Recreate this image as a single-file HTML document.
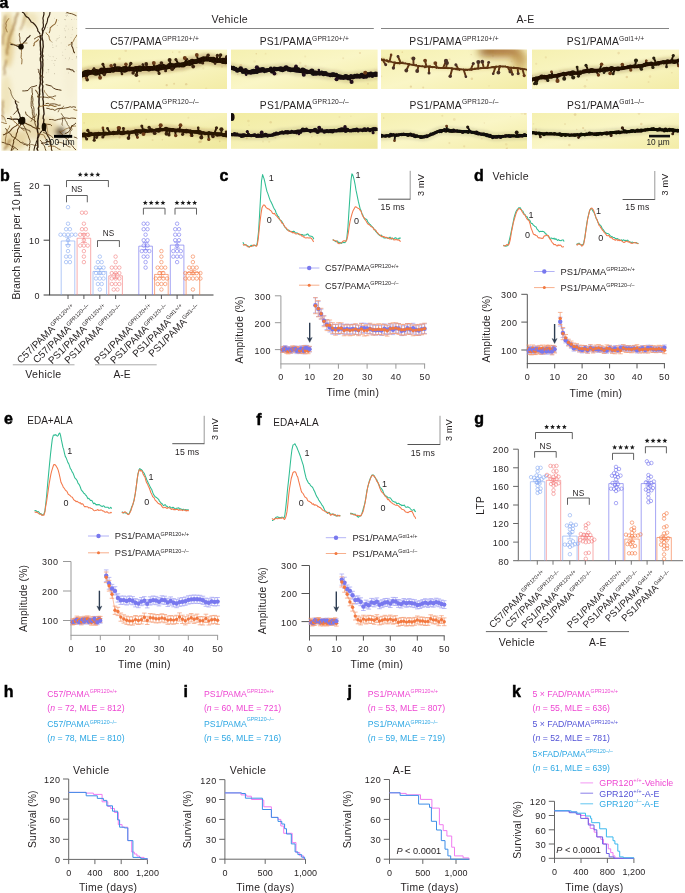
<!DOCTYPE html>
<html><head><meta charset="utf-8"><title>Figure</title>
<style>
html,body{margin:0;padding:0;background:#fff;}
body{width:685px;height:893px;overflow:hidden;}
svg{display:block;font-family:"Liberation Sans",sans-serif;will-change:transform;}
</style></head><body>
<svg width="685" height="893" viewBox="0 0 685 893">
<defs><filter id="bl1" filterUnits="userSpaceOnUse" x="0" y="0" width="80" height="160"><feGaussianBlur stdDeviation="0.4"/></filter><filter id="bl4" filterUnits="userSpaceOnUse" x="0" y="0" width="80" height="160"><feGaussianBlur stdDeviation="2.5"/></filter><filter id="bl5" filterUnits="userSpaceOnUse" x="0" y="0" width="80" height="160"><feGaussianBlur stdDeviation="1.1"/></filter><clipPath id="clipN"><rect x="1.3" y="11.8" width="76" height="139"/></clipPath><linearGradient id="dg" x1="0" y1="0" x2="1" y2="1"><stop offset="0" stop-color="#f5f0b0"/><stop offset="0.5" stop-color="#faf6c6"/><stop offset="1" stop-color="#f3eca6"/></linearGradient><linearGradient id="dg2" x1="0" y1="0" x2="1" y2="1"><stop offset="0" stop-color="#f2eca2"/><stop offset="0.5" stop-color="#f6f1b6"/><stop offset="1" stop-color="#efe89c"/></linearGradient><filter id="bd" filterUnits="userSpaceOnUse" x="0" y="0" width="685" height="160"><feGaussianBlur stdDeviation="0.75"/></filter><filter id="bh" filterUnits="userSpaceOnUse" x="0" y="0" width="685" height="160"><feGaussianBlur stdDeviation="1.6"/></filter><filter id="bb" filterUnits="userSpaceOnUse" x="0" y="0" width="685" height="160"><feGaussianBlur stdDeviation="4"/></filter><clipPath id="cl00"><rect x="82.0" y="49.6" width="145.0" height="39.4"/></clipPath><clipPath id="cl01"><rect x="231.0" y="49.6" width="146.60000000000002" height="39.4"/></clipPath><clipPath id="cl02"><rect x="381.0" y="49.6" width="146.0" height="39.4"/></clipPath><clipPath id="cl03"><rect x="532.0" y="49.6" width="147.0" height="39.4"/></clipPath><clipPath id="cl10"><rect x="82.0" y="113.0" width="145.0" height="35.80000000000001"/></clipPath><clipPath id="cl11"><rect x="231.0" y="113.0" width="146.60000000000002" height="35.80000000000001"/></clipPath><clipPath id="cl12"><rect x="381.0" y="113.0" width="146.0" height="35.80000000000001"/></clipPath><clipPath id="cl13"><rect x="532.0" y="113.0" width="147.0" height="35.80000000000001"/></clipPath></defs>
<rect width="685" height="893" fill="#fff"/>
<text x="-0.4" y="7.9" font-size="16" font-weight="bold" fill="#000" stroke="#000" stroke-width="0.45">a</text>
<rect x="1.30" y="11.80" width="76.00" height="139.00" fill="#f8f3da" stroke="none" stroke-width="1.0" />
<g clip-path="url(#clipN)">
<g filter="url(#bl4)">
<ellipse cx="8" cy="40" rx="6" ry="28" fill="#d8b868" opacity="0.55"/>
<ellipse cx="6" cy="95" rx="6" ry="20" fill="#e4cf90" opacity="0.4"/>
<ellipse cx="14" cy="140" rx="14" ry="10" fill="#d8b870" opacity="0.5"/>
<ellipse cx="40" cy="128" rx="18" ry="12" fill="#dcc080" opacity="0.45"/>
<ellipse cx="30" cy="20" rx="8" ry="8" fill="#e0c888" opacity="0.35"/>
<ellipse cx="60" cy="132" rx="5" ry="5" fill="#3a2410" opacity="0.75"/>
<ellipse cx="70" cy="60" rx="7" ry="40" fill="#f4eed2" opacity="0.5"/>
</g>
<circle cx="48.8" cy="71.9" r="0.29" fill="#6a5a40" opacity="0.60"/>
<circle cx="72.1" cy="59.3" r="0.33" fill="#6a5a40" opacity="0.44"/>
<circle cx="68.4" cy="72.9" r="0.42" fill="#6a5a40" opacity="0.52"/>
<circle cx="58.0" cy="38.2" r="0.43" fill="#6a5a40" opacity="0.47"/>
<circle cx="62.6" cy="52.1" r="0.41" fill="#6a5a40" opacity="0.32"/>
<circle cx="53.1" cy="56.8" r="0.39" fill="#6a5a40" opacity="0.64"/>
<circle cx="47.6" cy="27.4" r="0.38" fill="#6a5a40" opacity="0.60"/>
<circle cx="52.0" cy="60.4" r="0.35" fill="#6a5a40" opacity="0.42"/>
<circle cx="71.7" cy="19.6" r="0.48" fill="#6a5a40" opacity="0.42"/>
<circle cx="57.2" cy="25.6" r="0.37" fill="#6a5a40" opacity="0.64"/>
<circle cx="52.9" cy="47.3" r="0.36" fill="#6a5a40" opacity="0.42"/>
<circle cx="50.0" cy="56.3" r="0.35" fill="#6a5a40" opacity="0.49"/>
<circle cx="64.7" cy="19.6" r="0.45" fill="#6a5a40" opacity="0.66"/>
<circle cx="53.9" cy="63.6" r="0.42" fill="#6a5a40" opacity="0.42"/>
<circle cx="54.4" cy="18.2" r="0.35" fill="#6a5a40" opacity="0.48"/>
<circle cx="61.1" cy="42.9" r="0.39" fill="#6a5a40" opacity="0.35"/>
<circle cx="53.0" cy="47.7" r="0.37" fill="#6a5a40" opacity="0.37"/>
<circle cx="54.6" cy="73.7" r="0.45" fill="#6a5a40" opacity="0.59"/>
<circle cx="57.0" cy="39.0" r="0.43" fill="#6a5a40" opacity="0.52"/>
<circle cx="65.9" cy="15.2" r="0.43" fill="#6a5a40" opacity="0.38"/>
<circle cx="56.2" cy="45.9" r="0.49" fill="#6a5a40" opacity="0.46"/>
<circle cx="66.0" cy="25.9" r="0.48" fill="#6a5a40" opacity="0.40"/>
<circle cx="62.8" cy="55.2" r="0.42" fill="#6a5a40" opacity="0.48"/>
<circle cx="66.1" cy="13.6" r="0.50" fill="#6a5a40" opacity="0.52"/>
<circle cx="64.4" cy="28.8" r="0.37" fill="#6a5a40" opacity="0.56"/>
<circle cx="58.8" cy="20.5" r="0.30" fill="#6a5a40" opacity="0.65"/>
<circle cx="52.4" cy="44.9" r="0.43" fill="#6a5a40" opacity="0.39"/>
<circle cx="71.0" cy="42.5" r="0.49" fill="#6a5a40" opacity="0.38"/>
<circle cx="59.2" cy="35.5" r="0.32" fill="#6a5a40" opacity="0.47"/>
<circle cx="59.2" cy="37.4" r="0.47" fill="#6a5a40" opacity="0.43"/>
<circle cx="47.7" cy="59.5" r="0.36" fill="#6a5a40" opacity="0.31"/>
<circle cx="69.4" cy="58.0" r="0.41" fill="#6a5a40" opacity="0.63"/>
<circle cx="54.4" cy="65.1" r="0.34" fill="#6a5a40" opacity="0.64"/>
<circle cx="77.0" cy="47.4" r="0.36" fill="#6a5a40" opacity="0.59"/>
<circle cx="68.3" cy="44.3" r="0.27" fill="#6a5a40" opacity="0.44"/>
<circle cx="67.1" cy="13.9" r="0.35" fill="#6a5a40" opacity="0.67"/>
<circle cx="68.2" cy="29.1" r="0.28" fill="#6a5a40" opacity="0.53"/>
<circle cx="65.1" cy="30.8" r="0.38" fill="#6a5a40" opacity="0.70"/>
<circle cx="66.2" cy="46.6" r="0.27" fill="#6a5a40" opacity="0.49"/>
<circle cx="46.7" cy="72.8" r="0.38" fill="#6a5a40" opacity="0.54"/>
<circle cx="67.1" cy="15.5" r="0.46" fill="#6a5a40" opacity="0.58"/>
<circle cx="48.2" cy="69.7" r="0.47" fill="#6a5a40" opacity="0.70"/>
<circle cx="48.9" cy="69.8" r="0.44" fill="#6a5a40" opacity="0.40"/>
<circle cx="48.5" cy="54.9" r="0.27" fill="#6a5a40" opacity="0.52"/>
<circle cx="71.0" cy="37.6" r="0.33" fill="#6a5a40" opacity="0.47"/>
<circle cx="49.5" cy="16.9" r="0.39" fill="#6a5a40" opacity="0.63"/>
<circle cx="76.7" cy="19.5" r="0.33" fill="#6a5a40" opacity="0.63"/>
<circle cx="55.0" cy="60.6" r="0.49" fill="#6a5a40" opacity="0.64"/>
<circle cx="65.4" cy="58.2" r="0.46" fill="#6a5a40" opacity="0.36"/>
<circle cx="56.4" cy="58.5" r="0.37" fill="#6a5a40" opacity="0.61"/>
<circle cx="76.2" cy="57.9" r="0.40" fill="#6a5a40" opacity="0.59"/>
<circle cx="74.7" cy="19.1" r="0.26" fill="#6a5a40" opacity="0.62"/>
<circle cx="72.4" cy="53.8" r="0.36" fill="#6a5a40" opacity="0.41"/>
<circle cx="76.5" cy="56.7" r="0.50" fill="#6a5a40" opacity="0.56"/>
<circle cx="72.5" cy="27.3" r="0.43" fill="#6a5a40" opacity="0.34"/>
<circle cx="56.1" cy="40.8" r="0.38" fill="#6a5a40" opacity="0.70"/>
<circle cx="65.5" cy="19.7" r="0.45" fill="#6a5a40" opacity="0.60"/>
<circle cx="71.7" cy="71.0" r="0.45" fill="#6a5a40" opacity="0.51"/>
<circle cx="66.6" cy="16.4" r="0.34" fill="#6a5a40" opacity="0.46"/>
<circle cx="68.8" cy="16.8" r="0.30" fill="#6a5a40" opacity="0.40"/>
<circle cx="52.2" cy="42.3" r="0.50" fill="#6a5a40" opacity="0.43"/>
<circle cx="48.1" cy="14.1" r="0.44" fill="#6a5a40" opacity="0.46"/>
<circle cx="76.6" cy="28.4" r="0.49" fill="#6a5a40" opacity="0.42"/>
<circle cx="76.3" cy="70.8" r="0.35" fill="#6a5a40" opacity="0.34"/>
<circle cx="65.2" cy="49.3" r="0.41" fill="#6a5a40" opacity="0.36"/>
<circle cx="72.0" cy="34.4" r="0.33" fill="#6a5a40" opacity="0.33"/>
<circle cx="46.7" cy="40.8" r="0.28" fill="#6a5a40" opacity="0.42"/>
<circle cx="68.9" cy="59.8" r="0.36" fill="#6a5a40" opacity="0.39"/>
<circle cx="65.4" cy="36.9" r="0.50" fill="#6a5a40" opacity="0.61"/>
<circle cx="72.6" cy="29.8" r="0.44" fill="#6a5a40" opacity="0.47"/>
<g filter="url(#bl5)">
<path d="M18.1 12.1 L17.3 14.4 L16.6 16.3 L15.5 17.9 L15.5 20.0 L14.9 22.9 L13.8 25.4 L13.1 27.0 L13.1 29.3 L11.9 30.6 L11.3 33.3 L9.9 35.9 L9.6 37.4 L8.9 39.6 L8.6 42.5 L7.7 44.9 L8.4 46.7 L7.3 48.8 L6.8 50.8 L7.1 53.5 L7.0 55.0" stroke="#8a5a1c" stroke-width="2.0" fill="none" opacity="0.6"/>
<path d="M6.3 59.9 L5.7 62.7 L5.7 63.9 L4.3 67.4 L4.2 69.4 L4.7 71.0 L4.8 73.2 L4.0 75.0" stroke="#8a5a1c" stroke-width="1.6" fill="none" opacity="0.6"/>
<path d="M2.5 100.3 L3.1 102.0 L2.3 104.5 L3.2 106.0 L2.6 107.6 L1.7 109.8 L2.5 111.3 L2.8 113.6 L1.8 115.3 L2.9 118.4 L2.0 120.0" stroke="#8a5a1c" stroke-width="1.5" fill="none" opacity="0.6"/>
<path d="M10.7 139.7 L8.7 141.4 L8.4 143.4 L6.7 146.2 L5.5 147.9 L4.0 150.0" stroke="#8a5a1c" stroke-width="2.0" fill="none" opacity="0.6"/>
<path d="M5.1 15.4 L5.3 17.7 L4.4 20.0 L4.7 21.8 L4.8 24.3 L3.9 25.5 L4.5 28.0 L4.4 29.8 L4.6 31.4 L4.1 34.1 L2.8 36.7 L2.7 38.1 L3.0 40.2 L2.6 42.2 L3.0 45.0" stroke="#8a5a1c" stroke-width="1.4" fill="none" opacity="0.6"/>
<path d="M25.9 11.6 L26.3 13.8 L24.9 16.5 L24.4 18.2 L24.3 20.7 L23.3 21.5 L23.4 23.2 L22.3 25.4 L21.1 28.4 L20.0 30.0" stroke="#8a5a1c" stroke-width="1.2" fill="none" opacity="0.6"/>
</g>
<g filter="url(#bl1)">
<path d="M38.0 151.5 L37.0 148.4 L37.9 147.1 L37.8 144.5 L37.7 142.7 L37.7 140.1 L37.6 138.3 L38.0 136.8 L38.2 134.2 L37.7 131.8 L37.3 129.5 L37.8 127.8 L37.8 126.4 L38.0 124.1 L37.8 121.5 L38.0 119.6 L38.2 118.5 L38.5 115.7 L38.8 114.3 L38.7 112.4 L38.8 110.3 L38.4 108.5 L39.2 105.6 L39.1 104.2 L38.9 102.0 L39.0 100.5 L39.1 98.4 L39.0 96.4 L39.7 94.0 L39.5 92.5 L39.7 90.0 L39.3 87.8 L39.9 85.6 L40.2 83.7 L40.4 81.8 L40.5 80.2 L40.1 78.0 L40.4 76.1 L40.1 73.7 L40.4 72.5 L40.6 69.5 L40.9 68.2 L41.0 65.7 L40.9 63.5 L40.9 61.8 L40.4 60.4 L40.4 58.0 L41.2 55.7 L40.6 54.4 L40.9 52.2 L40.5 49.8 L40.6 48.0 L40.4 46.2 L40.3 43.8 L40.2 41.2 L41.0 38.9 L40.2 37.4 L40.5 35.0" stroke="#2e1c0c" stroke-width="1.5" fill="none" stroke-linejoin="round"/>
<path d="M43.5 124.0 L43.6 122.1 L43.9 119.5 L43.1 118.4 L43.4 115.7 L44.1 114.0 L43.9 112.0 L43.7 109.6 L43.5 108.3 L43.3 106.0 L43.4 103.1 L43.4 101.5 L42.8 98.8 L43.3 97.1 L43.0 95.4 L42.9 93.3 L42.5 91.0 L42.5 89.1 L42.9 86.0 L42.0 84.0 L42.8 82.1 L42.3 79.8 L42.2 77.9 L42.1 76.1 L42.4 74.4 L42.5 72.5 L42.7 70.5 L42.6 67.6 L42.8 66.5 L42.9 64.1 L42.7 61.7 L42.9 60.1 L42.3 57.4 L43.0 56.3 L42.3 53.9 L42.7 51.0 L42.6 49.6 L43.3 46.6 L43.1 44.5 L43.0 42.8 L43.0 41.5 L42.4 39.5 L42.0 36.5 L42.0 35.0" stroke="#2e1c0c" stroke-width="1.35" fill="none" stroke-linejoin="round"/>
<path d="M40.2 34.6 L39.3 32.6 L37.8 30.9 L37.7 29.3 L36.4 26.7 L35.0 24.8 L32.9 22.8 L31.2 22.0 L30.1 20.1 L28.3 17.7 L26.3 16.6 L25.3 15.4 L23.9 13.0 L22.0 12.0" stroke="#2e1c0c" stroke-width="1.2000000000000002" fill="none" stroke-linejoin="round"/>
<path d="M42.1 35.3 L42.5 33.5 L42.7 31.5 L42.1 29.0 L43.3 27.2 L43.4 24.6 L43.1 22.6 L43.3 20.7 L42.9 18.2 L43.3 16.8 L44.0 13.8 L43.8 12.0" stroke="#2e1c0c" stroke-width="1.2000000000000002" fill="none" stroke-linejoin="round"/>
<path d="M42.3 35.4 L42.8 32.7 L43.1 31.2 L44.4 29.3 L45.1 27.3 L45.7 25.3 L46.9 22.7 L47.4 20.9 L47.7 18.6 L49.0 16.1 L49.7 14.4 L50.0 12.0" stroke="#2e1c0c" stroke-width="1.125" fill="none" stroke-linejoin="round"/>
<path d="M36.3 129.6 L36.4 127.5 L35.9 125.9 L35.1 124.0 L34.8 121.9 L34.5 119.5 L34.6 118.4 L34.0 115.7 L34.2 114.5 L33.9 111.9 L34.0 109.5 L33.8 107.8 L32.8 105.6 L32.9 104.3 L32.6 102.1 L33.0 99.9 L32.7 97.5 L32.1 95.7 L32.6 93.9 L32.1 92.1 L32.1 89.8 L32.0 88.0" stroke="#5a3a14" stroke-width="0.8999999999999999" fill="none" stroke-linejoin="round"/>
<path d="M20.7 47.3 L18.1 46.4 L15.5 45.2 L13.8 44.7 L10.5 44.5" stroke="#2e1c0c" stroke-width="1.0499999999999998" fill="none" stroke-linejoin="round"/>
<path d="M21.0 46.7 L21.9 45.5 L23.0 43.4 L25.2 41.2 L26.1 40.1 L27.0 38.2 L29.2 36.7 L30.4 35.1" stroke="#2e1c0c" stroke-width="1.0499999999999998" fill="none" stroke-linejoin="round"/>
<path d="M21.1 46.7 L21.2 48.5 L21.5 51.3 L21.4 52.6 L21.3 54.8 L21.1 57.8 L22.0 59.1 L21.9 62.1 L21.6 64.3" stroke="#8a6430" stroke-width="0.8999999999999999" fill="none" stroke-linejoin="round"/>
<path d="M20.9 46.9 L21.1 44.5 L20.3 42.4 L19.7 40.0 L20.0 38.0 L19.2 35.1 L19.5 33.0" stroke="#5a3a14" stroke-width="0.75" fill="none" stroke-linejoin="round"/>
<path d="M34.0 39.2 L36.5 37.5 L38.1 36.7 L40.9 35.7" stroke="#5a3a14" stroke-width="0.8999999999999999" fill="none" stroke-linejoin="round"/>
<path d="M66.3 12.2 L69.5 13.4 L71.7 13.7 L73.9 14.6 L76.5 15.8" stroke="#5a3a14" stroke-width="0.8999999999999999" fill="none" stroke-linejoin="round"/>
<path d="M21.2 121.1 L21.0 119.2 L19.9 116.3 L19.7 114.5 L18.5 112.4 L17.9 110.3 L16.9 107.3 L17.0 105.0 L15.6 103.1 L15.2 100.4" stroke="#2e1c0c" stroke-width="1.2000000000000002" fill="none" stroke-linejoin="round"/>
<path d="M22.1 120.4 L19.3 119.9 L17.1 119.1 L14.4 119.2 L12.1 119.4 L9.0 118.5 L7.0 118.5" stroke="#2e1c0c" stroke-width="1.2000000000000002" fill="none" stroke-linejoin="round"/>
<path d="M21.4 120.9 L19.6 122.5 L17.8 124.5 L15.7 126.1 L13.5 127.4 L11.8 128.9 L10.3 130.8 L8.6 132.5 L6.2 133.4 L5.1 134.2 L3.0 135.0" stroke="#5a3a14" stroke-width="1.0499999999999998" fill="none" stroke-linejoin="round"/>
<path d="M21.6 121.2 L21.2 122.9 L20.1 125.7 L19.1 127.3 L17.5 129.9 L17.5 131.7 L16.4 133.8 L16.0 136.5 L14.7 138.5 L13.5 140.3 L13.8 141.8 L13.0 144.5 L12.7 146.3 L11.6 149.2 L11.0 151.0" stroke="#5a3a14" stroke-width="1.0499999999999998" fill="none" stroke-linejoin="round"/>
<path d="M21.2 121.1 L23.2 121.6 L25.2 123.0 L27.0 124.0 L28.7 124.7 L31.2 125.8 L33.2 127.3 L35.7 128.2 L37.4 128.0 L40.0 129.0" stroke="#5a3a14" stroke-width="1.0499999999999998" fill="none" stroke-linejoin="round"/>
<path d="M21.8 121.2 L22.5 122.7 L23.2 125.1 L24.0 126.0 L24.9 127.9 L25.8 129.7 L26.4 131.8 L27.4 134.1 L28.1 135.5 L28.9 138.0 L29.9 140.3 L30.1 142.1 L29.2 144.7 L29.7 146.5 L29.4 148.6 L29.0 151.0" stroke="#5a3a14" stroke-width="0.8999999999999999" fill="none" stroke-linejoin="round"/>
<path d="M5.4 128.2 L6.7 130.0 L7.5 131.3 L9.6 133.2 L10.7 134.0 L11.9 136.5 L13.2 137.0 L15.7 138.3 L16.5 139.4 L18.8 140.6 L19.9 142.1 L22.3 143.0 L23.5 144.1 L25.5 144.6 L28.0 146.0" stroke="#5a3a14" stroke-width="0.8999999999999999" fill="none" stroke-linejoin="round"/>
<path d="M1.6 142.2 L4.1 142.7 L5.7 143.8 L8.3 144.3 L10.0 144.7 L11.5 146.1 L14.1 147.0 L16.3 148.5 L18.0 150.0" stroke="#5a3a14" stroke-width="0.8999999999999999" fill="none" stroke-linejoin="round"/>
<path d="M25.5 111.6 L26.1 114.5 L28.0 115.6 L30.2 117.8 L32.4 119.0 L34.5 120.5 L36.0 122.0" stroke="#5a3a14" stroke-width="0.8999999999999999" fill="none" stroke-linejoin="round"/>
<path d="M31.5 95.5 L31.5 96.5 L31.3 98.9 L31.3 100.6 L31.1 102.9 L31.2 105.0 L31.2 106.7 L32.2 109.2 L32.3 111.8 L32.3 113.2 L33.1 115.9 L33.0 118.0" stroke="#5a3a14" stroke-width="0.8999999999999999" fill="none" stroke-linejoin="round"/>
<path d="M44.0 127.1 L44.5 129.3 L45.6 131.1 L46.6 133.3 L47.6 135.6 L49.2 138.0 L49.9 140.4 L50.9 141.8 L50.8 144.9 L51.5 146.5 L51.4 149.3 L52.0 151.0" stroke="#2e1c0c" stroke-width="1.0499999999999998" fill="none" stroke-linejoin="round"/>
<path d="M43.7 127.2 L43.2 128.2 L42.3 130.5 L40.4 132.7 L39.7 133.8 L38.9 136.1 L37.6 138.2 L37.4 140.0 L36.3 142.1 L35.9 143.9 L34.8 146.5 L34.1 149.3 L34.0 151.0" stroke="#2e1c0c" stroke-width="1.0499999999999998" fill="none" stroke-linejoin="round"/>
<path d="M44.1 126.4 L45.6 125.5 L47.5 124.3 L50.3 124.5 L52.0 126.0" stroke="#5a3a14" stroke-width="0.8999999999999999" fill="none" stroke-linejoin="round"/>
<path d="M45.7 103.6 L48.2 103.3 L49.4 104.2 L51.8 103.9 L54.5 103.9 L56.8 104.5 L58.1 105.3 L60.7 105.1" stroke="#5a3a14" stroke-width="0.8999999999999999" fill="none" stroke-linejoin="round"/>
<path d="M46.3 108.2 L48.9 108.6 L50.4 109.3 L52.8 109.3 L54.9 110.4 L56.9 109.0 L59.1 108.4 L61.6 108.5 L63.8 108.3 L65.6 107.9 L68.0 107.5 L70.2 106.7 L71.7 107.3 L73.6 106.7 L76.0 107.4" stroke="#5a3a14" stroke-width="0.8999999999999999" fill="none" stroke-linejoin="round"/>
<path d="M49.1 119.5 L51.4 119.5 L53.0 119.7 L54.9 120.4 L56.6 119.9 L58.7 119.3 L61.5 118.8 L63.1 118.4 L65.3 117.9 L66.8 118.0 L69.3 118.5 L71.7 118.0 L74.0 118.2 L76.0 118.5" stroke="#5a3a14" stroke-width="0.8999999999999999" fill="none" stroke-linejoin="round"/>
<path d="M44.0 89.8 L44.8 92.2 L46.3 93.7 L47.9 96.2 L50.3 97.0 L52.0 98.5 L53.0 98.5 L55.0 100.0" stroke="#8a6430" stroke-width="0.75" fill="none" stroke-linejoin="round"/>
<path d="M59.5 131.6 L61.4 133.7 L62.6 134.6 L64.2 136.8 L65.6 138.3 L67.4 139.2 L68.4 141.1 L69.5 143.3 L70.4 143.9 L72.5 145.9 L73.7 147.8 L76.0 150.0" stroke="#5a3a14" stroke-width="0.8999999999999999" fill="none" stroke-linejoin="round"/>
<path d="M59.5 131.7 L61.8 131.4 L64.0 130.2 L65.6 129.0 L68.4 128.0 L70.5 127.9 L71.9 126.5 L74.3 126.1 L76.0 126.0" stroke="#8a6430" stroke-width="0.75" fill="none" stroke-linejoin="round"/>
<path d="M40.1 140.1 L41.7 141.8 L42.8 144.4 L44.4 145.7 L45.2 148.6 L46.0 151.0" stroke="#5a3a14" stroke-width="0.8999999999999999" fill="none" stroke-linejoin="round"/>
<path d="M61.2 113.3 L62.6 115.6 L63.7 116.9 L64.9 118.8 L65.3 120.3 L66.7 122.2 L67.5 124.6 L69.1 126.6 L69.3 127.8 L70.8 130.2" stroke="#4a2e10" stroke-width="0.7070147355307799" fill="none" stroke-linejoin="round"/>
<path d="M43.2 132.3 L45.2 133.2 L46.5 134.1 L48.7 134.7 L50.7 135.7 L51.6 136.5 L53.3 138.0" stroke="#5a3a14" stroke-width="0.8282917041255287" fill="none" stroke-linejoin="round"/>
<path d="M63.7 105.8 L63.3 106.8 L62.0 107.8 L60.0 108.6 L59.1 109.8 L58.6 110.9 L58.0 112.2" stroke="#5a3a14" stroke-width="0.6323474242272007" fill="none" stroke-linejoin="round"/>
<path d="M64.8 133.6 L67.0 132.9 L69.5 131.1 L70.6 128.6 L71.8 125.9 L74.1 124.7 L76.0 122.9" stroke="#4a2e10" stroke-width="0.9328643757508444" fill="none" stroke-linejoin="round"/>
<path d="M57.1 142.5 L59.6 142.3 L62.0 142.9 L64.1 143.7 L66.0 144.8 L68.1 146.4 L70.5 147.2" stroke="#5a3a14" stroke-width="0.7223656892787012" fill="none" stroke-linejoin="round"/>
<path d="M48.1 146.4 L50.2 146.1 L52.7 146.1 L54.5 146.4 L56.5 147.5 L58.4 148.8 L60.4 149.6" stroke="#8a6430" stroke-width="0.9379761845777379" fill="none" stroke-linejoin="round"/>
<path d="M71.9 125.1 L71.3 126.9 L72.1 129.8 L70.2 131.6 L70.0 134.0 L68.4 136.8 L68.3 138.7" stroke="#5a3a14" stroke-width="0.6235046418243314" fill="none" stroke-linejoin="round"/>
<path d="M48.7 136.5 L47.9 134.9 L47.8 132.4 L47.3 129.8 L47.0 127.7 L46.7 125.5 L46.0 123.0" stroke="#8a6430" stroke-width="0.6251802451371651" fill="none" stroke-linejoin="round"/>
<path d="M37.0 133.2 L38.7 133.7 L41.2 134.4 L43.1 134.7 L44.4 135.7 L45.2 137.9 L46.6 139.7" stroke="#8a6430" stroke-width="0.8590125191980593" fill="none" stroke-linejoin="round"/>
<path d="M6.1 122.2 L5.2 120.1 L4.8 118.7 L3.6 116.5 L1.3 115.5 L-0.2 115.0 L-1.8 113.9 L-4.0 113.3 L-5.6 114.1 L-8.1 113.8" stroke="#8a6430" stroke-width="0.6510550300689448" fill="none" stroke-linejoin="round"/>
<path d="M30.8 121.7 L32.1 119.9 L32.3 118.3 L33.5 117.3 L34.8 116.8 L36.3 115.4 L36.4 113.7" stroke="#5a3a14" stroke-width="0.6671207652337292" fill="none" stroke-linejoin="round"/>
<path d="M5.5 143.6 L5.4 141.3 L5.5 138.9 L5.9 136.9 L6.2 135.5 L6.2 133.3 L6.7 131.5 L8.2 128.9 L9.2 127.6 L9.7 125.4" stroke="#8a6430" stroke-width="0.8202841753354345" fill="none" stroke-linejoin="round"/>
<path d="M22.2 141.9 L24.5 143.5 L26.6 144.2 L29.8 145.0 L31.9 144.4 L35.0 145.5 L38.0 145.3" stroke="#5a3a14" stroke-width="0.6082356878841391" fill="none" stroke-linejoin="round"/>
<path d="M37.8 96.9 L38.1 95.5 L38.3 94.2 L37.3 93.0 L36.8 91.3 L36.1 91.3 L35.5 89.8" stroke="#5a3a14" stroke-width="0.9505735072592207" fill="none" stroke-linejoin="round"/>
<path d="M14.3 147.9 L12.7 149.7 L11.2 151.2 L8.9 152.3 L7.0 154.3 L3.7 154.5 L1.7 154.7" stroke="#5a3a14" stroke-width="0.9947779124434056" fill="none" stroke-linejoin="round"/>
<path d="M49.6 142.2 L50.3 144.8 L51.4 146.2 L51.5 149.2 L52.2 151.4 L53.3 153.4 L54.2 155.7 L54.9 157.5 L55.6 159.2 L57.0 161.7" stroke="#5a3a14" stroke-width="0.9491413412725513" fill="none" stroke-linejoin="round"/>
<path d="M73.8 137.0 L76.3 137.7 L78.4 139.2 L80.0 140.0 L82.6 141.2 L84.0 143.5 L86.3 144.6" stroke="#4a2e10" stroke-width="0.8405192224695184" fill="none" stroke-linejoin="round"/>
<path d="M73.4 109.3 L75.5 110.1 L77.8 110.3 L80.8 110.7 L82.9 112.0 L84.5 112.8 L86.6 113.4 L88.4 115.2 L89.7 117.5 L90.5 118.9" stroke="#8a6430" stroke-width="0.9038122597813701" fill="none" stroke-linejoin="round"/>
<path d="M13.3 114.6 L13.9 114.0 L15.1 112.8 L16.1 111.5 L17.2 110.8 L17.4 109.8 L18.9 109.0" stroke="#4a2e10" stroke-width="0.8608908133628417" fill="none" stroke-linejoin="round"/>
<path d="M41.2 143.4 L42.6 143.1 L44.8 142.9 L46.0 142.4 L47.6 141.0 L48.4 141.8 L50.4 141.1" stroke="#4a2e10" stroke-width="1.0360130623308201" fill="none" stroke-linejoin="round"/>
<path d="M6.9 123.5 L4.3 123.2 L2.4 122.4 L-0.4 122.0 L-2.5 121.1 L-4.1 119.8 L-7.0 118.9 L-8.8 118.4 L-11.2 118.2 L-13.6 118.2" stroke="#8a6430" stroke-width="0.8912253922155497" fill="none" stroke-linejoin="round"/>
<path d="M56.1 95.8 L54.1 96.2 L52.7 96.9 L50.0 97.2 L48.3 97.8 L46.0 97.3 L43.5 97.1 L41.7 97.0 L39.3 97.1 L37.1 96.8" stroke="#5a3a14" stroke-width="0.7934381179665131" fill="none" stroke-linejoin="round"/>
<path d="M10.6 116.1 L11.4 118.0 L13.1 120.4 L14.0 121.5 L15.8 122.7 L17.9 125.2 L19.2 126.4 L20.9 128.2 L22.9 129.3 L24.4 131.1" stroke="#8a6430" stroke-width="0.8849274322978382" fill="none" stroke-linejoin="round"/>
<path d="M62.5 125.5 L61.9 124.1 L62.3 122.5 L62.5 121.4 L62.6 119.2 L62.4 118.3 L62.2 116.8" stroke="#4a2e10" stroke-width="0.632195189075585" fill="none" stroke-linejoin="round"/>
<path d="M56.7 106.1 L54.7 106.5 L52.1 105.5 L50.5 104.9 L49.0 105.9 L46.9 105.5 L45.0 105.3 L42.5 106.0 L40.0 106.3 L38.5 106.5" stroke="#8a6430" stroke-width="1.0229077160695275" fill="none" stroke-linejoin="round"/>
<path d="M30.3 132.4 L29.6 130.4 L28.0 130.2 L26.1 129.0 L24.5 128.9 L22.8 128.4 L20.8 127.7" stroke="#4a2e10" stroke-width="0.7380215226825434" fill="none" stroke-linejoin="round"/>
<path d="M51.3 41.6 L50.1 40.4 L49.3 38.5 L49.2 37.3 L48.6 35.5 L46.7 33.8 L46.0 32.5" stroke="#8a6430" stroke-width="0.9583937451360972" fill="none" stroke-linejoin="round"/>
<path d="M71.5 42.0 L72.0 43.7 L71.7 46.0 L72.6 47.5 L73.2 49.3 L73.6 51.4 L74.7 53.1" stroke="#4a2e10" stroke-width="1.0240661136233105" fill="none" stroke-linejoin="round"/>
<path d="M38.0 68.9 L38.7 70.5 L38.8 72.9 L39.8 73.8 L40.6 75.7 L42.7 76.1 L43.4 77.7" stroke="#4a2e10" stroke-width="0.8362295562589764" fill="none" stroke-linejoin="round"/>
<path d="M33.2 46.2 L34.3 44.9 L34.0 43.8 L35.1 42.1 L36.2 41.5 L38.0 40.2 L38.5 38.8" stroke="#8a6430" stroke-width="1.011839911879685" fill="none" stroke-linejoin="round"/>
<path d="M68.1 45.4 L70.0 44.5 L71.6 43.4 L73.4 41.1 L74.6 38.4 L75.9 36.9 L76.8 34.8" stroke="#8a6430" stroke-width="0.7973935531827809" fill="none" stroke-linejoin="round"/>
<path d="M66.3 68.9 L68.3 69.0 L69.5 69.0 L70.6 69.8 L72.6 69.9 L73.4 71.0 L74.5 72.2" stroke="#4a2e10" stroke-width="1.0486999227626845" fill="none" stroke-linejoin="round"/>
<path d="M9.7 42.8 L12.7 43.8 L15.4 45.3 L18.7 44.6 L22.0 43.7 L24.4 43.0 L27.4 43.1" stroke="#8a6430" stroke-width="0.7607726944722188" fill="none" stroke-linejoin="round"/>
<path d="M8.4 87.8 L10.1 89.4 L10.8 91.4 L11.2 93.9 L11.6 94.8 L12.5 96.8 L13.7 98.8 L15.1 100.1 L17.3 101.8 L19.2 102.5" stroke="#4a2e10" stroke-width="0.6453757228656543" fill="none" stroke-linejoin="round"/>
<path d="M49.1 33.2 L50.0 30.7 L50.2 27.8 L52.6 25.6 L55.1 23.9 L56.2 21.5 L56.7 19.1" stroke="#8a6430" stroke-width="1.0082109154002308" fill="none" stroke-linejoin="round"/>
<path d="M8.9 18.3 L7.0 20.9 L5.9 23.2 L6.3 25.6 L5.7 28.0 L6.6 30.3 L7.3 32.3" stroke="#8a6430" stroke-width="0.8332405045909221" fill="none" stroke-linejoin="round"/>
<path d="M45.7 84.5 L48.0 85.2 L51.3 86.0 L53.4 88.0 L55.9 89.3 L58.4 89.7 L61.4 90.3" stroke="#4a2e10" stroke-width="0.9571205641764832" fill="none" stroke-linejoin="round"/>
<path d="M22.3 90.9 L24.6 90.9 L28.0 90.5 L29.6 88.3 L31.6 86.9 L34.0 86.5 L37.0 85.4" stroke="#4a2e10" stroke-width="0.8963257530008835" fill="none" stroke-linejoin="round"/>
<circle cx="21.0" cy="46.8" r="2.80" fill="#140a04" />
<path d="M18.2 119.5 Q21 115.5 24.8 117.5 Q26.2 121.5 24.2 124.2 Q20.5 125.5 18.6 123 Q17.6 121 18.2 119.5 Z" fill="#140a04"/>
<ellipse cx="44" cy="127" rx="2.3" ry="4.2" fill="#140a04"/>
</g>
</g>
<rect x="54.00" y="134.90" width="18.20" height="2.90" fill="#000" stroke="none" stroke-width="1.0" />
<text x="44.4" y="145.4" font-size="8.3" fill="#111"  letter-spacing="0.5">100 µm</text>
<text x="229.8" y="23.0" font-size="10.6" text-anchor="middle" fill="#231f20"  letter-spacing="0.35">Vehicle</text>
<text x="525.4" y="23.0" font-size="10.5" text-anchor="middle" fill="#231f20"  letter-spacing="0.1">A-E</text>
<line x1="85.4" y1="28.5" x2="373.8" y2="28.5" stroke="#777" stroke-width="0.9" />
<line x1="381.0" y1="28.5" x2="669.0" y2="28.5" stroke="#777" stroke-width="0.9" />
<text x="154.6" y="44.9" font-size="10.3" text-anchor="middle" fill="#231f20"  letter-spacing="0.2">C57/PAMA<tspan font-size="6.70" dy="-4.30">GPR120+/+</tspan></text>
<text x="154.6" y="108.7" font-size="10.3" text-anchor="middle" fill="#231f20"  letter-spacing="0.2">C57/PAMA<tspan font-size="6.70" dy="-4.30">GPR120–/–</tspan></text>
<text x="304.4" y="44.9" font-size="10.3" text-anchor="middle" fill="#231f20"  letter-spacing="0.2">PS1/PAMA<tspan font-size="6.70" dy="-4.30">GPR120+/+</tspan></text>
<text x="304.4" y="108.7" font-size="10.3" text-anchor="middle" fill="#231f20"  letter-spacing="0.2">PS1/PAMA<tspan font-size="6.70" dy="-4.30">GPR120–/–</tspan></text>
<text x="454.1" y="44.9" font-size="10.3" text-anchor="middle" fill="#231f20"  letter-spacing="0.2">PS1/PAMA<tspan font-size="6.70" dy="-4.30">GPR120+/+</tspan></text>
<text x="454.1" y="108.7" font-size="10.3" text-anchor="middle" fill="#231f20"  letter-spacing="0.2">PS1/PAMA<tspan font-size="6.70" dy="-4.30">GPR120–/–</tspan></text>
<text x="605.6" y="44.9" font-size="10.3" text-anchor="middle" fill="#231f20"  letter-spacing="0.2">PS1/PAMA<tspan font-size="6.70" dy="-4.30">Gαi1+/+</tspan></text>
<text x="605.6" y="108.7" font-size="10.3" text-anchor="middle" fill="#231f20"  letter-spacing="0.2">PS1/PAMA<tspan font-size="6.70" dy="-4.30">Gαi1–/–</tspan></text>
<rect x="82.00" y="49.60" width="145.00" height="39.40" fill="url(#dg)" stroke="none" stroke-width="1.0" />
<g clip-path="url(#cl00)">
<circle cx="116.5" cy="71.0" r="0.90" fill="#c09050" opacity="0.22"/>
<circle cx="172.7" cy="52.2" r="0.61" fill="#c09050" opacity="0.27"/>
<circle cx="119.6" cy="58.8" r="1.40" fill="#c09050" opacity="0.19"/>
<circle cx="203.3" cy="68.4" r="1.11" fill="#c09050" opacity="0.13"/>
<circle cx="174.1" cy="83.8" r="1.02" fill="#c09050" opacity="0.25"/>
<circle cx="179.4" cy="52.1" r="1.21" fill="#c09050" opacity="0.22"/>
<circle cx="125.7" cy="50.8" r="1.29" fill="#c09050" opacity="0.19"/>
<circle cx="186.2" cy="84.2" r="1.17" fill="#c09050" opacity="0.28"/>
<circle cx="139.3" cy="81.2" r="0.96" fill="#c09050" opacity="0.29"/>
<circle cx="209.4" cy="53.4" r="0.71" fill="#c09050" opacity="0.14"/>
<circle cx="222.0" cy="66.8" r="1.10" fill="#c09050" opacity="0.16"/>
<circle cx="155.6" cy="64.8" r="0.88" fill="#c09050" opacity="0.22"/>
<circle cx="166.7" cy="85.2" r="1.15" fill="#c09050" opacity="0.29"/>
<circle cx="206.2" cy="88.6" r="1.14" fill="#c09050" opacity="0.13"/>
<g filter="url(#bh)">
<path d="M79.0 74.5 L81.0 74.4 L83.0 74.1 L85.0 73.7 L87.0 73.2 L89.0 72.8 L91.0 72.4 L93.0 72.1 L95.0 72.0 L97.0 71.9 L99.0 71.7 L101.0 71.5 L103.0 71.1 L105.0 70.8 L107.0 70.4 L109.0 70.0 L111.0 69.8 L113.0 69.6 L115.0 69.5 L117.0 69.5 L119.0 69.4 L121.0 69.4 L123.0 69.3 L125.0 69.2 L127.0 69.1 L129.0 69.0 L131.0 69.0 L133.0 69.0 L135.0 69.0 L137.0 68.9 L139.0 68.8 L141.0 68.7 L143.0 68.6 L145.0 68.5 L147.0 68.4 L149.0 68.4 L151.0 68.4 L153.0 68.3 L155.0 68.0 L157.0 67.8 L159.0 67.5 L161.0 67.2 L163.0 67.1 L165.0 67.0 L167.0 66.9 L169.0 66.7 L171.0 66.3 L173.0 65.9 L175.0 65.5 L177.0 65.2 L179.0 65.0 L181.0 64.9 L183.0 64.6 L185.0 64.0 L187.0 63.4 L189.0 62.7 L191.0 62.2 L193.0 62.0 L195.0 61.8 L197.0 61.3 L199.0 60.7 L201.0 60.0 L203.0 59.4 L205.0 59.1 L207.0 59.0 L209.0 59.2 L211.0 59.6 L213.0 59.9 L215.0 60.3 L217.0 60.5 L219.0 60.5 L221.0 60.6 L223.0 60.8 L225.0 61.1 L227.0 61.3 L229.0 61.4" stroke="#8a5a20" stroke-width="11.6" fill="none" opacity="0.32"/>
</g>
<g filter="url(#bd)">
<path d="M79.0 74.5 L81.0 74.4 L83.0 74.1 L85.0 73.7 L87.0 73.2 L89.0 72.8 L91.0 72.4 L93.0 72.1 L95.0 72.0 L97.0 71.9 L99.0 71.7 L101.0 71.5 L103.0 71.1 L105.0 70.8 L107.0 70.4 L109.0 70.0 L111.0 69.8 L113.0 69.6 L115.0 69.5 L117.0 69.5 L119.0 69.4 L121.0 69.4 L123.0 69.3 L125.0 69.2 L127.0 69.1 L129.0 69.0 L131.0 69.0 L133.0 69.0 L135.0 69.0 L137.0 68.9 L139.0 68.8 L141.0 68.7 L143.0 68.6 L145.0 68.5 L147.0 68.4 L149.0 68.4 L151.0 68.4 L153.0 68.3 L155.0 68.0 L157.0 67.8 L159.0 67.5 L161.0 67.2 L163.0 67.1 L165.0 67.0 L167.0 66.9 L169.0 66.7 L171.0 66.3 L173.0 65.9 L175.0 65.5 L177.0 65.2 L179.0 65.0 L181.0 64.9 L183.0 64.6 L185.0 64.0 L187.0 63.4 L189.0 62.7 L191.0 62.2 L193.0 62.0 L195.0 61.8 L197.0 61.3 L199.0 60.7 L201.0 60.0 L203.0 59.4 L205.0 59.1 L207.0 59.0 L209.0 59.2 L211.0 59.6 L213.0 59.9 L215.0 60.3 L217.0 60.5 L219.0 60.5 L221.0 60.6 L223.0 60.8 L225.0 61.1 L227.0 61.3 L229.0 61.4" stroke="#241206" stroke-width="4.64" fill="none" stroke-linecap="round" stroke-linejoin="round"/>
<g fill="#241206"><circle cx="80.0" cy="74.9" r="3.28"/><circle cx="82.5" cy="74.3" r="2.88"/><circle cx="84.0" cy="74.3" r="2.65"/><circle cx="85.6" cy="73.1" r="3.10"/><circle cx="88.1" cy="72.5" r="3.02"/><circle cx="89.9" cy="72.2" r="2.21"/><circle cx="92.2" cy="72.7" r="1.81"/><circle cx="94.3" cy="71.5" r="2.89"/><circle cx="95.9" cy="72.4" r="3.30"/><circle cx="97.8" cy="72.5" r="2.23"/><circle cx="99.1" cy="71.8" r="1.79"/><circle cx="100.6" cy="71.4" r="2.71"/><circle cx="102.0" cy="70.7" r="3.12"/><circle cx="103.7" cy="71.5" r="3.17"/><circle cx="105.4" cy="70.6" r="2.57"/><circle cx="107.5" cy="70.4" r="2.63"/><circle cx="109.6" cy="70.5" r="2.55"/><circle cx="111.4" cy="70.0" r="2.12"/><circle cx="113.0" cy="70.1" r="2.57"/><circle cx="115.0" cy="68.9" r="2.40"/><circle cx="117.0" cy="68.9" r="2.72"/><circle cx="119.1" cy="68.9" r="2.74"/><circle cx="120.9" cy="69.6" r="2.30"/><circle cx="123.1" cy="69.6" r="1.78"/><circle cx="124.4" cy="69.4" r="3.28"/><circle cx="125.9" cy="69.1" r="2.69"/><circle cx="127.6" cy="68.9" r="2.24"/><circle cx="129.3" cy="69.1" r="2.22"/><circle cx="131.0" cy="69.3" r="1.78"/><circle cx="133.0" cy="69.3" r="2.23"/><circle cx="134.5" cy="69.3" r="2.12"/><circle cx="136.0" cy="68.8" r="2.85"/><circle cx="137.3" cy="68.7" r="2.27"/><circle cx="139.7" cy="68.7" r="3.10"/><circle cx="141.1" cy="68.5" r="2.78"/><circle cx="143.6" cy="68.5" r="2.10"/><circle cx="145.0" cy="68.6" r="2.04"/><circle cx="147.3" cy="68.8" r="2.03"/><circle cx="148.9" cy="68.8" r="2.76"/><circle cx="151.2" cy="68.2" r="1.95"/><circle cx="152.8" cy="68.6" r="2.17"/><circle cx="154.5" cy="68.0" r="2.41"/><circle cx="156.3" cy="68.4" r="1.99"/><circle cx="157.5" cy="68.2" r="3.14"/><circle cx="160.1" cy="67.3" r="3.26"/><circle cx="162.6" cy="66.8" r="2.93"/><circle cx="164.9" cy="67.2" r="2.57"/><circle cx="166.5" cy="66.8" r="2.10"/><circle cx="167.8" cy="66.9" r="2.20"/><circle cx="170.2" cy="65.9" r="3.18"/><circle cx="172.3" cy="66.5" r="3.17"/><circle cx="174.8" cy="65.6" r="1.76"/><circle cx="177.0" cy="64.8" r="2.22"/><circle cx="179.2" cy="65.0" r="2.40"/><circle cx="181.7" cy="65.0" r="2.28"/><circle cx="183.2" cy="65.0" r="2.50"/><circle cx="185.5" cy="63.7" r="2.05"/><circle cx="187.5" cy="63.6" r="2.01"/><circle cx="189.8" cy="63.0" r="3.03"/><circle cx="192.1" cy="61.4" r="2.74"/><circle cx="194.5" cy="61.3" r="2.17"/><circle cx="196.1" cy="61.6" r="2.41"/><circle cx="198.0" cy="61.3" r="1.74"/><circle cx="199.3" cy="60.1" r="1.94"/><circle cx="200.6" cy="60.7" r="3.10"/><circle cx="201.9" cy="59.7" r="2.24"/><circle cx="203.5" cy="59.1" r="2.77"/><circle cx="205.5" cy="58.8" r="2.04"/><circle cx="207.2" cy="58.6" r="2.63"/><circle cx="209.4" cy="59.1" r="1.87"/><circle cx="210.9" cy="59.4" r="2.70"/><circle cx="213.1" cy="59.8" r="3.02"/><circle cx="215.2" cy="60.2" r="2.33"/><circle cx="217.1" cy="60.7" r="2.41"/><circle cx="219.3" cy="60.5" r="2.13"/><circle cx="221.2" cy="60.9" r="1.85"/><circle cx="223.0" cy="60.8" r="3.14"/><circle cx="225.5" cy="61.0" r="3.17"/><circle cx="227.9" cy="61.0" r="2.48"/></g>
<path d="M85.4 73.6 L87.2 79.8" stroke="#241206" stroke-width="1.9" fill="none" stroke-linecap="round"/>
<circle cx="87.2" cy="79.8" r="1.80" fill="#3a2410" />
<path d="M89.0 72.8 L86.1 78.0" stroke="#241206" stroke-width="1.9" fill="none" stroke-linecap="round"/>
<circle cx="86.1" cy="78.0" r="1.33" fill="#6a3a18" />
<path d="M91.7 72.3 L94.0 68.7" stroke="#241206" stroke-width="1.9" fill="none" stroke-linecap="round"/>
<circle cx="94.0" cy="68.7" r="1.36" fill="#3a2410" />
<path d="M99.1 71.7 L100.1 77.8" stroke="#241206" stroke-width="1.9" fill="none" stroke-linecap="round"/>
<circle cx="100.1" cy="77.8" r="1.95" fill="#6a3a18" />
<path d="M102.7 71.2 L104.3 74.5" stroke="#241206" stroke-width="1.9" fill="none" stroke-linecap="round"/>
<circle cx="104.3" cy="74.5" r="1.66" fill="#3a2410" />
<path d="M105.5 70.7 L102.9 64.3" stroke="#241206" stroke-width="1.9" fill="none" stroke-linecap="round"/>
<circle cx="102.9" cy="64.3" r="1.49" fill="#3a2410" />
<path d="M112.6 69.6 L111.1 65.8" stroke="#241206" stroke-width="1.9" fill="none" stroke-linecap="round"/>
<circle cx="111.1" cy="65.8" r="1.75" fill="#6a3a18" />
<path d="M115.6 69.5 L114.7 64.9" stroke="#241206" stroke-width="1.9" fill="none" stroke-linecap="round"/>
<circle cx="114.7" cy="64.9" r="1.58" fill="#3a2410" />
<path d="M120.5 69.4 L122.0 74.0" stroke="#241206" stroke-width="1.9" fill="none" stroke-linecap="round"/>
<circle cx="122.0" cy="74.0" r="1.34" fill="#3a2410" />
<path d="M126.0 69.1 L125.9 64.2" stroke="#241206" stroke-width="1.9" fill="none" stroke-linecap="round"/>
<circle cx="125.9" cy="64.2" r="1.78" fill="#6a3a18" />
<path d="M128.3 69.1 L130.8 63.4" stroke="#241206" stroke-width="1.9" fill="none" stroke-linecap="round"/>
<circle cx="130.8" cy="63.4" r="1.67" fill="#3a2410" />
<path d="M134.9 69.0 L133.1 73.1" stroke="#241206" stroke-width="1.9" fill="none" stroke-linecap="round"/>
<circle cx="133.1" cy="73.1" r="1.73" fill="#3a2410" />
<path d="M137.7 68.9 L136.4 75.2" stroke="#241206" stroke-width="1.9" fill="none" stroke-linecap="round"/>
<circle cx="136.4" cy="75.2" r="1.83" fill="#3a2410" />
<path d="M144.5 68.5 L142.8 64.4" stroke="#241206" stroke-width="1.9" fill="none" stroke-linecap="round"/>
<circle cx="142.8" cy="64.4" r="1.22" fill="#3a2410" />
<path d="M147.3 68.4 L146.2 64.0" stroke="#241206" stroke-width="1.9" fill="none" stroke-linecap="round"/>
<circle cx="146.2" cy="64.0" r="1.90" fill="#3a2410" />
<path d="M154.0 68.2 L153.8 62.9" stroke="#241206" stroke-width="1.9" fill="none" stroke-linecap="round"/>
<circle cx="153.8" cy="62.9" r="1.95" fill="#6a3a18" />
<path d="M157.0 67.8 L159.1 73.4" stroke="#241206" stroke-width="1.9" fill="none" stroke-linecap="round"/>
<circle cx="159.1" cy="73.4" r="1.56" fill="#3a2410" />
<path d="M163.0 67.1 L161.4 63.1" stroke="#241206" stroke-width="1.9" fill="none" stroke-linecap="round"/>
<circle cx="161.4" cy="63.1" r="1.85" fill="#3a2410" />
<path d="M167.5 66.9 L165.6 70.9" stroke="#241206" stroke-width="1.9" fill="none" stroke-linecap="round"/>
<circle cx="165.6" cy="70.9" r="1.43" fill="#3a2410" />
<path d="M171.1 66.3 L169.6 60.1" stroke="#241206" stroke-width="1.9" fill="none" stroke-linecap="round"/>
<circle cx="169.6" cy="60.1" r="1.98" fill="#3a2410" />
<path d="M174.6 65.6 L172.2 69.1" stroke="#241206" stroke-width="1.9" fill="none" stroke-linecap="round"/>
<circle cx="172.2" cy="69.1" r="1.95" fill="#3a2410" />
<path d="M178.9 65.0 L175.9 59.5" stroke="#241206" stroke-width="1.9" fill="none" stroke-linecap="round"/>
<circle cx="175.9" cy="59.5" r="1.50" fill="#3a2410" />
<path d="M183.9 64.4 L186.6 59.2" stroke="#241206" stroke-width="1.9" fill="none" stroke-linecap="round"/>
<circle cx="186.6" cy="59.2" r="1.55" fill="#3a2410" />
<path d="M187.1 63.3 L184.8 57.9" stroke="#241206" stroke-width="1.9" fill="none" stroke-linecap="round"/>
<circle cx="184.8" cy="57.9" r="2.00" fill="#6a3a18" />
<path d="M191.6 62.1 L193.2 66.6" stroke="#241206" stroke-width="1.9" fill="none" stroke-linecap="round"/>
<circle cx="193.2" cy="66.6" r="1.88" fill="#3a2410" />
<path d="M198.2 60.9 L196.8 55.0" stroke="#241206" stroke-width="1.9" fill="none" stroke-linecap="round"/>
<circle cx="196.8" cy="55.0" r="1.88" fill="#6a3a18" />
<path d="M202.7 59.5 L202.7 63.1" stroke="#241206" stroke-width="1.9" fill="none" stroke-linecap="round"/>
<circle cx="202.7" cy="63.1" r="1.52" fill="#3a2410" />
<path d="M207.3 59.0 L208.1 55.2" stroke="#241206" stroke-width="1.9" fill="none" stroke-linecap="round"/>
<circle cx="208.1" cy="55.2" r="1.77" fill="#3a2410" />
<path d="M212.6 59.9 L215.1 63.5" stroke="#241206" stroke-width="1.9" fill="none" stroke-linecap="round"/>
<circle cx="215.1" cy="63.5" r="1.33" fill="#3a2410" />
<path d="M216.5 60.4 L217.4 55.4" stroke="#241206" stroke-width="1.9" fill="none" stroke-linecap="round"/>
<circle cx="217.4" cy="55.4" r="1.61" fill="#3a2410" />
<path d="M219.0 60.5 L220.6 54.9" stroke="#241206" stroke-width="1.9" fill="none" stroke-linecap="round"/>
<circle cx="220.6" cy="54.9" r="1.69" fill="#3a2410" />
<path d="M224.2 61.0 L226.5 56.5" stroke="#241206" stroke-width="1.9" fill="none" stroke-linecap="round"/>
<circle cx="226.5" cy="56.5" r="1.24" fill="#3a2410" />
</g>
</g>
<rect x="231.00" y="49.60" width="146.60" height="39.40" fill="url(#dg)" stroke="none" stroke-width="1.0" />
<g clip-path="url(#cl01)">
<circle cx="265.6" cy="53.7" r="0.92" fill="#c09050" opacity="0.13"/>
<circle cx="240.8" cy="65.4" r="1.33" fill="#c09050" opacity="0.26"/>
<circle cx="343.2" cy="58.3" r="1.03" fill="#c09050" opacity="0.16"/>
<circle cx="256.3" cy="53.8" r="0.77" fill="#c09050" opacity="0.29"/>
<circle cx="352.5" cy="81.4" r="1.24" fill="#c09050" opacity="0.14"/>
<circle cx="276.4" cy="74.3" r="1.19" fill="#c09050" opacity="0.27"/>
<circle cx="360.0" cy="53.0" r="1.08" fill="#c09050" opacity="0.23"/>
<circle cx="305.2" cy="56.6" r="0.98" fill="#c09050" opacity="0.12"/>
<circle cx="368.0" cy="83.7" r="1.04" fill="#c09050" opacity="0.16"/>
<circle cx="364.2" cy="72.2" r="1.31" fill="#c09050" opacity="0.27"/>
<circle cx="305.5" cy="65.9" r="1.08" fill="#c09050" opacity="0.19"/>
<circle cx="254.6" cy="61.6" r="1.25" fill="#c09050" opacity="0.11"/>
<circle cx="237.8" cy="74.3" r="0.82" fill="#c09050" opacity="0.21"/>
<circle cx="300.1" cy="63.1" r="1.40" fill="#c09050" opacity="0.14"/>
<g filter="url(#bh)">
<path d="M228.0 67.5 L230.0 67.7 L232.0 68.1 L234.0 68.8 L236.0 69.4 L238.0 69.8 L240.0 70.0 L242.0 70.2 L244.0 70.6 L246.0 71.2 L248.0 71.7 L250.0 72.0 L252.0 72.0 L254.0 71.8 L256.0 71.5 L258.0 71.2 L260.0 70.9 L262.0 70.5 L264.0 70.3 L266.0 70.1 L268.0 70.0 L270.0 70.0 L272.0 69.8 L274.0 69.7 L276.0 69.4 L278.0 69.2 L280.0 69.0 L282.0 68.8 L284.0 68.7 L286.0 68.6 L288.0 68.7 L290.0 69.0 L292.0 69.5 L294.0 70.0 L296.0 70.5 L298.0 70.9 L300.0 71.0 L302.0 71.1 L304.0 71.3 L306.0 71.5 L308.0 71.8 L310.0 72.2 L312.0 72.5 L314.0 72.7 L316.0 72.9 L318.0 73.0 L320.0 73.1 L322.0 73.4 L324.0 73.7 L326.0 74.1 L328.0 74.5 L330.0 74.8 L332.0 75.0 L334.0 75.0 L336.0 75.3 L338.0 75.8 L340.0 76.3 L342.0 76.8 L344.0 77.3 L346.0 77.6 L348.0 77.6 L350.0 77.4 L352.0 77.2 L354.0 76.9 L356.0 76.6 L358.0 76.3 L360.0 76.1 L362.0 76.0 L364.0 75.9 L366.0 75.8 L368.0 75.5 L370.0 75.2 L372.0 75.0 L374.0 74.7 L376.0 74.4 L378.0 74.3 L380.0 74.2" stroke="#3a2812" stroke-width="9.6" fill="none" opacity="0.17"/>
</g>
<g filter="url(#bd)">
<path d="M228.0 67.5 L230.0 67.7 L232.0 68.1 L234.0 68.8 L236.0 69.4 L238.0 69.8 L240.0 70.0 L242.0 70.2 L244.0 70.6 L246.0 71.2 L248.0 71.7 L250.0 72.0 L252.0 72.0 L254.0 71.8 L256.0 71.5 L258.0 71.2 L260.0 70.9 L262.0 70.5 L264.0 70.3 L266.0 70.1 L268.0 70.0 L270.0 70.0 L272.0 69.8 L274.0 69.7 L276.0 69.4 L278.0 69.2 L280.0 69.0 L282.0 68.8 L284.0 68.7 L286.0 68.6 L288.0 68.7 L290.0 69.0 L292.0 69.5 L294.0 70.0 L296.0 70.5 L298.0 70.9 L300.0 71.0 L302.0 71.1 L304.0 71.3 L306.0 71.5 L308.0 71.8 L310.0 72.2 L312.0 72.5 L314.0 72.7 L316.0 72.9 L318.0 73.0 L320.0 73.1 L322.0 73.4 L324.0 73.7 L326.0 74.1 L328.0 74.5 L330.0 74.8 L332.0 75.0 L334.0 75.0 L336.0 75.3 L338.0 75.8 L340.0 76.3 L342.0 76.8 L344.0 77.3 L346.0 77.6 L348.0 77.6 L350.0 77.4 L352.0 77.2 L354.0 76.9 L356.0 76.6 L358.0 76.3 L360.0 76.1 L362.0 76.0 L364.0 75.9 L366.0 75.8 L368.0 75.5 L370.0 75.2 L372.0 75.0 L374.0 74.7 L376.0 74.4 L378.0 74.3 L380.0 74.2" stroke="#140a10" stroke-width="3.84" fill="none" stroke-linecap="round" stroke-linejoin="round"/>
<g fill="#140a10"><circle cx="229.0" cy="67.3" r="1.71"/><circle cx="231.1" cy="67.3" r="1.91"/><circle cx="233.3" cy="68.0" r="2.18"/><circle cx="235.8" cy="68.2" r="1.52"/><circle cx="237.3" cy="70.4" r="2.25"/><circle cx="238.9" cy="69.5" r="1.67"/><circle cx="240.7" cy="68.7" r="2.36"/><circle cx="243.1" cy="71.7" r="2.41"/><circle cx="245.7" cy="69.8" r="1.82"/><circle cx="248.2" cy="72.5" r="1.98"/><circle cx="250.8" cy="72.3" r="2.52"/><circle cx="252.4" cy="71.1" r="2.03"/><circle cx="253.8" cy="71.5" r="2.71"/><circle cx="255.4" cy="70.2" r="1.50"/><circle cx="256.9" cy="72.2" r="1.92"/><circle cx="258.5" cy="70.0" r="2.74"/><circle cx="260.3" cy="70.0" r="1.52"/><circle cx="261.5" cy="69.7" r="2.33"/><circle cx="263.0" cy="69.1" r="2.09"/><circle cx="264.5" cy="71.6" r="1.60"/><circle cx="266.4" cy="70.8" r="1.98"/><circle cx="269.0" cy="69.9" r="1.76"/><circle cx="270.8" cy="68.6" r="2.00"/><circle cx="272.3" cy="70.9" r="2.54"/><circle cx="274.2" cy="68.3" r="1.78"/><circle cx="275.8" cy="68.6" r="1.75"/><circle cx="278.2" cy="68.2" r="1.51"/><circle cx="280.7" cy="69.1" r="2.75"/><circle cx="282.5" cy="69.9" r="2.30"/><circle cx="284.8" cy="69.3" r="2.09"/><circle cx="286.1" cy="67.8" r="2.59"/><circle cx="288.6" cy="69.9" r="1.88"/><circle cx="290.7" cy="70.0" r="2.29"/><circle cx="293.0" cy="69.8" r="2.30"/><circle cx="295.2" cy="69.7" r="2.66"/><circle cx="297.7" cy="69.6" r="2.72"/><circle cx="300.3" cy="71.5" r="1.50"/><circle cx="302.7" cy="70.1" r="2.72"/><circle cx="304.9" cy="70.1" r="1.66"/><circle cx="307.0" cy="71.9" r="2.43"/><circle cx="309.5" cy="71.3" r="1.44"/><circle cx="311.9" cy="71.1" r="2.60"/><circle cx="313.3" cy="73.5" r="2.47"/><circle cx="315.7" cy="73.1" r="2.60"/><circle cx="317.2" cy="73.5" r="1.88"/><circle cx="319.7" cy="73.8" r="2.06"/><circle cx="321.6" cy="72.0" r="1.49"/><circle cx="323.6" cy="73.6" r="2.58"/><circle cx="325.7" cy="73.0" r="1.92"/><circle cx="328.0" cy="74.5" r="1.45"/><circle cx="330.3" cy="75.7" r="1.55"/><circle cx="332.3" cy="74.7" r="2.48"/><circle cx="333.9" cy="74.3" r="2.08"/><circle cx="336.5" cy="74.3" r="1.59"/><circle cx="338.6" cy="77.0" r="2.12"/><circle cx="340.4" cy="77.4" r="2.47"/><circle cx="341.7" cy="77.8" r="1.70"/><circle cx="343.3" cy="78.1" r="2.00"/><circle cx="345.6" cy="76.6" r="2.59"/><circle cx="347.0" cy="76.6" r="2.09"/><circle cx="348.7" cy="77.7" r="2.63"/><circle cx="350.9" cy="75.9" r="1.85"/><circle cx="352.9" cy="77.0" r="2.38"/><circle cx="354.7" cy="75.6" r="1.76"/><circle cx="357.1" cy="76.0" r="2.45"/><circle cx="359.7" cy="76.5" r="2.33"/><circle cx="361.8" cy="75.5" r="2.64"/><circle cx="363.6" cy="77.1" r="1.84"/><circle cx="366.0" cy="76.6" r="2.25"/><circle cx="367.9" cy="74.5" r="2.46"/><circle cx="369.6" cy="75.8" r="1.62"/><circle cx="370.9" cy="74.1" r="2.51"/><circle cx="372.3" cy="76.0" r="1.93"/><circle cx="374.3" cy="74.2" r="2.26"/><circle cx="375.7" cy="74.2" r="2.68"/><circle cx="377.1" cy="74.8" r="1.87"/><circle cx="378.7" cy="72.9" r="1.47"/></g>
<path d="M243.4 70.5 L246.2 74.6" stroke="#140a10" stroke-width="1.9" fill="none" stroke-linecap="round"/>
<circle cx="246.2" cy="74.6" r="1.34" fill="#20101a" />
<path d="M255.4 71.6 L256.9 67.3" stroke="#140a10" stroke-width="1.9" fill="none" stroke-linecap="round"/>
<circle cx="256.9" cy="67.3" r="2.07" fill="#20101a" />
<path d="M273.7 69.7 L274.4 73.6" stroke="#140a10" stroke-width="1.9" fill="none" stroke-linecap="round"/>
<circle cx="274.4" cy="73.6" r="1.95" fill="#20101a" />
<path d="M293.6 69.9 L296.0 66.3" stroke="#140a10" stroke-width="1.9" fill="none" stroke-linecap="round"/>
<circle cx="296.0" cy="66.3" r="1.83" fill="#20101a" />
<path d="M300.8 71.0 L303.8 74.7" stroke="#140a10" stroke-width="1.9" fill="none" stroke-linecap="round"/>
<circle cx="303.8" cy="74.7" r="2.01" fill="#20101a" />
<path d="M319.3 73.0 L318.8 70.0" stroke="#140a10" stroke-width="1.9" fill="none" stroke-linecap="round"/>
<circle cx="318.8" cy="70.0" r="1.21" fill="#20101a" />
<path d="M337.4 75.6 L336.6 79.3" stroke="#140a10" stroke-width="1.9" fill="none" stroke-linecap="round"/>
<circle cx="336.6" cy="79.3" r="2.06" fill="#20101a" />
<path d="M348.7 77.5 L351.6 81.9" stroke="#140a10" stroke-width="1.9" fill="none" stroke-linecap="round"/>
<circle cx="351.6" cy="81.9" r="2.03" fill="#20101a" />
<path d="M367.0 75.7 L365.3 72.7" stroke="#140a10" stroke-width="1.9" fill="none" stroke-linecap="round"/>
<circle cx="365.3" cy="72.7" r="2.04" fill="#6a3a18" />
</g>
</g>
<rect x="381.00" y="49.60" width="146.00" height="39.40" fill="url(#dg)" stroke="none" stroke-width="1.0" />
<g clip-path="url(#cl02)">
<circle cx="471.9" cy="78.8" r="1.24" fill="#c09050" opacity="0.29"/>
<circle cx="489.0" cy="85.9" r="0.62" fill="#c09050" opacity="0.19"/>
<circle cx="518.7" cy="75.2" r="1.32" fill="#c09050" opacity="0.12"/>
<circle cx="449.5" cy="59.3" r="1.04" fill="#c09050" opacity="0.21"/>
<circle cx="382.9" cy="58.1" r="0.82" fill="#c09050" opacity="0.28"/>
<circle cx="492.8" cy="55.9" r="1.24" fill="#c09050" opacity="0.13"/>
<circle cx="471.1" cy="54.6" r="0.60" fill="#c09050" opacity="0.27"/>
<circle cx="411.6" cy="58.1" r="1.39" fill="#c09050" opacity="0.27"/>
<circle cx="423.2" cy="87.5" r="1.03" fill="#c09050" opacity="0.24"/>
<circle cx="410.9" cy="86.7" r="1.15" fill="#c09050" opacity="0.29"/>
<circle cx="511.5" cy="61.4" r="0.89" fill="#c09050" opacity="0.13"/>
<circle cx="402.3" cy="52.2" r="0.84" fill="#c09050" opacity="0.22"/>
<circle cx="381.5" cy="76.3" r="0.87" fill="#c09050" opacity="0.16"/>
<circle cx="500.5" cy="68.5" r="0.85" fill="#c09050" opacity="0.20"/>
<g filter="url(#bb)"><ellipse cx="500" cy="51" rx="22" ry="6" fill="#9a5a14" opacity="0.85"/><ellipse cx="520" cy="60" rx="8" ry="9" fill="#a8701e" opacity="0.6"/><ellipse cx="486" cy="52" rx="8" ry="4" fill="#7a4010" opacity="0.6"/></g>
<g filter="url(#bh)">
<path d="M378.0 59.6 L380.0 59.7 L382.0 59.9 L384.0 60.2 L386.0 60.6 L388.0 61.1 L390.0 61.5 L392.0 62.0 L394.0 62.4 L396.0 62.7 L398.0 62.9 L400.0 63.0 L402.0 63.1 L404.0 63.3 L406.0 63.6 L408.0 63.9 L410.0 64.4 L412.0 64.8 L414.0 65.2 L416.0 65.6 L418.0 66.0 L420.0 66.2 L422.0 66.4 L424.0 66.4 L426.0 66.5 L428.0 66.6 L430.0 66.8 L432.0 67.0 L434.0 67.2 L436.0 67.4 L438.0 67.6 L440.0 67.8 L442.0 67.9 L444.0 68.0 L446.0 68.0 L448.0 68.1 L450.0 68.2 L452.0 68.4 L454.0 68.6 L456.0 68.8 L458.0 69.0 L460.0 69.2 L462.0 69.4 L464.0 69.6 L466.0 69.7 L468.0 69.7 L470.0 69.6 L472.0 69.5 L474.0 69.2 L476.0 68.9 L478.0 68.6 L480.0 68.4 L482.0 68.1 L484.0 68.0 L486.0 68.0 L488.0 67.9 L490.0 67.7 L492.0 67.4 L494.0 67.1 L496.0 66.8 L498.0 66.6 L500.0 66.4 L502.0 66.4 L504.0 66.5 L506.0 66.8 L508.0 67.1 L510.0 67.5 L512.0 67.8 L514.0 68.0 L516.0 68.0 L518.0 68.2 L520.0 68.4 L522.0 68.8 L524.0 69.1 L526.0 69.4 L528.0 69.6 L530.0 69.7" stroke="#a8722e" stroke-width="4.4" fill="none" opacity="0.14"/>
</g>
<g filter="url(#bd)">
<path d="M378.0 59.6 L380.0 59.7 L382.0 59.9 L384.0 60.2 L386.0 60.6 L388.0 61.1 L390.0 61.5 L392.0 62.0 L394.0 62.4 L396.0 62.7 L398.0 62.9 L400.0 63.0 L402.0 63.1 L404.0 63.3 L406.0 63.6 L408.0 63.9 L410.0 64.4 L412.0 64.8 L414.0 65.2 L416.0 65.6 L418.0 66.0 L420.0 66.2 L422.0 66.4 L424.0 66.4 L426.0 66.5 L428.0 66.6 L430.0 66.8 L432.0 67.0 L434.0 67.2 L436.0 67.4 L438.0 67.6 L440.0 67.8 L442.0 67.9 L444.0 68.0 L446.0 68.0 L448.0 68.1 L450.0 68.2 L452.0 68.4 L454.0 68.6 L456.0 68.8 L458.0 69.0 L460.0 69.2 L462.0 69.4 L464.0 69.6 L466.0 69.7 L468.0 69.7 L470.0 69.6 L472.0 69.5 L474.0 69.2 L476.0 68.9 L478.0 68.6 L480.0 68.4 L482.0 68.1 L484.0 68.0 L486.0 68.0 L488.0 67.9 L490.0 67.7 L492.0 67.4 L494.0 67.1 L496.0 66.8 L498.0 66.6 L500.0 66.4 L502.0 66.4 L504.0 66.5 L506.0 66.8 L508.0 67.1 L510.0 67.5 L512.0 67.8 L514.0 68.0 L516.0 68.0 L518.0 68.2 L520.0 68.4 L522.0 68.8 L524.0 69.1 L526.0 69.4 L528.0 69.6 L530.0 69.7" stroke="#5e3412" stroke-width="1.7600000000000002" fill="none" stroke-linecap="round" stroke-linejoin="round"/>
<g fill="#5e3412"><circle cx="379.0" cy="59.9" r="0.69"/><circle cx="381.6" cy="59.3" r="1.11"/><circle cx="383.9" cy="59.6" r="1.14"/><circle cx="385.7" cy="60.6" r="0.67"/><circle cx="386.9" cy="60.4" r="1.24"/><circle cx="388.4" cy="61.5" r="1.22"/><circle cx="390.9" cy="61.6" r="0.87"/><circle cx="392.9" cy="62.5" r="0.73"/><circle cx="395.1" cy="62.9" r="1.18"/><circle cx="396.4" cy="63.3" r="0.72"/><circle cx="398.0" cy="63.1" r="1.22"/><circle cx="399.7" cy="63.5" r="0.99"/><circle cx="401.3" cy="62.8" r="0.77"/><circle cx="402.7" cy="62.7" r="1.08"/><circle cx="405.2" cy="63.0" r="0.69"/><circle cx="407.8" cy="64.0" r="0.91"/><circle cx="409.4" cy="64.3" r="1.16"/><circle cx="411.2" cy="64.5" r="0.69"/><circle cx="413.7" cy="64.6" r="0.96"/><circle cx="416.1" cy="65.2" r="1.10"/><circle cx="418.6" cy="66.2" r="1.14"/><circle cx="419.9" cy="66.2" r="0.75"/><circle cx="422.3" cy="66.1" r="0.93"/><circle cx="424.9" cy="66.9" r="1.25"/><circle cx="426.8" cy="66.5" r="1.10"/><circle cx="428.6" cy="66.4" r="0.90"/><circle cx="430.0" cy="66.6" r="1.26"/><circle cx="432.6" cy="67.2" r="0.96"/><circle cx="434.2" cy="66.7" r="0.82"/><circle cx="436.5" cy="67.9" r="0.88"/><circle cx="438.8" cy="68.0" r="1.08"/><circle cx="441.0" cy="68.2" r="0.88"/><circle cx="443.2" cy="67.7" r="0.95"/><circle cx="445.4" cy="68.2" r="0.84"/><circle cx="448.0" cy="68.3" r="1.01"/><circle cx="449.2" cy="68.2" r="0.81"/><circle cx="451.3" cy="68.3" r="1.15"/><circle cx="453.4" cy="68.9" r="0.87"/><circle cx="455.5" cy="69.0" r="1.16"/><circle cx="457.2" cy="69.3" r="1.19"/><circle cx="459.4" cy="69.7" r="1.24"/><circle cx="461.3" cy="69.4" r="0.76"/><circle cx="463.7" cy="70.1" r="0.95"/><circle cx="465.8" cy="69.9" r="1.10"/><circle cx="467.3" cy="70.0" r="1.01"/><circle cx="469.4" cy="69.6" r="1.04"/><circle cx="471.7" cy="69.7" r="1.10"/><circle cx="472.9" cy="68.9" r="0.93"/><circle cx="475.0" cy="68.7" r="1.08"/><circle cx="477.1" cy="68.2" r="0.95"/><circle cx="478.6" cy="68.0" r="0.74"/><circle cx="480.3" cy="67.9" r="0.78"/><circle cx="481.5" cy="68.1" r="0.89"/><circle cx="483.6" cy="68.1" r="0.80"/><circle cx="486.1" cy="67.4" r="0.91"/><circle cx="487.7" cy="67.8" r="0.73"/><circle cx="490.0" cy="67.5" r="0.68"/><circle cx="492.1" cy="66.9" r="0.99"/><circle cx="493.8" cy="67.2" r="1.24"/><circle cx="496.1" cy="66.7" r="1.15"/><circle cx="498.2" cy="66.4" r="0.75"/><circle cx="500.2" cy="66.5" r="1.24"/><circle cx="502.8" cy="66.6" r="0.87"/><circle cx="505.2" cy="66.1" r="0.73"/><circle cx="507.2" cy="67.1" r="0.75"/><circle cx="509.3" cy="67.8" r="0.89"/><circle cx="511.1" cy="67.3" r="0.84"/><circle cx="513.7" cy="67.8" r="1.24"/><circle cx="516.2" cy="68.1" r="0.82"/><circle cx="518.7" cy="68.3" r="0.91"/><circle cx="520.4" cy="69.1" r="0.96"/><circle cx="522.0" cy="68.7" r="0.73"/><circle cx="524.0" cy="69.0" r="0.84"/><circle cx="526.3" cy="69.8" r="0.67"/><circle cx="528.3" cy="69.4" r="1.23"/></g>
<path d="M382.7 60.0 L385.7 64.8" stroke="#5e3412" stroke-width="1.9" fill="none" stroke-linecap="round"/>
<circle cx="385.7" cy="64.8" r="1.46" fill="#4a3028" />
<path d="M389.6 61.4 L391.1 54.9" stroke="#5e3412" stroke-width="1.9" fill="none" stroke-linecap="round"/>
<circle cx="391.1" cy="54.9" r="1.31" fill="#6a3a18" />
<path d="M394.7 62.5 L393.4 68.0" stroke="#5e3412" stroke-width="1.9" fill="none" stroke-linecap="round"/>
<circle cx="393.4" cy="68.0" r="1.68" fill="#4a3028" />
<path d="M400.8 63.0 L398.0 56.5" stroke="#5e3412" stroke-width="1.9" fill="none" stroke-linecap="round"/>
<circle cx="398.0" cy="56.5" r="1.43" fill="#4a3028" />
<path d="M409.2 64.2 L406.3 70.5" stroke="#5e3412" stroke-width="1.9" fill="none" stroke-linecap="round"/>
<circle cx="406.3" cy="70.5" r="1.90" fill="#4a3028" />
<path d="M413.5 65.1 L413.4 58.4" stroke="#5e3412" stroke-width="1.9" fill="none" stroke-linecap="round"/>
<circle cx="413.4" cy="58.4" r="2.02" fill="#4a3028" />
<path d="M418.5 66.1 L417.2 71.0" stroke="#5e3412" stroke-width="1.9" fill="none" stroke-linecap="round"/>
<circle cx="417.2" cy="71.0" r="1.95" fill="#4a3028" />
<path d="M426.4 66.5 L425.1 60.6" stroke="#5e3412" stroke-width="1.9" fill="none" stroke-linecap="round"/>
<circle cx="425.1" cy="60.6" r="1.90" fill="#6a3a18" />
<path d="M429.0 66.7 L429.0 73.0" stroke="#5e3412" stroke-width="1.9" fill="none" stroke-linecap="round"/>
<circle cx="429.0" cy="73.0" r="1.50" fill="#4a3028" />
<path d="M436.9 67.5 L435.3 63.1" stroke="#5e3412" stroke-width="1.9" fill="none" stroke-linecap="round"/>
<circle cx="435.3" cy="63.1" r="1.94" fill="#6a3a18" />
<path d="M443.1 68.0 L446.0 60.9" stroke="#5e3412" stroke-width="1.9" fill="none" stroke-linecap="round"/>
<circle cx="446.0" cy="60.9" r="2.10" fill="#4a3028" />
<path d="M446.1 68.0 L446.9 63.0" stroke="#5e3412" stroke-width="1.9" fill="none" stroke-linecap="round"/>
<circle cx="446.9" cy="63.0" r="2.06" fill="#4a3028" />
<path d="M452.3 68.4 L450.2 76.2" stroke="#5e3412" stroke-width="1.9" fill="none" stroke-linecap="round"/>
<circle cx="450.2" cy="76.2" r="1.75" fill="#4a3028" />
<path d="M458.3 69.0 L455.9 64.7" stroke="#5e3412" stroke-width="1.9" fill="none" stroke-linecap="round"/>
<circle cx="455.9" cy="64.7" r="1.54" fill="#4a3028" />
<path d="M463.6 69.5 L465.9 76.7" stroke="#5e3412" stroke-width="1.9" fill="none" stroke-linecap="round"/>
<circle cx="465.9" cy="76.7" r="1.32" fill="#4a3028" />
<path d="M470.7 69.6 L473.3 63.5" stroke="#5e3412" stroke-width="1.9" fill="none" stroke-linecap="round"/>
<circle cx="473.3" cy="63.5" r="1.54" fill="#4a3028" />
<path d="M478.3 68.6 L478.3 61.9" stroke="#5e3412" stroke-width="1.9" fill="none" stroke-linecap="round"/>
<circle cx="478.3" cy="61.9" r="2.02" fill="#4a3028" />
<path d="M483.8 68.0 L482.3 61.7" stroke="#5e3412" stroke-width="1.9" fill="none" stroke-linecap="round"/>
<circle cx="482.3" cy="61.7" r="1.88" fill="#4a3028" />
<path d="M487.3 67.9 L488.7 62.3" stroke="#5e3412" stroke-width="1.9" fill="none" stroke-linecap="round"/>
<circle cx="488.7" cy="62.3" r="1.36" fill="#4a3028" />
<path d="M495.6 66.9 L493.2 73.7" stroke="#5e3412" stroke-width="1.9" fill="none" stroke-linecap="round"/>
<circle cx="493.2" cy="73.7" r="1.31" fill="#4a3028" />
<path d="M499.5 66.5 L498.4 72.6" stroke="#5e3412" stroke-width="1.9" fill="none" stroke-linecap="round"/>
<circle cx="498.4" cy="72.6" r="1.92" fill="#4a3028" />
<path d="M507.6 67.1 L510.3 71.8" stroke="#5e3412" stroke-width="1.9" fill="none" stroke-linecap="round"/>
<circle cx="510.3" cy="71.8" r="1.81" fill="#4a3028" />
<path d="M510.6 67.6 L512.5 74.4" stroke="#5e3412" stroke-width="1.9" fill="none" stroke-linecap="round"/>
<circle cx="512.5" cy="74.4" r="1.33" fill="#4a3028" />
<path d="M517.6 68.1 L518.2 73.6" stroke="#5e3412" stroke-width="1.9" fill="none" stroke-linecap="round"/>
<circle cx="518.2" cy="73.6" r="1.51" fill="#4a3028" />
<path d="M522.4 68.8 L524.2 75.6" stroke="#5e3412" stroke-width="1.9" fill="none" stroke-linecap="round"/>
<circle cx="524.2" cy="75.6" r="1.59" fill="#6a3a18" />
</g>
</g>
<rect x="532.00" y="49.60" width="147.00" height="39.40" fill="url(#dg)" stroke="none" stroke-width="1.0" />
<g clip-path="url(#cl03)">
<circle cx="648.6" cy="82.0" r="0.99" fill="#c09050" opacity="0.15"/>
<circle cx="532.1" cy="75.7" r="0.98" fill="#c09050" opacity="0.25"/>
<circle cx="586.9" cy="79.9" r="0.82" fill="#c09050" opacity="0.26"/>
<circle cx="639.3" cy="65.9" r="1.03" fill="#c09050" opacity="0.24"/>
<circle cx="560.4" cy="71.4" r="1.24" fill="#c09050" opacity="0.15"/>
<circle cx="650.1" cy="76.6" r="1.28" fill="#c09050" opacity="0.17"/>
<circle cx="545.7" cy="81.1" r="1.24" fill="#c09050" opacity="0.19"/>
<circle cx="545.8" cy="57.4" r="1.11" fill="#c09050" opacity="0.16"/>
<circle cx="671.9" cy="72.8" r="0.76" fill="#c09050" opacity="0.23"/>
<circle cx="585.0" cy="86.3" r="1.33" fill="#c09050" opacity="0.20"/>
<circle cx="626.8" cy="77.1" r="1.24" fill="#c09050" opacity="0.30"/>
<circle cx="536.2" cy="63.8" r="1.08" fill="#c09050" opacity="0.16"/>
<circle cx="618.6" cy="53.1" r="1.30" fill="#c09050" opacity="0.21"/>
<circle cx="549.2" cy="75.7" r="0.85" fill="#c09050" opacity="0.14"/>
<g filter="url(#bh)">
<path d="M529.0 79.5 L531.0 79.4 L533.0 79.1 L535.0 78.7 L537.0 78.2 L539.0 77.8 L541.0 77.4 L543.0 77.1 L545.0 77.0 L547.0 76.9 L549.0 76.8 L551.0 76.5 L553.0 76.2 L555.0 75.9 L557.0 75.5 L559.0 75.0 L561.0 74.6 L563.0 74.2 L565.0 73.9 L567.0 73.6 L569.0 73.3 L571.0 73.2 L573.0 73.1 L575.0 73.0 L577.0 72.9 L579.0 72.6 L581.0 72.3 L583.0 72.0 L585.0 71.6 L587.0 71.3 L589.0 71.0 L591.0 70.7 L593.0 70.6 L595.0 70.5 L597.0 70.5 L599.0 70.3 L601.0 70.2 L603.0 70.0 L605.0 69.7 L607.0 69.5 L609.0 69.2 L611.0 69.0 L613.0 68.8 L615.0 68.7 L617.0 68.6 L619.0 68.6 L621.0 68.4 L623.0 68.2 L625.0 67.8 L627.0 67.5 L629.0 67.1 L631.0 66.8 L633.0 66.6 L635.0 66.5 L637.0 66.4 L639.0 66.1 L641.0 65.8 L643.0 65.4 L645.0 64.9 L647.0 64.6 L649.0 64.3 L651.0 64.1 L653.0 64.0 L655.0 63.8 L657.0 63.4 L659.0 62.9 L661.0 62.4 L663.0 62.1 L665.0 62.0 L667.0 62.0 L669.0 61.8 L671.0 61.6 L673.0 61.4 L675.0 61.2 L677.0 61.0 L679.0 60.8 L681.0 60.7" stroke="#6a4a1a" stroke-width="8.8" fill="none" opacity="0.24"/>
</g>
<g filter="url(#bd)">
<path d="M529.0 79.5 L531.0 79.4 L533.0 79.1 L535.0 78.7 L537.0 78.2 L539.0 77.8 L541.0 77.4 L543.0 77.1 L545.0 77.0 L547.0 76.9 L549.0 76.8 L551.0 76.5 L553.0 76.2 L555.0 75.9 L557.0 75.5 L559.0 75.0 L561.0 74.6 L563.0 74.2 L565.0 73.9 L567.0 73.6 L569.0 73.3 L571.0 73.2 L573.0 73.1 L575.0 73.0 L577.0 72.9 L579.0 72.6 L581.0 72.3 L583.0 72.0 L585.0 71.6 L587.0 71.3 L589.0 71.0 L591.0 70.7 L593.0 70.6 L595.0 70.5 L597.0 70.5 L599.0 70.3 L601.0 70.2 L603.0 70.0 L605.0 69.7 L607.0 69.5 L609.0 69.2 L611.0 69.0 L613.0 68.8 L615.0 68.7 L617.0 68.6 L619.0 68.6 L621.0 68.4 L623.0 68.2 L625.0 67.8 L627.0 67.5 L629.0 67.1 L631.0 66.8 L633.0 66.6 L635.0 66.5 L637.0 66.4 L639.0 66.1 L641.0 65.8 L643.0 65.4 L645.0 64.9 L647.0 64.6 L649.0 64.3 L651.0 64.1 L653.0 64.0 L655.0 63.8 L657.0 63.4 L659.0 62.9 L661.0 62.4 L663.0 62.1 L665.0 62.0 L667.0 62.0 L669.0 61.8 L671.0 61.6 L673.0 61.4 L675.0 61.2 L677.0 61.0 L679.0 60.8 L681.0 60.7" stroke="#221206" stroke-width="3.5200000000000005" fill="none" stroke-linecap="round" stroke-linejoin="round"/>
<g fill="#221206"><circle cx="530.0" cy="79.5" r="1.49"/><circle cx="531.5" cy="79.8" r="2.16"/><circle cx="532.7" cy="79.5" r="1.34"/><circle cx="534.4" cy="79.3" r="2.07"/><circle cx="536.0" cy="78.3" r="1.79"/><circle cx="537.4" cy="78.8" r="1.39"/><circle cx="539.2" cy="78.0" r="1.80"/><circle cx="541.7" cy="77.0" r="2.50"/><circle cx="544.2" cy="77.2" r="2.40"/><circle cx="546.0" cy="77.4" r="2.28"/><circle cx="547.9" cy="76.8" r="2.17"/><circle cx="549.7" cy="76.2" r="2.22"/><circle cx="551.3" cy="76.5" r="2.27"/><circle cx="552.7" cy="75.7" r="1.47"/><circle cx="554.8" cy="75.7" r="1.63"/><circle cx="556.6" cy="76.1" r="1.63"/><circle cx="558.4" cy="75.6" r="2.06"/><circle cx="559.9" cy="74.8" r="1.90"/><circle cx="561.3" cy="74.4" r="1.69"/><circle cx="563.7" cy="73.9" r="2.12"/><circle cx="566.2" cy="74.2" r="1.78"/><circle cx="568.3" cy="73.2" r="1.80"/><circle cx="570.2" cy="73.6" r="2.45"/><circle cx="571.8" cy="72.5" r="1.86"/><circle cx="573.0" cy="72.5" r="2.26"/><circle cx="574.4" cy="73.3" r="1.76"/><circle cx="576.9" cy="73.3" r="1.40"/><circle cx="578.4" cy="73.2" r="2.06"/><circle cx="580.2" cy="72.8" r="2.30"/><circle cx="582.1" cy="72.1" r="1.44"/><circle cx="583.8" cy="71.4" r="2.08"/><circle cx="585.8" cy="71.1" r="2.08"/><circle cx="587.2" cy="70.8" r="2.10"/><circle cx="589.0" cy="71.5" r="2.08"/><circle cx="591.2" cy="70.3" r="2.33"/><circle cx="592.5" cy="70.7" r="2.42"/><circle cx="595.0" cy="71.0" r="1.87"/><circle cx="597.1" cy="70.8" r="1.49"/><circle cx="599.7" cy="70.8" r="1.85"/><circle cx="602.0" cy="70.0" r="1.65"/><circle cx="604.1" cy="69.3" r="2.29"/><circle cx="606.7" cy="69.3" r="2.46"/><circle cx="608.0" cy="69.8" r="1.66"/><circle cx="610.6" cy="69.0" r="2.44"/><circle cx="611.8" cy="68.4" r="2.31"/><circle cx="613.9" cy="68.8" r="1.36"/><circle cx="615.4" cy="68.5" r="1.38"/><circle cx="618.0" cy="68.9" r="2.47"/><circle cx="620.1" cy="68.3" r="1.41"/><circle cx="622.4" cy="67.8" r="1.98"/><circle cx="624.2" cy="68.0" r="1.41"/><circle cx="625.5" cy="67.8" r="1.36"/><circle cx="627.5" cy="67.0" r="1.66"/><circle cx="628.9" cy="67.2" r="1.79"/><circle cx="630.4" cy="66.5" r="2.00"/><circle cx="632.9" cy="66.5" r="1.52"/><circle cx="634.5" cy="66.2" r="2.01"/><circle cx="636.8" cy="66.5" r="1.55"/><circle cx="638.5" cy="66.1" r="1.85"/><circle cx="640.2" cy="66.5" r="1.99"/><circle cx="642.3" cy="65.8" r="2.10"/><circle cx="644.7" cy="64.9" r="2.13"/><circle cx="647.2" cy="64.1" r="2.08"/><circle cx="649.0" cy="63.7" r="1.37"/><circle cx="651.2" cy="63.6" r="2.18"/><circle cx="652.6" cy="63.9" r="1.36"/><circle cx="654.5" cy="64.2" r="1.59"/><circle cx="656.5" cy="64.0" r="1.68"/><circle cx="658.4" cy="63.3" r="2.37"/><circle cx="659.8" cy="62.9" r="1.47"/><circle cx="661.2" cy="63.0" r="1.38"/><circle cx="663.7" cy="62.4" r="2.14"/><circle cx="665.9" cy="62.2" r="1.67"/><circle cx="667.7" cy="61.6" r="2.36"/><circle cx="670.0" cy="62.1" r="1.58"/><circle cx="672.0" cy="61.2" r="2.28"/><circle cx="674.3" cy="61.9" r="2.18"/><circle cx="676.4" cy="61.4" r="1.43"/><circle cx="678.5" cy="60.3" r="1.76"/><circle cx="679.8" cy="61.3" r="1.35"/></g>
<path d="M537.0 78.2 L534.4 83.8" stroke="#221206" stroke-width="1.9" fill="none" stroke-linecap="round"/>
<circle cx="534.4" cy="83.8" r="1.33" fill="#2a2010" />
<path d="M538.8 77.8 L536.3 83.4" stroke="#221206" stroke-width="1.9" fill="none" stroke-linecap="round"/>
<circle cx="536.3" cy="83.4" r="1.73" fill="#2a2010" />
<path d="M545.0 77.0 L547.8 80.4" stroke="#221206" stroke-width="1.9" fill="none" stroke-linecap="round"/>
<circle cx="547.8" cy="80.4" r="1.55" fill="#2a2010" />
<path d="M552.9 76.2 L551.5 71.8" stroke="#221206" stroke-width="1.9" fill="none" stroke-linecap="round"/>
<circle cx="551.5" cy="71.8" r="1.32" fill="#6a3a18" />
<path d="M557.0 75.5 L557.5 80.9" stroke="#221206" stroke-width="1.9" fill="none" stroke-linecap="round"/>
<circle cx="557.5" cy="80.9" r="2.05" fill="#6a3a18" />
<path d="M564.4 74.0 L564.2 78.8" stroke="#221206" stroke-width="1.9" fill="none" stroke-linecap="round"/>
<circle cx="564.2" cy="78.8" r="1.98" fill="#2a2010" />
<path d="M571.1 73.1 L573.2 77.5" stroke="#221206" stroke-width="1.9" fill="none" stroke-linecap="round"/>
<circle cx="573.2" cy="77.5" r="2.01" fill="#2a2010" />
<path d="M578.1 72.7 L577.1 67.1" stroke="#221206" stroke-width="1.9" fill="none" stroke-linecap="round"/>
<circle cx="577.1" cy="67.1" r="1.43" fill="#2a2010" />
<path d="M581.4 72.3 L578.4 76.3" stroke="#221206" stroke-width="1.9" fill="none" stroke-linecap="round"/>
<circle cx="578.4" cy="76.3" r="1.47" fill="#2a2010" />
<path d="M588.4 71.1 L586.0 65.2" stroke="#221206" stroke-width="1.9" fill="none" stroke-linecap="round"/>
<circle cx="586.0" cy="65.2" r="1.54" fill="#2a2010" />
<path d="M595.7 70.5 L598.4 75.0" stroke="#221206" stroke-width="1.9" fill="none" stroke-linecap="round"/>
<circle cx="598.4" cy="75.0" r="1.67" fill="#6a3a18" />
<path d="M599.6 70.3 L601.6 64.2" stroke="#221206" stroke-width="1.9" fill="none" stroke-linecap="round"/>
<circle cx="601.6" cy="64.2" r="1.73" fill="#6a3a18" />
<path d="M606.2 69.6 L604.0 72.6" stroke="#221206" stroke-width="1.9" fill="none" stroke-linecap="round"/>
<circle cx="604.0" cy="72.6" r="1.30" fill="#2a2010" />
<path d="M612.4 68.9 L610.1 73.4" stroke="#221206" stroke-width="1.9" fill="none" stroke-linecap="round"/>
<circle cx="610.1" cy="73.4" r="1.82" fill="#6a3a18" />
<path d="M615.3 68.7 L613.1 73.7" stroke="#221206" stroke-width="1.9" fill="none" stroke-linecap="round"/>
<circle cx="613.1" cy="73.7" r="1.52" fill="#2a2010" />
<path d="M624.2 68.0 L622.3 64.6" stroke="#221206" stroke-width="1.9" fill="none" stroke-linecap="round"/>
<circle cx="622.3" cy="64.6" r="1.77" fill="#6a3a18" />
<path d="M630.1 66.9 L630.8 70.1" stroke="#221206" stroke-width="1.9" fill="none" stroke-linecap="round"/>
<circle cx="630.8" cy="70.1" r="1.61" fill="#6a3a18" />
<path d="M635.2 66.5 L636.0 60.5" stroke="#221206" stroke-width="1.9" fill="none" stroke-linecap="round"/>
<circle cx="636.0" cy="60.5" r="2.02" fill="#2a2010" />
<path d="M638.4 66.2 L641.4 69.2" stroke="#221206" stroke-width="1.9" fill="none" stroke-linecap="round"/>
<circle cx="641.4" cy="69.2" r="1.61" fill="#2a2010" />
<path d="M645.6 64.8 L646.3 60.7" stroke="#221206" stroke-width="1.9" fill="none" stroke-linecap="round"/>
<circle cx="646.3" cy="60.7" r="1.29" fill="#6a3a18" />
<path d="M651.9 64.1 L652.9 67.4" stroke="#221206" stroke-width="1.9" fill="none" stroke-linecap="round"/>
<circle cx="652.9" cy="67.4" r="1.62" fill="#2a2010" />
<path d="M656.2 63.5 L653.8 58.0" stroke="#221206" stroke-width="1.9" fill="none" stroke-linecap="round"/>
<circle cx="653.8" cy="58.0" r="1.60" fill="#2a2010" />
<path d="M666.6 62.0 L666.5 67.0" stroke="#221206" stroke-width="1.9" fill="none" stroke-linecap="round"/>
<circle cx="666.5" cy="67.0" r="1.26" fill="#2a2010" />
<path d="M671.1 61.6 L673.3 55.5" stroke="#221206" stroke-width="1.9" fill="none" stroke-linecap="round"/>
<circle cx="673.3" cy="55.5" r="1.59" fill="#2a2010" />
<path d="M676.3 61.0 L678.6 65.7" stroke="#221206" stroke-width="1.9" fill="none" stroke-linecap="round"/>
<circle cx="678.6" cy="65.7" r="1.61" fill="#6a3a18" />
</g>
</g>
<rect x="82.00" y="113.00" width="145.00" height="35.80" fill="url(#dg2)" stroke="none" stroke-width="1.0" />
<g clip-path="url(#cl10)">
<circle cx="119.6" cy="137.5" r="1.15" fill="#c09050" opacity="0.27"/>
<circle cx="108.9" cy="121.3" r="0.72" fill="#c09050" opacity="0.15"/>
<circle cx="188.4" cy="117.7" r="1.03" fill="#c09050" opacity="0.14"/>
<circle cx="124.7" cy="128.5" r="1.27" fill="#c09050" opacity="0.22"/>
<circle cx="84.1" cy="122.9" r="0.72" fill="#c09050" opacity="0.27"/>
<circle cx="199.4" cy="141.9" r="1.26" fill="#c09050" opacity="0.25"/>
<circle cx="219.7" cy="141.4" r="0.81" fill="#c09050" opacity="0.27"/>
<circle cx="152.6" cy="140.0" r="1.05" fill="#c09050" opacity="0.19"/>
<circle cx="134.8" cy="128.4" r="0.85" fill="#c09050" opacity="0.12"/>
<circle cx="200.8" cy="141.6" r="1.39" fill="#c09050" opacity="0.24"/>
<circle cx="162.4" cy="139.8" r="0.71" fill="#c09050" opacity="0.24"/>
<circle cx="146.3" cy="119.3" r="0.76" fill="#c09050" opacity="0.20"/>
<circle cx="118.7" cy="129.4" r="1.08" fill="#c09050" opacity="0.18"/>
<circle cx="101.0" cy="130.6" r="0.79" fill="#c09050" opacity="0.15"/>
<g filter="url(#bh)">
<path d="M79.0 135.0 L81.0 135.0 L83.0 134.9 L85.0 134.8 L87.0 134.7 L89.0 134.5 L91.0 134.4 L93.0 134.3 L95.0 134.1 L97.0 134.1 L99.0 134.0 L101.0 134.0 L103.0 133.9 L105.0 133.8 L107.0 133.7 L109.0 133.6 L111.0 133.4 L113.0 133.2 L115.0 133.1 L117.0 132.9 L119.0 132.8 L121.0 132.7 L123.0 132.7 L125.0 132.7 L127.0 132.6 L129.0 132.4 L131.0 132.2 L133.0 132.0 L135.0 131.7 L137.0 131.5 L139.0 131.3 L141.0 131.1 L143.0 131.0 L145.0 131.0 L147.0 131.0 L149.0 130.9 L151.0 130.7 L153.0 130.6 L155.0 130.4 L157.0 130.1 L159.0 129.9 L161.0 129.8 L163.0 129.6 L165.0 129.5 L167.0 129.4 L169.0 129.4 L171.0 129.6 L173.0 129.8 L175.0 130.1 L177.0 130.3 L179.0 130.5 L181.0 130.5 L183.0 130.7 L185.0 131.0 L187.0 131.3 L189.0 131.5 L191.0 131.6 L193.0 131.7 L195.0 131.9 L197.0 132.1 L199.0 132.4 L201.0 132.7 L203.0 132.9 L205.0 133.2 L207.0 133.4 L209.0 133.5 L211.0 133.5 L213.0 133.6 L215.0 133.7 L217.0 133.9 L219.0 134.1 L221.0 134.4 L223.0 134.6 L225.0 134.8 L227.0 134.9 L229.0 135.0" stroke="#8a5a20" stroke-width="8.6" fill="none" opacity="0.28"/>
</g>
<g filter="url(#bd)">
<path d="M79.0 135.0 L81.0 135.0 L83.0 134.9 L85.0 134.8 L87.0 134.7 L89.0 134.5 L91.0 134.4 L93.0 134.3 L95.0 134.1 L97.0 134.1 L99.0 134.0 L101.0 134.0 L103.0 133.9 L105.0 133.8 L107.0 133.7 L109.0 133.6 L111.0 133.4 L113.0 133.2 L115.0 133.1 L117.0 132.9 L119.0 132.8 L121.0 132.7 L123.0 132.7 L125.0 132.7 L127.0 132.6 L129.0 132.4 L131.0 132.2 L133.0 132.0 L135.0 131.7 L137.0 131.5 L139.0 131.3 L141.0 131.1 L143.0 131.0 L145.0 131.0 L147.0 131.0 L149.0 130.9 L151.0 130.7 L153.0 130.6 L155.0 130.4 L157.0 130.1 L159.0 129.9 L161.0 129.8 L163.0 129.6 L165.0 129.5 L167.0 129.4 L169.0 129.4 L171.0 129.6 L173.0 129.8 L175.0 130.1 L177.0 130.3 L179.0 130.5 L181.0 130.5 L183.0 130.7 L185.0 131.0 L187.0 131.3 L189.0 131.5 L191.0 131.6 L193.0 131.7 L195.0 131.9 L197.0 132.1 L199.0 132.4 L201.0 132.7 L203.0 132.9 L205.0 133.2 L207.0 133.4 L209.0 133.5 L211.0 133.5 L213.0 133.6 L215.0 133.7 L217.0 133.9 L219.0 134.1 L221.0 134.4 L223.0 134.6 L225.0 134.8 L227.0 134.9 L229.0 135.0" stroke="#2a1606" stroke-width="3.44" fill="none" stroke-linecap="round" stroke-linejoin="round"/>
<g fill="#2a1606"><circle cx="80.0" cy="134.6" r="1.72"/><circle cx="81.3" cy="135.1" r="2.42"/><circle cx="83.0" cy="135.2" r="2.39"/><circle cx="84.3" cy="134.4" r="2.24"/><circle cx="86.7" cy="134.9" r="1.48"/><circle cx="88.5" cy="135.0" r="2.34"/><circle cx="90.8" cy="134.1" r="2.30"/><circle cx="92.5" cy="134.6" r="1.45"/><circle cx="95.1" cy="134.3" r="2.14"/><circle cx="96.6" cy="134.2" r="1.98"/><circle cx="98.6" cy="133.8" r="2.15"/><circle cx="100.3" cy="133.8" r="1.48"/><circle cx="102.4" cy="133.5" r="1.56"/><circle cx="103.7" cy="134.1" r="1.95"/><circle cx="105.7" cy="133.2" r="1.81"/><circle cx="107.4" cy="133.2" r="1.29"/><circle cx="110.0" cy="133.0" r="1.65"/><circle cx="111.5" cy="133.5" r="1.38"/><circle cx="113.4" cy="133.0" r="2.28"/><circle cx="114.6" cy="132.9" r="1.88"/><circle cx="117.2" cy="132.9" r="1.85"/><circle cx="119.3" cy="132.5" r="1.33"/><circle cx="121.2" cy="133.2" r="2.16"/><circle cx="122.8" cy="132.9" r="2.29"/><circle cx="124.3" cy="132.8" r="1.71"/><circle cx="125.9" cy="132.4" r="1.53"/><circle cx="127.6" cy="132.0" r="1.76"/><circle cx="128.9" cy="132.7" r="2.00"/><circle cx="130.1" cy="132.6" r="1.52"/><circle cx="132.0" cy="132.1" r="1.68"/><circle cx="133.6" cy="131.8" r="1.45"/><circle cx="136.0" cy="131.2" r="2.26"/><circle cx="137.5" cy="131.2" r="1.75"/><circle cx="138.7" cy="130.9" r="1.72"/><circle cx="140.5" cy="131.6" r="2.46"/><circle cx="141.8" cy="131.1" r="1.44"/><circle cx="144.1" cy="130.8" r="2.35"/><circle cx="146.1" cy="130.5" r="1.30"/><circle cx="147.6" cy="131.4" r="1.47"/><circle cx="149.5" cy="130.7" r="1.70"/><circle cx="151.8" cy="130.3" r="2.14"/><circle cx="154.0" cy="131.0" r="1.90"/><circle cx="156.5" cy="130.1" r="1.97"/><circle cx="158.5" cy="130.4" r="2.35"/><circle cx="159.9" cy="129.4" r="1.92"/><circle cx="162.2" cy="129.7" r="1.64"/><circle cx="164.8" cy="129.2" r="1.39"/><circle cx="166.0" cy="128.9" r="2.15"/><circle cx="167.4" cy="129.7" r="2.31"/><circle cx="170.0" cy="129.9" r="1.79"/><circle cx="172.1" cy="130.1" r="2.14"/><circle cx="173.7" cy="130.2" r="1.42"/><circle cx="175.3" cy="130.7" r="1.85"/><circle cx="176.9" cy="130.7" r="1.82"/><circle cx="178.1" cy="129.9" r="1.60"/><circle cx="179.7" cy="131.0" r="1.58"/><circle cx="182.1" cy="131.0" r="1.78"/><circle cx="184.7" cy="131.3" r="1.86"/><circle cx="186.3" cy="131.2" r="2.36"/><circle cx="188.2" cy="131.1" r="1.73"/><circle cx="190.1" cy="131.2" r="1.97"/><circle cx="191.4" cy="132.0" r="1.50"/><circle cx="192.7" cy="131.8" r="1.65"/><circle cx="195.1" cy="131.9" r="1.91"/><circle cx="197.5" cy="131.8" r="2.17"/><circle cx="199.6" cy="132.4" r="2.42"/><circle cx="200.9" cy="133.1" r="1.46"/><circle cx="203.2" cy="132.6" r="1.35"/><circle cx="205.1" cy="133.7" r="1.59"/><circle cx="207.0" cy="133.5" r="1.58"/><circle cx="209.0" cy="132.9" r="1.82"/><circle cx="211.2" cy="133.3" r="1.55"/><circle cx="212.5" cy="133.8" r="1.80"/><circle cx="215.0" cy="134.0" r="1.41"/><circle cx="217.4" cy="134.5" r="2.26"/><circle cx="219.8" cy="134.4" r="2.14"/><circle cx="221.9" cy="134.6" r="1.59"/><circle cx="223.3" cy="134.9" r="2.00"/><circle cx="224.6" cy="134.9" r="2.01"/><circle cx="226.5" cy="135.2" r="2.33"/><circle cx="228.3" cy="135.3" r="1.88"/></g>
<path d="M84.0 134.9 L86.7 139.1" stroke="#2a1606" stroke-width="1.9" fill="none" stroke-linecap="round"/>
<circle cx="86.7" cy="139.1" r="1.50" fill="#3a2410" />
<path d="M90.3 134.4 L87.8 130.4" stroke="#2a1606" stroke-width="1.9" fill="none" stroke-linecap="round"/>
<circle cx="87.8" cy="130.4" r="1.63" fill="#3a2410" />
<path d="M94.5 134.2 L94.2 140.2" stroke="#2a1606" stroke-width="1.9" fill="none" stroke-linecap="round"/>
<circle cx="94.2" cy="140.2" r="1.57" fill="#3a2410" />
<path d="M98.8 134.0 L96.6 137.5" stroke="#2a1606" stroke-width="1.9" fill="none" stroke-linecap="round"/>
<circle cx="96.6" cy="137.5" r="1.49" fill="#3a2410" />
<path d="M104.1 133.9 L102.9 128.0" stroke="#2a1606" stroke-width="1.9" fill="none" stroke-linecap="round"/>
<circle cx="102.9" cy="128.0" r="1.38" fill="#6a3a18" />
<path d="M105.4 133.8 L102.8 137.0" stroke="#2a1606" stroke-width="1.9" fill="none" stroke-linecap="round"/>
<circle cx="102.8" cy="137.0" r="1.55" fill="#3a2410" />
<path d="M110.2 133.5 L107.5 128.4" stroke="#2a1606" stroke-width="1.9" fill="none" stroke-linecap="round"/>
<circle cx="107.5" cy="128.4" r="1.41" fill="#3a2410" />
<path d="M117.4 132.9 L118.6 127.8" stroke="#2a1606" stroke-width="1.9" fill="none" stroke-linecap="round"/>
<circle cx="118.6" cy="127.8" r="1.92" fill="#6a3a18" />
<path d="M119.3 132.8 L119.4 128.0" stroke="#2a1606" stroke-width="1.9" fill="none" stroke-linecap="round"/>
<circle cx="119.4" cy="128.0" r="1.67" fill="#6a3a18" />
<path d="M123.9 132.7 L123.4 128.5" stroke="#2a1606" stroke-width="1.9" fill="none" stroke-linecap="round"/>
<circle cx="123.4" cy="128.5" r="1.42" fill="#3a2410" />
<path d="M129.9 132.3 L128.5 138.1" stroke="#2a1606" stroke-width="1.9" fill="none" stroke-linecap="round"/>
<circle cx="128.5" cy="138.1" r="1.84" fill="#3a2410" />
<path d="M134.7 131.8 L137.5 137.4" stroke="#2a1606" stroke-width="1.9" fill="none" stroke-linecap="round"/>
<circle cx="137.5" cy="137.4" r="1.43" fill="#6a3a18" />
<path d="M137.6 131.4 L137.3 134.6" stroke="#2a1606" stroke-width="1.9" fill="none" stroke-linecap="round"/>
<circle cx="137.3" cy="134.6" r="1.29" fill="#3a2410" />
<path d="M143.4 131.0 L141.8 125.9" stroke="#2a1606" stroke-width="1.9" fill="none" stroke-linecap="round"/>
<circle cx="141.8" cy="125.9" r="1.50" fill="#3a2410" />
<path d="M145.9 131.0 L143.5 134.1" stroke="#2a1606" stroke-width="1.9" fill="none" stroke-linecap="round"/>
<circle cx="143.5" cy="134.1" r="1.92" fill="#6a3a18" />
<path d="M152.0 130.6 L149.1 127.4" stroke="#2a1606" stroke-width="1.9" fill="none" stroke-linecap="round"/>
<circle cx="149.1" cy="127.4" r="1.67" fill="#3a2410" />
<path d="M155.5 130.3 L154.7 133.2" stroke="#2a1606" stroke-width="1.9" fill="none" stroke-linecap="round"/>
<circle cx="154.7" cy="133.2" r="1.88" fill="#3a2410" />
<path d="M159.9 129.9 L160.7 125.2" stroke="#2a1606" stroke-width="1.9" fill="none" stroke-linecap="round"/>
<circle cx="160.7" cy="125.2" r="2.05" fill="#6a3a18" />
<path d="M166.2 129.4 L166.5 133.8" stroke="#2a1606" stroke-width="1.9" fill="none" stroke-linecap="round"/>
<circle cx="166.5" cy="133.8" r="1.94" fill="#3a2410" />
<path d="M169.9 129.5 L169.0 134.9" stroke="#2a1606" stroke-width="1.9" fill="none" stroke-linecap="round"/>
<circle cx="169.0" cy="134.9" r="1.59" fill="#3a2410" />
<path d="M175.1 130.1 L175.7 135.6" stroke="#2a1606" stroke-width="1.9" fill="none" stroke-linecap="round"/>
<circle cx="175.7" cy="135.6" r="1.70" fill="#6a3a18" />
<path d="M179.2 130.5 L180.5 125.2" stroke="#2a1606" stroke-width="1.9" fill="none" stroke-linecap="round"/>
<circle cx="180.5" cy="125.2" r="1.87" fill="#6a3a18" />
<path d="M184.2 130.9 L182.6 134.3" stroke="#2a1606" stroke-width="1.9" fill="none" stroke-linecap="round"/>
<circle cx="182.6" cy="134.3" r="1.59" fill="#3a2410" />
<path d="M189.9 131.6 L191.4 135.5" stroke="#2a1606" stroke-width="1.9" fill="none" stroke-linecap="round"/>
<circle cx="191.4" cy="135.5" r="1.61" fill="#6a3a18" />
<path d="M191.8 131.6 L192.2 135.8" stroke="#2a1606" stroke-width="1.9" fill="none" stroke-linecap="round"/>
<circle cx="192.2" cy="135.8" r="1.25" fill="#3a2410" />
<path d="M198.6 132.3 L198.2 127.7" stroke="#2a1606" stroke-width="1.9" fill="none" stroke-linecap="round"/>
<circle cx="198.2" cy="127.7" r="1.24" fill="#3a2410" />
<path d="M201.9 132.8 L201.3 137.6" stroke="#2a1606" stroke-width="1.9" fill="none" stroke-linecap="round"/>
<circle cx="201.3" cy="137.6" r="1.99" fill="#3a2410" />
<path d="M208.3 133.5 L208.8 139.4" stroke="#2a1606" stroke-width="1.9" fill="none" stroke-linecap="round"/>
<circle cx="208.8" cy="139.4" r="1.60" fill="#6a3a18" />
<path d="M211.2 133.5 L213.0 136.5" stroke="#2a1606" stroke-width="1.9" fill="none" stroke-linecap="round"/>
<circle cx="213.0" cy="136.5" r="1.78" fill="#3a2410" />
<path d="M214.3 133.7 L216.5 127.8" stroke="#2a1606" stroke-width="1.9" fill="none" stroke-linecap="round"/>
<circle cx="216.5" cy="127.8" r="1.62" fill="#3a2410" />
<path d="M221.4 134.4 L221.4 129.2" stroke="#2a1606" stroke-width="1.9" fill="none" stroke-linecap="round"/>
<circle cx="221.4" cy="129.2" r="2.07" fill="#3a2410" />
<path d="M225.8 134.8 L226.2 132.0" stroke="#2a1606" stroke-width="1.9" fill="none" stroke-linecap="round"/>
<circle cx="226.2" cy="132.0" r="1.47" fill="#3a2410" />
</g>
</g>
<rect x="231.00" y="113.00" width="146.60" height="35.80" fill="url(#dg2)" stroke="none" stroke-width="1.0" />
<g clip-path="url(#cl11)">
<circle cx="246.7" cy="138.2" r="1.12" fill="#c09050" opacity="0.29"/>
<circle cx="270.7" cy="122.2" r="1.19" fill="#c09050" opacity="0.23"/>
<circle cx="275.4" cy="137.5" r="0.92" fill="#c09050" opacity="0.26"/>
<circle cx="248.4" cy="121.0" r="1.32" fill="#c09050" opacity="0.17"/>
<circle cx="269.2" cy="141.8" r="1.11" fill="#c09050" opacity="0.13"/>
<circle cx="311.8" cy="136.8" r="0.73" fill="#c09050" opacity="0.23"/>
<circle cx="249.0" cy="125.1" r="0.67" fill="#c09050" opacity="0.14"/>
<circle cx="374.4" cy="127.5" r="1.39" fill="#c09050" opacity="0.19"/>
<circle cx="320.1" cy="144.2" r="1.15" fill="#c09050" opacity="0.12"/>
<circle cx="317.4" cy="135.7" r="0.74" fill="#c09050" opacity="0.12"/>
<circle cx="359.2" cy="131.4" r="0.76" fill="#c09050" opacity="0.19"/>
<circle cx="263.0" cy="141.6" r="1.00" fill="#c09050" opacity="0.12"/>
<circle cx="350.9" cy="116.2" r="0.82" fill="#c09050" opacity="0.11"/>
<circle cx="339.5" cy="117.1" r="1.02" fill="#c09050" opacity="0.12"/>
<ellipse cx="232" cy="117" rx="2.6" ry="4" fill="#120808" filter="url(#bd)"/>
<g filter="url(#bh)">
<path d="M228.0 134.5 L230.0 134.5 L232.0 134.6 L234.0 134.7 L236.0 134.9 L238.0 135.0 L240.0 135.1 L242.0 135.3 L244.0 135.4 L246.0 135.5 L248.0 135.5 L250.0 135.5 L252.0 135.5 L254.0 135.5 L256.0 135.5 L258.0 135.5 L260.0 135.4 L262.0 135.4 L264.0 135.4 L266.0 135.4 L268.0 135.4 L270.0 135.3 L272.0 135.1 L274.0 134.6 L276.0 134.1 L278.0 133.6 L280.0 133.2 L282.0 132.8 L284.0 132.7 L286.0 132.7 L288.0 132.5 L290.0 132.3 L292.0 132.1 L294.0 131.8 L296.0 131.5 L298.0 131.2 L300.0 131.0 L302.0 130.7 L304.0 130.6 L306.0 130.5 L308.0 130.5 L310.0 130.5 L312.0 130.6 L314.0 130.7 L316.0 130.8 L318.0 130.8 L320.0 130.9 L322.0 131.0 L324.0 131.0 L326.0 131.0 L328.0 131.0 L330.0 130.9 L332.0 130.9 L334.0 130.8 L336.0 130.8 L338.0 130.7 L340.0 130.6 L342.0 130.6 L344.0 130.5 L346.0 130.5 L348.0 130.5 L350.0 130.5 L352.0 130.4 L354.0 130.3 L356.0 130.2 L358.0 130.1 L360.0 130.0 L362.0 130.0 L364.0 130.0 L366.0 129.9 L368.0 129.8 L370.0 129.7 L372.0 129.7 L374.0 129.6 L376.0 129.5 L378.0 129.4 L380.0 129.4" stroke="#3a2812" stroke-width="8.0" fill="none" opacity="0.14"/>
</g>
<g filter="url(#bd)">
<path d="M228.0 134.5 L230.0 134.5 L232.0 134.6 L234.0 134.7 L236.0 134.9 L238.0 135.0 L240.0 135.1 L242.0 135.3 L244.0 135.4 L246.0 135.5 L248.0 135.5 L250.0 135.5 L252.0 135.5 L254.0 135.5 L256.0 135.5 L258.0 135.5 L260.0 135.4 L262.0 135.4 L264.0 135.4 L266.0 135.4 L268.0 135.4 L270.0 135.3 L272.0 135.1 L274.0 134.6 L276.0 134.1 L278.0 133.6 L280.0 133.2 L282.0 132.8 L284.0 132.7 L286.0 132.7 L288.0 132.5 L290.0 132.3 L292.0 132.1 L294.0 131.8 L296.0 131.5 L298.0 131.2 L300.0 131.0 L302.0 130.7 L304.0 130.6 L306.0 130.5 L308.0 130.5 L310.0 130.5 L312.0 130.6 L314.0 130.7 L316.0 130.8 L318.0 130.8 L320.0 130.9 L322.0 131.0 L324.0 131.0 L326.0 131.0 L328.0 131.0 L330.0 130.9 L332.0 130.9 L334.0 130.8 L336.0 130.8 L338.0 130.7 L340.0 130.6 L342.0 130.6 L344.0 130.5 L346.0 130.5 L348.0 130.5 L350.0 130.5 L352.0 130.4 L354.0 130.3 L356.0 130.2 L358.0 130.1 L360.0 130.0 L362.0 130.0 L364.0 130.0 L366.0 129.9 L368.0 129.8 L370.0 129.7 L372.0 129.7 L374.0 129.6 L376.0 129.5 L378.0 129.4 L380.0 129.4" stroke="#150a10" stroke-width="3.2" fill="none" stroke-linecap="round" stroke-linejoin="round"/>
<g fill="#150a10"><circle cx="229.0" cy="134.5" r="1.95"/><circle cx="230.9" cy="134.4" r="1.73"/><circle cx="232.8" cy="134.9" r="1.30"/><circle cx="234.6" cy="134.1" r="2.15"/><circle cx="237.1" cy="133.8" r="1.36"/><circle cx="239.3" cy="135.3" r="1.22"/><circle cx="241.5" cy="136.4" r="1.67"/><circle cx="243.2" cy="135.5" r="2.23"/><circle cx="244.8" cy="134.9" r="1.41"/><circle cx="246.8" cy="135.4" r="1.48"/><circle cx="248.6" cy="134.3" r="1.54"/><circle cx="251.2" cy="135.7" r="1.51"/><circle cx="253.7" cy="135.1" r="1.48"/><circle cx="254.9" cy="134.6" r="1.42"/><circle cx="256.4" cy="136.4" r="1.49"/><circle cx="258.0" cy="135.7" r="2.21"/><circle cx="259.6" cy="136.1" r="1.61"/><circle cx="261.6" cy="135.7" r="2.24"/><circle cx="263.8" cy="135.4" r="2.13"/><circle cx="265.6" cy="135.1" r="2.26"/><circle cx="267.5" cy="136.1" r="1.55"/><circle cx="270.0" cy="135.6" r="1.47"/><circle cx="272.5" cy="134.9" r="1.57"/><circle cx="274.1" cy="133.6" r="1.42"/><circle cx="276.3" cy="133.1" r="1.48"/><circle cx="278.1" cy="133.7" r="1.62"/><circle cx="280.4" cy="132.5" r="1.61"/><circle cx="282.2" cy="131.9" r="1.44"/><circle cx="283.6" cy="133.3" r="1.36"/><circle cx="285.7" cy="131.9" r="1.91"/><circle cx="287.8" cy="132.2" r="2.23"/><circle cx="290.0" cy="132.5" r="1.25"/><circle cx="291.7" cy="131.5" r="1.72"/><circle cx="294.2" cy="132.7" r="1.27"/><circle cx="296.4" cy="132.6" r="1.80"/><circle cx="297.7" cy="132.2" r="1.67"/><circle cx="300.3" cy="131.9" r="2.11"/><circle cx="302.8" cy="129.6" r="2.07"/><circle cx="304.4" cy="129.6" r="1.62"/><circle cx="306.4" cy="129.2" r="1.69"/><circle cx="308.7" cy="130.5" r="1.78"/><circle cx="310.4" cy="131.8" r="1.47"/><circle cx="312.5" cy="131.0" r="1.20"/><circle cx="315.1" cy="130.0" r="2.29"/><circle cx="317.6" cy="131.9" r="2.14"/><circle cx="319.4" cy="130.7" r="1.58"/><circle cx="321.9" cy="129.7" r="1.35"/><circle cx="324.4" cy="131.8" r="1.98"/><circle cx="327.0" cy="131.1" r="2.12"/><circle cx="328.8" cy="132.0" r="1.28"/><circle cx="330.6" cy="131.1" r="2.07"/><circle cx="332.4" cy="131.3" r="2.26"/><circle cx="334.2" cy="130.0" r="1.23"/><circle cx="336.6" cy="130.7" r="1.63"/><circle cx="338.5" cy="129.7" r="1.44"/><circle cx="340.0" cy="130.0" r="2.15"/><circle cx="341.6" cy="129.5" r="2.15"/><circle cx="343.6" cy="129.3" r="1.94"/><circle cx="345.7" cy="130.9" r="2.05"/><circle cx="347.5" cy="129.8" r="2.02"/><circle cx="349.6" cy="131.0" r="1.40"/><circle cx="351.3" cy="130.9" r="1.62"/><circle cx="353.4" cy="130.2" r="2.03"/><circle cx="355.1" cy="130.2" r="2.11"/><circle cx="356.7" cy="129.3" r="1.90"/><circle cx="358.1" cy="131.0" r="1.50"/><circle cx="360.5" cy="130.1" r="1.37"/><circle cx="362.5" cy="130.5" r="1.73"/><circle cx="364.6" cy="129.6" r="2.26"/><circle cx="366.0" cy="130.7" r="1.23"/><circle cx="367.9" cy="128.7" r="1.34"/><circle cx="369.9" cy="130.8" r="1.54"/><circle cx="371.7" cy="129.6" r="1.87"/><circle cx="373.4" cy="129.2" r="2.14"/><circle cx="375.4" cy="129.1" r="2.10"/><circle cx="378.0" cy="129.2" r="1.22"/><circle cx="379.6" cy="130.4" r="1.39"/></g>
<path d="M248.9 135.5 L247.3 131.6" stroke="#150a10" stroke-width="1.9" fill="none" stroke-linecap="round"/>
<circle cx="247.3" cy="131.6" r="1.55" fill="#20101a" />
<path d="M260.1 135.4 L261.7 132.4" stroke="#150a10" stroke-width="1.9" fill="none" stroke-linecap="round"/>
<circle cx="261.7" cy="132.4" r="1.89" fill="#20101a" />
<path d="M298.4 131.2 L298.9 133.9" stroke="#150a10" stroke-width="1.9" fill="none" stroke-linecap="round"/>
<circle cx="298.9" cy="133.9" r="1.38" fill="#20101a" />
<path d="M321.4 131.0 L319.2 127.7" stroke="#150a10" stroke-width="1.9" fill="none" stroke-linecap="round"/>
<circle cx="319.2" cy="127.7" r="1.98" fill="#20101a" />
<path d="M347.4 130.5 L345.0 126.8" stroke="#150a10" stroke-width="1.9" fill="none" stroke-linecap="round"/>
<circle cx="345.0" cy="126.8" r="1.70" fill="#20101a" />
<path d="M373.2 129.6 L373.1 132.7" stroke="#150a10" stroke-width="1.9" fill="none" stroke-linecap="round"/>
<circle cx="373.1" cy="132.7" r="1.55" fill="#20101a" />
</g>
</g>
<rect x="381.00" y="113.00" width="146.00" height="35.80" fill="url(#dg)" stroke="none" stroke-width="1.0" />
<g clip-path="url(#cl12)">
<circle cx="521.9" cy="113.4" r="1.19" fill="#c09050" opacity="0.13"/>
<circle cx="525.0" cy="113.6" r="1.30" fill="#c09050" opacity="0.24"/>
<circle cx="506.2" cy="148.8" r="0.79" fill="#c09050" opacity="0.17"/>
<circle cx="484.4" cy="123.0" r="0.81" fill="#c09050" opacity="0.15"/>
<circle cx="506.2" cy="144.3" r="1.24" fill="#c09050" opacity="0.14"/>
<circle cx="516.0" cy="131.3" r="0.79" fill="#c09050" opacity="0.19"/>
<circle cx="442.3" cy="115.8" r="1.05" fill="#c09050" opacity="0.17"/>
<circle cx="464.2" cy="146.3" r="1.12" fill="#c09050" opacity="0.18"/>
<circle cx="507.1" cy="148.6" r="0.99" fill="#c09050" opacity="0.29"/>
<circle cx="383.7" cy="118.0" r="0.74" fill="#c09050" opacity="0.29"/>
<circle cx="481.8" cy="138.7" r="0.83" fill="#c09050" opacity="0.20"/>
<circle cx="510.5" cy="116.6" r="0.69" fill="#c09050" opacity="0.11"/>
<circle cx="449.4" cy="143.1" r="1.04" fill="#c09050" opacity="0.18"/>
<circle cx="454.3" cy="119.4" r="1.36" fill="#c09050" opacity="0.17"/>
<g filter="url(#bh)">
<path d="M378.0 136.1 L380.0 136.1 L382.0 136.0 L384.0 135.9 L386.0 135.8 L388.0 135.6 L390.0 135.4 L392.0 135.3 L394.0 135.1 L396.0 134.9 L398.0 134.8 L400.0 134.6 L402.0 134.6 L404.0 134.5 L406.0 134.5 L408.0 134.7 L410.0 134.9 L412.0 135.3 L414.0 135.7 L416.0 136.0 L418.0 136.4 L420.0 136.6 L422.0 136.8 L424.0 136.8 L426.0 136.4 L428.0 135.8 L430.0 135.1 L432.0 134.2 L434.0 133.2 L436.0 132.3 L438.0 131.5 L440.0 130.9 L442.0 130.6 L444.0 130.5 L446.0 130.5 L448.0 130.6 L450.0 130.7 L452.0 130.8 L454.0 130.9 L456.0 131.1 L458.0 131.2 L460.0 131.3 L462.0 131.4 L464.0 131.5 L466.0 131.6 L468.0 131.6 L470.0 131.7 L472.0 132.1 L474.0 132.5 L476.0 133.1 L478.0 133.5 L480.0 133.9 L482.0 134.0 L484.0 134.2 L486.0 134.6 L488.0 135.2 L490.0 135.9 L492.0 136.4 L494.0 136.8 L496.0 136.8 L498.0 136.7 L500.0 136.6 L502.0 136.4 L504.0 136.3 L506.0 136.1 L508.0 136.0 L510.0 136.0 L512.0 136.0 L514.0 135.9 L516.0 135.9 L518.0 135.8 L520.0 135.7 L522.0 135.6 L524.0 135.5 L526.0 135.5 L528.0 135.4 L530.0 135.4" stroke="#3a2812" stroke-width="7.4" fill="none" opacity="0.14"/>
</g>
<g filter="url(#bd)">
<path d="M378.0 136.1 L380.0 136.1 L382.0 136.0 L384.0 135.9 L386.0 135.8 L388.0 135.6 L390.0 135.4 L392.0 135.3 L394.0 135.1 L396.0 134.9 L398.0 134.8 L400.0 134.6 L402.0 134.6 L404.0 134.5 L406.0 134.5 L408.0 134.7 L410.0 134.9 L412.0 135.3 L414.0 135.7 L416.0 136.0 L418.0 136.4 L420.0 136.6 L422.0 136.8 L424.0 136.8 L426.0 136.4 L428.0 135.8 L430.0 135.1 L432.0 134.2 L434.0 133.2 L436.0 132.3 L438.0 131.5 L440.0 130.9 L442.0 130.6 L444.0 130.5 L446.0 130.5 L448.0 130.6 L450.0 130.7 L452.0 130.8 L454.0 130.9 L456.0 131.1 L458.0 131.2 L460.0 131.3 L462.0 131.4 L464.0 131.5 L466.0 131.6 L468.0 131.6 L470.0 131.7 L472.0 132.1 L474.0 132.5 L476.0 133.1 L478.0 133.5 L480.0 133.9 L482.0 134.0 L484.0 134.2 L486.0 134.6 L488.0 135.2 L490.0 135.9 L492.0 136.4 L494.0 136.8 L496.0 136.8 L498.0 136.7 L500.0 136.6 L502.0 136.4 L504.0 136.3 L506.0 136.1 L508.0 136.0 L510.0 136.0 L512.0 136.0 L514.0 135.9 L516.0 135.9 L518.0 135.8 L520.0 135.7 L522.0 135.6 L524.0 135.5 L526.0 135.5 L528.0 135.4 L530.0 135.4" stroke="#120a08" stroke-width="2.9600000000000004" fill="none" stroke-linecap="round" stroke-linejoin="round"/>
<g fill="#120a08"><circle cx="379.0" cy="135.8" r="1.43"/><circle cx="381.4" cy="135.8" r="2.03"/><circle cx="383.0" cy="135.9" r="1.19"/><circle cx="385.5" cy="136.2" r="1.59"/><circle cx="386.9" cy="135.7" r="1.49"/><circle cx="389.2" cy="136.0" r="1.86"/><circle cx="390.8" cy="134.8" r="2.02"/><circle cx="393.4" cy="134.7" r="1.62"/><circle cx="395.2" cy="135.5" r="1.15"/><circle cx="396.5" cy="135.3" r="1.69"/><circle cx="398.4" cy="135.1" r="1.71"/><circle cx="400.5" cy="134.3" r="1.20"/><circle cx="401.7" cy="134.4" r="1.77"/><circle cx="403.5" cy="134.3" r="1.74"/><circle cx="405.7" cy="134.6" r="1.43"/><circle cx="408.0" cy="135.0" r="2.02"/><circle cx="410.5" cy="134.4" r="1.79"/><circle cx="412.2" cy="135.2" r="1.64"/><circle cx="413.6" cy="135.3" r="2.11"/><circle cx="415.2" cy="136.4" r="1.81"/><circle cx="416.9" cy="136.0" r="1.73"/><circle cx="419.0" cy="136.3" r="1.17"/><circle cx="420.5" cy="137.1" r="1.85"/><circle cx="421.8" cy="137.2" r="1.70"/><circle cx="423.5" cy="137.3" r="1.24"/><circle cx="424.8" cy="136.5" r="1.86"/><circle cx="426.8" cy="136.2" r="2.03"/><circle cx="428.6" cy="136.0" r="1.11"/><circle cx="430.9" cy="134.3" r="1.78"/><circle cx="433.2" cy="133.8" r="1.70"/><circle cx="435.2" cy="133.0" r="1.49"/><circle cx="436.7" cy="132.1" r="1.64"/><circle cx="438.1" cy="131.5" r="1.59"/><circle cx="439.5" cy="131.3" r="1.90"/><circle cx="441.2" cy="131.1" r="2.11"/><circle cx="443.3" cy="130.4" r="1.39"/><circle cx="444.7" cy="130.2" r="2.13"/><circle cx="446.0" cy="131.0" r="1.82"/><circle cx="448.3" cy="130.1" r="1.77"/><circle cx="449.8" cy="130.9" r="1.92"/><circle cx="452.0" cy="130.9" r="2.01"/><circle cx="453.5" cy="130.5" r="1.99"/><circle cx="454.8" cy="130.9" r="1.54"/><circle cx="457.2" cy="131.0" r="1.69"/><circle cx="459.1" cy="131.3" r="1.59"/><circle cx="461.0" cy="131.5" r="1.55"/><circle cx="462.7" cy="132.0" r="2.10"/><circle cx="464.3" cy="132.1" r="1.13"/><circle cx="466.0" cy="132.1" r="1.28"/><circle cx="468.1" cy="132.2" r="1.73"/><circle cx="469.9" cy="131.2" r="1.57"/><circle cx="471.8" cy="132.4" r="1.51"/><circle cx="474.1" cy="132.5" r="1.76"/><circle cx="476.4" cy="132.7" r="2.08"/><circle cx="478.2" cy="133.5" r="2.10"/><circle cx="480.2" cy="133.9" r="1.33"/><circle cx="481.7" cy="134.3" r="1.62"/><circle cx="483.8" cy="134.4" r="1.80"/><circle cx="485.5" cy="134.9" r="1.57"/><circle cx="486.9" cy="135.3" r="2.03"/><circle cx="488.3" cy="135.8" r="1.81"/><circle cx="489.9" cy="135.9" r="2.05"/><circle cx="491.3" cy="136.4" r="1.35"/><circle cx="492.7" cy="137.1" r="2.12"/><circle cx="494.8" cy="137.1" r="1.51"/><circle cx="496.6" cy="136.9" r="1.94"/><circle cx="498.8" cy="136.6" r="1.75"/><circle cx="500.6" cy="136.9" r="1.99"/><circle cx="502.9" cy="136.2" r="1.50"/><circle cx="505.4" cy="136.0" r="1.79"/><circle cx="506.8" cy="135.7" r="1.34"/><circle cx="508.9" cy="135.7" r="1.78"/><circle cx="510.2" cy="136.2" r="1.82"/><circle cx="511.8" cy="135.7" r="1.37"/><circle cx="513.7" cy="135.6" r="1.35"/><circle cx="516.0" cy="136.4" r="1.27"/><circle cx="517.9" cy="136.0" r="2.08"/><circle cx="519.9" cy="135.7" r="1.90"/><circle cx="522.2" cy="135.9" r="1.74"/><circle cx="524.5" cy="135.0" r="1.89"/><circle cx="526.0" cy="135.3" r="1.51"/><circle cx="528.0" cy="135.5" r="1.71"/></g>
<path d="M395.2 135.0 L394.5 140.7" stroke="#120a08" stroke-width="1.9" fill="none" stroke-linecap="round"/>
<circle cx="394.5" cy="140.7" r="1.21" fill="#6a3a18" />
<path d="M447.1 130.6 L446.6 125.9" stroke="#120a08" stroke-width="1.9" fill="none" stroke-linecap="round"/>
<circle cx="446.6" cy="125.9" r="1.26" fill="#6a3a18" />
<path d="M470.4 131.8 L467.7 127.1" stroke="#120a08" stroke-width="1.9" fill="none" stroke-linecap="round"/>
<circle cx="467.7" cy="127.1" r="1.55" fill="#20140a" />
<path d="M517.6 135.8 L516.7 132.5" stroke="#120a08" stroke-width="1.9" fill="none" stroke-linecap="round"/>
<circle cx="516.7" cy="132.5" r="1.94" fill="#20140a" />
</g>
</g>
<rect x="532.00" y="113.00" width="147.00" height="35.80" fill="url(#dg)" stroke="none" stroke-width="1.0" />
<g clip-path="url(#cl13)">
<circle cx="585.1" cy="130.2" r="0.93" fill="#c09050" opacity="0.19"/>
<circle cx="592.2" cy="136.5" r="0.81" fill="#c09050" opacity="0.23"/>
<circle cx="533.5" cy="123.8" r="0.87" fill="#c09050" opacity="0.13"/>
<circle cx="641.3" cy="124.1" r="1.23" fill="#c09050" opacity="0.29"/>
<circle cx="569.3" cy="145.0" r="1.25" fill="#c09050" opacity="0.23"/>
<circle cx="536.0" cy="129.4" r="1.10" fill="#c09050" opacity="0.16"/>
<circle cx="565.0" cy="124.1" r="0.81" fill="#c09050" opacity="0.26"/>
<circle cx="583.1" cy="128.1" r="1.11" fill="#c09050" opacity="0.29"/>
<circle cx="575.1" cy="114.6" r="1.38" fill="#c09050" opacity="0.27"/>
<circle cx="648.2" cy="131.7" r="0.79" fill="#c09050" opacity="0.13"/>
<circle cx="576.7" cy="129.5" r="0.65" fill="#c09050" opacity="0.24"/>
<circle cx="639.0" cy="113.5" r="1.27" fill="#c09050" opacity="0.20"/>
<circle cx="667.1" cy="130.0" r="1.24" fill="#c09050" opacity="0.19"/>
<circle cx="622.1" cy="130.9" r="0.62" fill="#c09050" opacity="0.13"/>
<g filter="url(#bh)">
<path d="M529.0 132.7 L531.0 132.7 L533.0 132.8 L535.0 133.0 L537.0 133.1 L539.0 133.3 L541.0 133.5 L543.0 133.7 L545.0 133.8 L547.0 133.9 L549.0 134.0 L551.0 134.0 L553.0 134.0 L555.0 134.1 L557.0 134.2 L559.0 134.3 L561.0 134.5 L563.0 134.6 L565.0 134.7 L567.0 134.8 L569.0 134.9 L571.0 135.0 L573.0 135.0 L575.0 135.0 L577.0 134.9 L579.0 134.8 L581.0 134.7 L583.0 134.5 L585.0 134.4 L587.0 134.2 L589.0 134.1 L591.0 134.0 L593.0 133.9 L595.0 133.9 L597.0 133.9 L599.0 133.8 L601.0 133.7 L603.0 133.5 L605.0 133.3 L607.0 133.1 L609.0 132.9 L611.0 132.7 L613.0 132.5 L615.0 132.4 L617.0 132.3 L619.0 132.3 L621.0 132.2 L623.0 132.0 L625.0 131.8 L627.0 131.6 L629.0 131.4 L631.0 131.2 L633.0 131.0 L635.0 131.0 L637.0 130.9 L639.0 130.8 L641.0 130.5 L643.0 130.2 L645.0 130.0 L647.0 129.7 L649.0 129.5 L651.0 129.4 L653.0 129.4 L655.0 129.5 L657.0 129.6 L659.0 129.7 L661.0 129.9 L663.0 130.0 L665.0 130.0 L667.0 130.0 L669.0 130.1 L671.0 130.1 L673.0 130.2 L675.0 130.3 L677.0 130.4 L679.0 130.5 L681.0 130.5" stroke="#3a2812" stroke-width="7.4" fill="none" opacity="0.14"/>
</g>
<g filter="url(#bd)">
<path d="M529.0 132.7 L531.0 132.7 L533.0 132.8 L535.0 133.0 L537.0 133.1 L539.0 133.3 L541.0 133.5 L543.0 133.7 L545.0 133.8 L547.0 133.9 L549.0 134.0 L551.0 134.0 L553.0 134.0 L555.0 134.1 L557.0 134.2 L559.0 134.3 L561.0 134.5 L563.0 134.6 L565.0 134.7 L567.0 134.8 L569.0 134.9 L571.0 135.0 L573.0 135.0 L575.0 135.0 L577.0 134.9 L579.0 134.8 L581.0 134.7 L583.0 134.5 L585.0 134.4 L587.0 134.2 L589.0 134.1 L591.0 134.0 L593.0 133.9 L595.0 133.9 L597.0 133.9 L599.0 133.8 L601.0 133.7 L603.0 133.5 L605.0 133.3 L607.0 133.1 L609.0 132.9 L611.0 132.7 L613.0 132.5 L615.0 132.4 L617.0 132.3 L619.0 132.3 L621.0 132.2 L623.0 132.0 L625.0 131.8 L627.0 131.6 L629.0 131.4 L631.0 131.2 L633.0 131.0 L635.0 131.0 L637.0 130.9 L639.0 130.8 L641.0 130.5 L643.0 130.2 L645.0 130.0 L647.0 129.7 L649.0 129.5 L651.0 129.4 L653.0 129.4 L655.0 129.5 L657.0 129.6 L659.0 129.7 L661.0 129.9 L663.0 130.0 L665.0 130.0 L667.0 130.0 L669.0 130.1 L671.0 130.1 L673.0 130.2 L675.0 130.3 L677.0 130.4 L679.0 130.5 L681.0 130.5" stroke="#120a06" stroke-width="2.9600000000000004" fill="none" stroke-linecap="round" stroke-linejoin="round"/>
<g fill="#120a06"><circle cx="530.0" cy="132.4" r="1.52"/><circle cx="531.7" cy="132.8" r="1.78"/><circle cx="533.5" cy="132.6" r="1.63"/><circle cx="536.0" cy="133.4" r="1.78"/><circle cx="538.4" cy="132.9" r="1.21"/><circle cx="539.7" cy="132.9" r="1.12"/><circle cx="541.8" cy="134.1" r="1.23"/><circle cx="543.9" cy="134.3" r="1.89"/><circle cx="545.3" cy="134.0" r="1.37"/><circle cx="546.8" cy="133.3" r="1.64"/><circle cx="549.3" cy="133.5" r="1.26"/><circle cx="551.0" cy="133.5" r="1.58"/><circle cx="553.2" cy="134.0" r="1.15"/><circle cx="554.5" cy="133.7" r="1.79"/><circle cx="557.0" cy="134.2" r="1.22"/><circle cx="558.5" cy="134.2" r="1.22"/><circle cx="559.8" cy="134.3" r="1.97"/><circle cx="561.4" cy="135.0" r="2.00"/><circle cx="563.2" cy="134.3" r="1.30"/><circle cx="565.3" cy="135.1" r="1.99"/><circle cx="566.8" cy="134.7" r="1.13"/><circle cx="568.4" cy="134.7" r="1.24"/><circle cx="569.7" cy="135.5" r="1.42"/><circle cx="571.6" cy="135.0" r="1.59"/><circle cx="573.7" cy="135.0" r="1.61"/><circle cx="575.0" cy="135.1" r="1.79"/><circle cx="577.2" cy="134.7" r="1.58"/><circle cx="579.5" cy="135.0" r="1.16"/><circle cx="581.2" cy="134.3" r="1.83"/><circle cx="582.9" cy="134.4" r="1.34"/><circle cx="584.8" cy="134.7" r="1.75"/><circle cx="586.3" cy="134.2" r="1.74"/><circle cx="587.6" cy="134.7" r="1.13"/><circle cx="589.6" cy="133.7" r="2.08"/><circle cx="591.8" cy="133.6" r="1.62"/><circle cx="594.2" cy="134.3" r="1.78"/><circle cx="596.3" cy="134.2" r="2.04"/><circle cx="598.2" cy="134.0" r="1.92"/><circle cx="600.1" cy="133.4" r="1.70"/><circle cx="601.8" cy="133.8" r="1.87"/><circle cx="604.3" cy="132.9" r="1.13"/><circle cx="606.8" cy="133.4" r="2.12"/><circle cx="609.1" cy="133.4" r="1.27"/><circle cx="610.6" cy="132.8" r="1.88"/><circle cx="612.0" cy="133.1" r="1.34"/><circle cx="613.4" cy="132.4" r="1.30"/><circle cx="614.8" cy="131.9" r="1.14"/><circle cx="616.2" cy="132.5" r="1.90"/><circle cx="618.5" cy="132.2" r="1.88"/><circle cx="619.8" cy="132.7" r="1.53"/><circle cx="621.2" cy="132.0" r="1.31"/><circle cx="623.4" cy="131.8" r="1.13"/><circle cx="624.9" cy="131.3" r="2.08"/><circle cx="626.7" cy="132.0" r="1.71"/><circle cx="628.5" cy="131.7" r="1.67"/><circle cx="629.7" cy="131.9" r="1.46"/><circle cx="631.8" cy="131.0" r="2.09"/><circle cx="633.3" cy="130.5" r="1.15"/><circle cx="635.0" cy="131.4" r="1.57"/><circle cx="637.5" cy="130.5" r="2.09"/><circle cx="639.0" cy="131.2" r="1.31"/><circle cx="641.0" cy="130.7" r="2.10"/><circle cx="642.8" cy="130.7" r="1.16"/><circle cx="645.2" cy="130.0" r="1.66"/><circle cx="647.8" cy="129.4" r="1.74"/><circle cx="649.8" cy="129.2" r="1.26"/><circle cx="651.6" cy="129.1" r="1.73"/><circle cx="653.4" cy="128.9" r="1.81"/><circle cx="655.9" cy="129.7" r="1.41"/><circle cx="657.5" cy="130.2" r="1.56"/><circle cx="659.7" cy="129.3" r="1.94"/><circle cx="662.1" cy="129.6" r="1.42"/><circle cx="664.3" cy="130.5" r="1.91"/><circle cx="665.5" cy="129.5" r="2.01"/><circle cx="667.2" cy="130.6" r="1.57"/><circle cx="669.6" cy="129.8" r="2.09"/><circle cx="671.5" cy="129.6" r="1.31"/><circle cx="672.8" cy="130.1" r="2.08"/><circle cx="675.4" cy="130.8" r="1.53"/><circle cx="677.6" cy="130.7" r="1.96"/><circle cx="680.2" cy="130.9" r="1.89"/></g>
<path d="M538.9 133.3 L540.4 136.9" stroke="#120a06" stroke-width="1.9" fill="none" stroke-linecap="round"/>
<circle cx="540.4" cy="136.9" r="1.34" fill="#3a2010" />
<path d="M581.5 134.6 L578.5 137.5" stroke="#120a06" stroke-width="1.9" fill="none" stroke-linecap="round"/>
<circle cx="578.5" cy="137.5" r="1.22" fill="#3a2010" />
<path d="M611.1 132.7 L611.1 135.6" stroke="#120a06" stroke-width="1.9" fill="none" stroke-linecap="round"/>
<circle cx="611.1" cy="135.6" r="1.52" fill="#3a2010" />
<path d="M624.7 131.9 L622.4 127.9" stroke="#120a06" stroke-width="1.9" fill="none" stroke-linecap="round"/>
<circle cx="622.4" cy="127.9" r="1.58" fill="#3a2010" />
<path d="M674.4 130.3 L672.7 133.9" stroke="#120a06" stroke-width="1.9" fill="none" stroke-linecap="round"/>
<circle cx="672.7" cy="133.9" r="1.36" fill="#3a2010" />
</g>
</g>
<rect x="649.00" y="134.80" width="21.00" height="2.60" fill="#111" stroke="none" stroke-width="1.0" />
<text x="646.5" y="145.2" font-size="8.3" fill="#222" >10 µm</text>
<text x="-0.1" y="180.6" font-size="16" font-weight="bold" fill="#000" stroke="#000" stroke-width="0.45">b</text>
<line x1="49.6" y1="185.3" x2="49.6" y2="295.0" stroke="#3a3a3a" stroke-width="1.0" />
<line x1="49.1" y1="295.0" x2="213.5" y2="295.0" stroke="#3a3a3a" stroke-width="1.0" />
<line x1="43.6" y1="295.0" x2="49.6" y2="295.0" stroke="#3a3a3a" stroke-width="1.0" />
<text x="39.9" y="298.9" font-size="9.0" text-anchor="end" fill="#231f20"  letter-spacing="0.5">0</text>
<line x1="43.6" y1="240.2" x2="49.6" y2="240.2" stroke="#3a3a3a" stroke-width="1.0" />
<text x="39.9" y="244.1" font-size="9.0" text-anchor="end" fill="#231f20"  letter-spacing="0.5">10</text>
<line x1="43.6" y1="185.3" x2="49.6" y2="185.3" stroke="#3a3a3a" stroke-width="1.0" />
<text x="39.9" y="189.2" font-size="9.0" text-anchor="end" fill="#231f20"  letter-spacing="0.5">20</text>
<text transform="translate(19.9,240.5) rotate(-90)" font-size="10.6" text-anchor="middle" fill="#231f20">Branch spines per 10 µm</text>
<path d="M61.20 295.00 L61.20 240.97 L74.80 240.97 L74.80 295.00" stroke="#86aaf2" stroke-width="0.65" fill="none" />
<path d="M77.10 295.00 L77.10 238.23 L90.70 238.23 L90.70 295.00" stroke="#f47f7f" stroke-width="0.65" fill="none" />
<path d="M93.00 295.00 L93.00 271.41 L106.60 271.41 L106.60 295.00" stroke="#86aaf2" stroke-width="0.65" fill="none" />
<path d="M108.80 295.00 L108.80 275.80 L122.40 275.80 L122.40 295.00" stroke="#f47f7f" stroke-width="0.65" fill="none" />
<path d="M138.80 295.00 L138.80 246.18 L152.40 246.18 L152.40 295.00" stroke="#7474ee" stroke-width="0.65" fill="none" />
<path d="M154.60 295.00 L154.60 274.43 L168.20 274.43 L168.20 295.00" stroke="#f57a45" stroke-width="0.65" fill="none" />
<path d="M170.30 295.00 L170.30 245.09 L183.90 245.09 L183.90 295.00" stroke="#7474ee" stroke-width="0.65" fill="none" />
<path d="M186.10 295.00 L186.10 272.51 L199.70 272.51 L199.70 295.00" stroke="#f57a45" stroke-width="0.65" fill="none" />
<circle cx="68.0" cy="207.2" r="1.75" fill="white" stroke="#86aaf2" stroke-width="0.6" fill-opacity="0"/>
<circle cx="68.0" cy="223.7" r="1.75" fill="white" stroke="#86aaf2" stroke-width="0.6" fill-opacity="0"/>
<circle cx="66.1" cy="229.2" r="1.75" fill="white" stroke="#86aaf2" stroke-width="0.6" fill-opacity="0"/>
<circle cx="69.9" cy="229.2" r="1.75" fill="white" stroke="#86aaf2" stroke-width="0.6" fill-opacity="0"/>
<circle cx="60.5" cy="234.7" r="1.75" fill="white" stroke="#86aaf2" stroke-width="0.6" fill-opacity="0"/>
<circle cx="64.2" cy="234.7" r="1.75" fill="white" stroke="#86aaf2" stroke-width="0.6" fill-opacity="0"/>
<circle cx="68.0" cy="234.7" r="1.75" fill="white" stroke="#86aaf2" stroke-width="0.6" fill-opacity="0"/>
<circle cx="71.8" cy="234.7" r="1.75" fill="white" stroke="#86aaf2" stroke-width="0.6" fill-opacity="0"/>
<circle cx="75.5" cy="234.7" r="1.75" fill="white" stroke="#86aaf2" stroke-width="0.6" fill-opacity="0"/>
<circle cx="68.0" cy="240.2" r="1.75" fill="white" stroke="#86aaf2" stroke-width="0.6" fill-opacity="0"/>
<circle cx="68.0" cy="245.6" r="1.75" fill="white" stroke="#86aaf2" stroke-width="0.6" fill-opacity="0"/>
<circle cx="68.0" cy="251.1" r="1.75" fill="white" stroke="#86aaf2" stroke-width="0.6" fill-opacity="0"/>
<circle cx="66.1" cy="256.6" r="1.75" fill="white" stroke="#86aaf2" stroke-width="0.6" fill-opacity="0"/>
<circle cx="69.9" cy="256.6" r="1.75" fill="white" stroke="#86aaf2" stroke-width="0.6" fill-opacity="0"/>
<circle cx="66.1" cy="262.1" r="1.75" fill="white" stroke="#86aaf2" stroke-width="0.6" fill-opacity="0"/>
<circle cx="69.9" cy="262.1" r="1.75" fill="white" stroke="#86aaf2" stroke-width="0.6" fill-opacity="0"/>
<line x1="68.0" y1="237.1" x2="68.0" y2="244.8" stroke="#86aaf2" stroke-width="0.65" />
<line x1="65.0" y1="237.1" x2="71.0" y2="237.1" stroke="#86aaf2" stroke-width="0.65" />
<line x1="65.0" y1="244.8" x2="71.0" y2="244.8" stroke="#86aaf2" stroke-width="0.65" />
<circle cx="82.0" cy="212.7" r="1.75" fill="white" stroke="#f47f7f" stroke-width="0.6" fill-opacity="0"/>
<circle cx="85.8" cy="212.7" r="1.75" fill="white" stroke="#f47f7f" stroke-width="0.6" fill-opacity="0"/>
<circle cx="83.9" cy="223.7" r="1.75" fill="white" stroke="#f47f7f" stroke-width="0.6" fill-opacity="0"/>
<circle cx="82.0" cy="229.2" r="1.75" fill="white" stroke="#f47f7f" stroke-width="0.6" fill-opacity="0"/>
<circle cx="85.8" cy="229.2" r="1.75" fill="white" stroke="#f47f7f" stroke-width="0.6" fill-opacity="0"/>
<circle cx="80.2" cy="234.7" r="1.75" fill="white" stroke="#f47f7f" stroke-width="0.6" fill-opacity="0"/>
<circle cx="83.9" cy="234.7" r="1.75" fill="white" stroke="#f47f7f" stroke-width="0.6" fill-opacity="0"/>
<circle cx="87.7" cy="234.7" r="1.75" fill="white" stroke="#f47f7f" stroke-width="0.6" fill-opacity="0"/>
<circle cx="83.9" cy="240.2" r="1.75" fill="white" stroke="#f47f7f" stroke-width="0.6" fill-opacity="0"/>
<circle cx="80.2" cy="245.6" r="1.75" fill="white" stroke="#f47f7f" stroke-width="0.6" fill-opacity="0"/>
<circle cx="83.9" cy="245.6" r="1.75" fill="white" stroke="#f47f7f" stroke-width="0.6" fill-opacity="0"/>
<circle cx="87.7" cy="245.6" r="1.75" fill="white" stroke="#f47f7f" stroke-width="0.6" fill-opacity="0"/>
<circle cx="83.9" cy="251.1" r="1.75" fill="white" stroke="#f47f7f" stroke-width="0.6" fill-opacity="0"/>
<circle cx="83.9" cy="256.6" r="1.75" fill="white" stroke="#f47f7f" stroke-width="0.6" fill-opacity="0"/>
<circle cx="83.9" cy="262.1" r="1.75" fill="white" stroke="#f47f7f" stroke-width="0.6" fill-opacity="0"/>
<line x1="83.9" y1="233.8" x2="83.9" y2="242.6" stroke="#f47f7f" stroke-width="0.65" />
<line x1="80.9" y1="233.8" x2="86.9" y2="233.8" stroke="#f47f7f" stroke-width="0.65" />
<line x1="80.9" y1="242.6" x2="86.9" y2="242.6" stroke="#f47f7f" stroke-width="0.65" />
<circle cx="99.8" cy="256.6" r="1.75" fill="white" stroke="#86aaf2" stroke-width="0.6" fill-opacity="0"/>
<circle cx="97.9" cy="262.1" r="1.75" fill="white" stroke="#86aaf2" stroke-width="0.6" fill-opacity="0"/>
<circle cx="101.7" cy="262.1" r="1.75" fill="white" stroke="#86aaf2" stroke-width="0.6" fill-opacity="0"/>
<circle cx="96.0" cy="267.6" r="1.75" fill="white" stroke="#86aaf2" stroke-width="0.6" fill-opacity="0"/>
<circle cx="99.8" cy="267.6" r="1.75" fill="white" stroke="#86aaf2" stroke-width="0.6" fill-opacity="0"/>
<circle cx="103.5" cy="267.6" r="1.75" fill="white" stroke="#86aaf2" stroke-width="0.6" fill-opacity="0"/>
<circle cx="96.0" cy="273.1" r="1.75" fill="white" stroke="#86aaf2" stroke-width="0.6" fill-opacity="0"/>
<circle cx="99.8" cy="273.1" r="1.75" fill="white" stroke="#86aaf2" stroke-width="0.6" fill-opacity="0"/>
<circle cx="103.5" cy="273.1" r="1.75" fill="white" stroke="#86aaf2" stroke-width="0.6" fill-opacity="0"/>
<circle cx="96.0" cy="278.5" r="1.75" fill="white" stroke="#86aaf2" stroke-width="0.6" fill-opacity="0"/>
<circle cx="99.8" cy="278.5" r="1.75" fill="white" stroke="#86aaf2" stroke-width="0.6" fill-opacity="0"/>
<circle cx="103.5" cy="278.5" r="1.75" fill="white" stroke="#86aaf2" stroke-width="0.6" fill-opacity="0"/>
<circle cx="97.9" cy="284.0" r="1.75" fill="white" stroke="#86aaf2" stroke-width="0.6" fill-opacity="0"/>
<circle cx="101.7" cy="284.0" r="1.75" fill="white" stroke="#86aaf2" stroke-width="0.6" fill-opacity="0"/>
<circle cx="99.8" cy="289.5" r="1.75" fill="white" stroke="#86aaf2" stroke-width="0.6" fill-opacity="0"/>
<line x1="99.8" y1="268.7" x2="99.8" y2="274.2" stroke="#86aaf2" stroke-width="0.65" />
<line x1="96.8" y1="268.7" x2="102.8" y2="268.7" stroke="#86aaf2" stroke-width="0.65" />
<line x1="96.8" y1="274.2" x2="102.8" y2="274.2" stroke="#86aaf2" stroke-width="0.65" />
<circle cx="115.6" cy="256.6" r="1.75" fill="white" stroke="#f47f7f" stroke-width="0.6" fill-opacity="0"/>
<circle cx="115.6" cy="262.1" r="1.75" fill="white" stroke="#f47f7f" stroke-width="0.6" fill-opacity="0"/>
<circle cx="111.8" cy="267.6" r="1.75" fill="white" stroke="#f47f7f" stroke-width="0.6" fill-opacity="0"/>
<circle cx="115.6" cy="267.6" r="1.75" fill="white" stroke="#f47f7f" stroke-width="0.6" fill-opacity="0"/>
<circle cx="119.3" cy="267.6" r="1.75" fill="white" stroke="#f47f7f" stroke-width="0.6" fill-opacity="0"/>
<circle cx="111.8" cy="273.1" r="1.75" fill="white" stroke="#f47f7f" stroke-width="0.6" fill-opacity="0"/>
<circle cx="115.6" cy="273.1" r="1.75" fill="white" stroke="#f47f7f" stroke-width="0.6" fill-opacity="0"/>
<circle cx="119.3" cy="273.1" r="1.75" fill="white" stroke="#f47f7f" stroke-width="0.6" fill-opacity="0"/>
<circle cx="111.8" cy="278.5" r="1.75" fill="white" stroke="#f47f7f" stroke-width="0.6" fill-opacity="0"/>
<circle cx="115.6" cy="278.5" r="1.75" fill="white" stroke="#f47f7f" stroke-width="0.6" fill-opacity="0"/>
<circle cx="119.3" cy="278.5" r="1.75" fill="white" stroke="#f47f7f" stroke-width="0.6" fill-opacity="0"/>
<circle cx="111.8" cy="284.0" r="1.75" fill="white" stroke="#f47f7f" stroke-width="0.6" fill-opacity="0"/>
<circle cx="115.6" cy="284.0" r="1.75" fill="white" stroke="#f47f7f" stroke-width="0.6" fill-opacity="0"/>
<circle cx="119.3" cy="284.0" r="1.75" fill="white" stroke="#f47f7f" stroke-width="0.6" fill-opacity="0"/>
<circle cx="113.7" cy="289.5" r="1.75" fill="white" stroke="#f47f7f" stroke-width="0.6" fill-opacity="0"/>
<circle cx="117.5" cy="289.5" r="1.75" fill="white" stroke="#f47f7f" stroke-width="0.6" fill-opacity="0"/>
<line x1="115.6" y1="273.3" x2="115.6" y2="278.3" stroke="#f47f7f" stroke-width="0.65" />
<line x1="112.6" y1="273.3" x2="118.6" y2="273.3" stroke="#f47f7f" stroke-width="0.65" />
<line x1="112.6" y1="278.3" x2="118.6" y2="278.3" stroke="#f47f7f" stroke-width="0.65" />
<circle cx="143.7" cy="223.7" r="1.75" fill="white" stroke="#7474ee" stroke-width="0.6" fill-opacity="0"/>
<circle cx="147.5" cy="223.7" r="1.75" fill="white" stroke="#7474ee" stroke-width="0.6" fill-opacity="0"/>
<circle cx="143.7" cy="229.2" r="1.75" fill="white" stroke="#7474ee" stroke-width="0.6" fill-opacity="0"/>
<circle cx="147.5" cy="229.2" r="1.75" fill="white" stroke="#7474ee" stroke-width="0.6" fill-opacity="0"/>
<circle cx="145.6" cy="234.7" r="1.75" fill="white" stroke="#7474ee" stroke-width="0.6" fill-opacity="0"/>
<circle cx="143.7" cy="240.2" r="1.75" fill="white" stroke="#7474ee" stroke-width="0.6" fill-opacity="0"/>
<circle cx="147.5" cy="240.2" r="1.75" fill="white" stroke="#7474ee" stroke-width="0.6" fill-opacity="0"/>
<circle cx="143.7" cy="245.6" r="1.75" fill="white" stroke="#7474ee" stroke-width="0.6" fill-opacity="0"/>
<circle cx="147.5" cy="245.6" r="1.75" fill="white" stroke="#7474ee" stroke-width="0.6" fill-opacity="0"/>
<circle cx="141.8" cy="251.1" r="1.75" fill="white" stroke="#7474ee" stroke-width="0.6" fill-opacity="0"/>
<circle cx="145.6" cy="251.1" r="1.75" fill="white" stroke="#7474ee" stroke-width="0.6" fill-opacity="0"/>
<circle cx="149.3" cy="251.1" r="1.75" fill="white" stroke="#7474ee" stroke-width="0.6" fill-opacity="0"/>
<circle cx="143.7" cy="256.6" r="1.75" fill="white" stroke="#7474ee" stroke-width="0.6" fill-opacity="0"/>
<circle cx="147.5" cy="256.6" r="1.75" fill="white" stroke="#7474ee" stroke-width="0.6" fill-opacity="0"/>
<circle cx="145.6" cy="262.1" r="1.75" fill="white" stroke="#7474ee" stroke-width="0.6" fill-opacity="0"/>
<circle cx="145.6" cy="267.6" r="1.75" fill="white" stroke="#7474ee" stroke-width="0.6" fill-opacity="0"/>
<line x1="145.6" y1="242.6" x2="145.6" y2="249.7" stroke="#7474ee" stroke-width="0.65" />
<line x1="142.6" y1="242.6" x2="148.6" y2="242.6" stroke="#7474ee" stroke-width="0.65" />
<line x1="142.6" y1="249.7" x2="148.6" y2="249.7" stroke="#7474ee" stroke-width="0.65" />
<circle cx="161.4" cy="251.1" r="1.75" fill="white" stroke="#f57a45" stroke-width="0.6" fill-opacity="0"/>
<circle cx="161.4" cy="256.6" r="1.75" fill="white" stroke="#f57a45" stroke-width="0.6" fill-opacity="0"/>
<circle cx="161.4" cy="262.1" r="1.75" fill="white" stroke="#f57a45" stroke-width="0.6" fill-opacity="0"/>
<circle cx="157.7" cy="267.6" r="1.75" fill="white" stroke="#f57a45" stroke-width="0.6" fill-opacity="0"/>
<circle cx="161.4" cy="267.6" r="1.75" fill="white" stroke="#f57a45" stroke-width="0.6" fill-opacity="0"/>
<circle cx="165.2" cy="267.6" r="1.75" fill="white" stroke="#f57a45" stroke-width="0.6" fill-opacity="0"/>
<circle cx="159.5" cy="273.1" r="1.75" fill="white" stroke="#f57a45" stroke-width="0.6" fill-opacity="0"/>
<circle cx="163.3" cy="273.1" r="1.75" fill="white" stroke="#f57a45" stroke-width="0.6" fill-opacity="0"/>
<circle cx="155.8" cy="278.5" r="1.75" fill="white" stroke="#f57a45" stroke-width="0.6" fill-opacity="0"/>
<circle cx="159.5" cy="278.5" r="1.75" fill="white" stroke="#f57a45" stroke-width="0.6" fill-opacity="0"/>
<circle cx="163.3" cy="278.5" r="1.75" fill="white" stroke="#f57a45" stroke-width="0.6" fill-opacity="0"/>
<circle cx="167.0" cy="278.5" r="1.75" fill="white" stroke="#f57a45" stroke-width="0.6" fill-opacity="0"/>
<circle cx="157.7" cy="284.0" r="1.75" fill="white" stroke="#f57a45" stroke-width="0.6" fill-opacity="0"/>
<circle cx="161.4" cy="284.0" r="1.75" fill="white" stroke="#f57a45" stroke-width="0.6" fill-opacity="0"/>
<circle cx="165.2" cy="284.0" r="1.75" fill="white" stroke="#f57a45" stroke-width="0.6" fill-opacity="0"/>
<circle cx="161.4" cy="289.5" r="1.75" fill="white" stroke="#f57a45" stroke-width="0.6" fill-opacity="0"/>
<line x1="161.4" y1="271.7" x2="161.4" y2="277.2" stroke="#f57a45" stroke-width="0.65" />
<line x1="158.4" y1="271.7" x2="164.4" y2="271.7" stroke="#f57a45" stroke-width="0.65" />
<line x1="158.4" y1="277.2" x2="164.4" y2="277.2" stroke="#f57a45" stroke-width="0.65" />
<circle cx="177.1" cy="223.7" r="1.75" fill="white" stroke="#7474ee" stroke-width="0.6" fill-opacity="0"/>
<circle cx="175.2" cy="229.2" r="1.75" fill="white" stroke="#7474ee" stroke-width="0.6" fill-opacity="0"/>
<circle cx="179.0" cy="229.2" r="1.75" fill="white" stroke="#7474ee" stroke-width="0.6" fill-opacity="0"/>
<circle cx="175.2" cy="234.7" r="1.75" fill="white" stroke="#7474ee" stroke-width="0.6" fill-opacity="0"/>
<circle cx="179.0" cy="234.7" r="1.75" fill="white" stroke="#7474ee" stroke-width="0.6" fill-opacity="0"/>
<circle cx="175.2" cy="240.2" r="1.75" fill="white" stroke="#7474ee" stroke-width="0.6" fill-opacity="0"/>
<circle cx="179.0" cy="240.2" r="1.75" fill="white" stroke="#7474ee" stroke-width="0.6" fill-opacity="0"/>
<circle cx="177.1" cy="245.6" r="1.75" fill="white" stroke="#7474ee" stroke-width="0.6" fill-opacity="0"/>
<circle cx="173.3" cy="251.1" r="1.75" fill="white" stroke="#7474ee" stroke-width="0.6" fill-opacity="0"/>
<circle cx="177.1" cy="251.1" r="1.75" fill="white" stroke="#7474ee" stroke-width="0.6" fill-opacity="0"/>
<circle cx="180.8" cy="251.1" r="1.75" fill="white" stroke="#7474ee" stroke-width="0.6" fill-opacity="0"/>
<circle cx="173.3" cy="256.6" r="1.75" fill="white" stroke="#7474ee" stroke-width="0.6" fill-opacity="0"/>
<circle cx="177.1" cy="256.6" r="1.75" fill="white" stroke="#7474ee" stroke-width="0.6" fill-opacity="0"/>
<circle cx="180.8" cy="256.6" r="1.75" fill="white" stroke="#7474ee" stroke-width="0.6" fill-opacity="0"/>
<circle cx="177.1" cy="262.1" r="1.75" fill="white" stroke="#7474ee" stroke-width="0.6" fill-opacity="0"/>
<line x1="177.1" y1="242.1" x2="177.1" y2="248.1" stroke="#7474ee" stroke-width="0.65" />
<line x1="174.1" y1="242.1" x2="180.1" y2="242.1" stroke="#7474ee" stroke-width="0.65" />
<line x1="174.1" y1="248.1" x2="180.1" y2="248.1" stroke="#7474ee" stroke-width="0.65" />
<circle cx="192.9" cy="256.6" r="1.75" fill="white" stroke="#f57a45" stroke-width="0.6" fill-opacity="0"/>
<circle cx="192.9" cy="262.1" r="1.75" fill="white" stroke="#f57a45" stroke-width="0.6" fill-opacity="0"/>
<circle cx="189.2" cy="267.6" r="1.75" fill="white" stroke="#f57a45" stroke-width="0.6" fill-opacity="0"/>
<circle cx="192.9" cy="267.6" r="1.75" fill="white" stroke="#f57a45" stroke-width="0.6" fill-opacity="0"/>
<circle cx="196.7" cy="267.6" r="1.75" fill="white" stroke="#f57a45" stroke-width="0.6" fill-opacity="0"/>
<circle cx="185.4" cy="273.1" r="1.75" fill="white" stroke="#f57a45" stroke-width="0.6" fill-opacity="0"/>
<circle cx="189.2" cy="273.1" r="1.75" fill="white" stroke="#f57a45" stroke-width="0.6" fill-opacity="0"/>
<circle cx="192.9" cy="273.1" r="1.75" fill="white" stroke="#f57a45" stroke-width="0.6" fill-opacity="0"/>
<circle cx="196.7" cy="273.1" r="1.75" fill="white" stroke="#f57a45" stroke-width="0.6" fill-opacity="0"/>
<circle cx="200.4" cy="273.1" r="1.75" fill="white" stroke="#f57a45" stroke-width="0.6" fill-opacity="0"/>
<circle cx="185.4" cy="278.5" r="1.75" fill="white" stroke="#f57a45" stroke-width="0.6" fill-opacity="0"/>
<circle cx="189.2" cy="278.5" r="1.75" fill="white" stroke="#f57a45" stroke-width="0.6" fill-opacity="0"/>
<circle cx="192.9" cy="278.5" r="1.75" fill="white" stroke="#f57a45" stroke-width="0.6" fill-opacity="0"/>
<circle cx="196.7" cy="278.5" r="1.75" fill="white" stroke="#f57a45" stroke-width="0.6" fill-opacity="0"/>
<circle cx="200.4" cy="278.5" r="1.75" fill="white" stroke="#f57a45" stroke-width="0.6" fill-opacity="0"/>
<circle cx="192.9" cy="289.5" r="1.75" fill="white" stroke="#f57a45" stroke-width="0.6" fill-opacity="0"/>
<line x1="192.9" y1="270.3" x2="192.9" y2="274.7" stroke="#f57a45" stroke-width="0.65" />
<line x1="189.9" y1="270.3" x2="195.9" y2="270.3" stroke="#f57a45" stroke-width="0.65" />
<line x1="189.9" y1="274.7" x2="195.9" y2="274.7" stroke="#f57a45" stroke-width="0.65" />
<line x1="68.0" y1="295.0" x2="68.0" y2="299.0" stroke="#444" stroke-width="0.9" />
<line x1="83.9" y1="295.0" x2="83.9" y2="299.0" stroke="#444" stroke-width="0.9" />
<line x1="99.8" y1="295.0" x2="99.8" y2="299.0" stroke="#444" stroke-width="0.9" />
<line x1="115.6" y1="295.0" x2="115.6" y2="299.0" stroke="#444" stroke-width="0.9" />
<line x1="145.6" y1="295.0" x2="145.6" y2="299.0" stroke="#444" stroke-width="0.9" />
<line x1="161.4" y1="295.0" x2="161.4" y2="299.0" stroke="#444" stroke-width="0.9" />
<line x1="177.1" y1="295.0" x2="177.1" y2="299.0" stroke="#444" stroke-width="0.9" />
<line x1="192.9" y1="295.0" x2="192.9" y2="299.0" stroke="#444" stroke-width="0.9" />
<path d="M66.50 187.10 L66.50 180.50 L108.40 180.50 L108.40 187.10" stroke="#3a3a3a" stroke-width="0.8" fill="none" />
<polygon points="80.15,172.10 80.83,173.77 82.62,173.90 81.24,175.06 81.68,176.80 80.15,175.85 78.62,176.80 79.06,175.06 77.68,173.90 79.47,173.77" fill="#1a1a1a"/>
<polygon points="86.05,172.10 86.73,173.77 88.52,173.90 87.14,175.06 87.58,176.80 86.05,175.85 84.52,176.80 84.96,175.06 83.58,173.90 85.37,173.77" fill="#1a1a1a"/>
<polygon points="91.95,172.10 92.63,173.77 94.42,173.90 93.04,175.06 93.48,176.80 91.95,175.85 90.42,176.80 90.86,175.06 89.48,173.90 91.27,173.77" fill="#1a1a1a"/>
<polygon points="97.85,172.10 98.53,173.77 100.32,173.90 98.94,175.06 99.38,176.80 97.85,175.85 96.32,176.80 96.76,175.06 95.38,173.90 97.17,173.77" fill="#1a1a1a"/>
<path d="M66.50 202.30 L66.50 195.50 L87.30 195.50 L87.30 202.30" stroke="#3a3a3a" stroke-width="0.8" fill="none" />
<text x="76.9" y="191.8" font-size="8.2" text-anchor="middle" fill="#231f20" >NS</text>
<path d="M97.50 247.00 L97.50 240.60 L119.40 240.60 L119.40 247.00" stroke="#3a3a3a" stroke-width="0.8" fill="none" />
<text x="108.5" y="235.8" font-size="8.2" text-anchor="middle" fill="#231f20" >NS</text>
<path d="M143.40 214.60 L143.40 208.20 L165.00 208.20 L165.00 214.60" stroke="#3a3a3a" stroke-width="0.8" fill="none" />
<polygon points="145.25,200.30 145.93,201.97 147.72,202.10 146.34,203.26 146.78,205.00 145.25,204.05 143.72,205.00 144.16,203.26 142.78,202.10 144.57,201.97" fill="#1a1a1a"/>
<polygon points="151.15,200.30 151.83,201.97 153.62,202.10 152.24,203.26 152.68,205.00 151.15,204.05 149.62,205.00 150.06,203.26 148.68,202.10 150.47,201.97" fill="#1a1a1a"/>
<polygon points="157.05,200.30 157.73,201.97 159.52,202.10 158.14,203.26 158.58,205.00 157.05,204.05 155.52,205.00 155.96,203.26 154.58,202.10 156.37,201.97" fill="#1a1a1a"/>
<polygon points="162.95,200.30 163.63,201.97 165.42,202.10 164.04,203.26 164.48,205.00 162.95,204.05 161.42,205.00 161.86,203.26 160.48,202.10 162.27,201.97" fill="#1a1a1a"/>
<path d="M175.00 214.60 L175.00 208.20 L196.50 208.20 L196.50 214.60" stroke="#3a3a3a" stroke-width="0.8" fill="none" />
<polygon points="176.95,200.30 177.63,201.97 179.42,202.10 178.04,203.26 178.48,205.00 176.95,204.05 175.42,205.00 175.86,203.26 174.48,202.10 176.27,201.97" fill="#1a1a1a"/>
<polygon points="182.85,200.30 183.53,201.97 185.32,202.10 183.94,203.26 184.38,205.00 182.85,204.05 181.32,205.00 181.76,203.26 180.38,202.10 182.17,201.97" fill="#1a1a1a"/>
<polygon points="188.75,200.30 189.43,201.97 191.22,202.10 189.84,203.26 190.28,205.00 188.75,204.05 187.22,205.00 187.66,203.26 186.28,202.10 188.07,201.97" fill="#1a1a1a"/>
<polygon points="194.65,200.30 195.33,201.97 197.12,202.10 195.74,203.26 196.18,205.00 194.65,204.05 193.12,205.00 193.56,203.26 192.18,202.10 193.97,201.97" fill="#1a1a1a"/>
<text transform="translate(76.30,308.70) rotate(-45)" font-size="10.0" text-anchor="end" fill="#231f20">C57/PAMA<tspan font-size="5.6" dy="-4.20">GPR120+/+</tspan></text>
<text transform="translate(92.20,308.70) rotate(-45)" font-size="10.0" text-anchor="end" fill="#231f20">C57/PAMA<tspan font-size="5.6" dy="-4.20">GPR120–/–</tspan></text>
<text transform="translate(108.10,308.70) rotate(-45)" font-size="10.0" text-anchor="end" fill="#231f20">PS1/PAMA<tspan font-size="5.6" dy="-4.20">GPR120+/+</tspan></text>
<text transform="translate(123.90,308.70) rotate(-45)" font-size="10.0" text-anchor="end" fill="#231f20">PS1/PAMA<tspan font-size="5.6" dy="-4.20">GPR120–/–</tspan></text>
<text transform="translate(153.90,308.70) rotate(-45)" font-size="10.0" text-anchor="end" fill="#231f20">PS1/PAMA<tspan font-size="5.6" dy="-4.20">GPR120+/+</tspan></text>
<text transform="translate(169.70,308.70) rotate(-45)" font-size="10.0" text-anchor="end" fill="#231f20">PS1/PAMA<tspan font-size="5.6" dy="-4.20">GPR120–/–</tspan></text>
<text transform="translate(185.40,308.70) rotate(-45)" font-size="10.0" text-anchor="end" fill="#231f20">PS1/PAMA<tspan font-size="5.6" dy="-4.20">Gαi1+/+</tspan></text>
<text transform="translate(201.20,308.70) rotate(-45)" font-size="10.0" text-anchor="end" fill="#231f20">PS1/PAMA<tspan font-size="5.6" dy="-4.20">Gαi1–/–</tspan></text>
<line x1="12.8" y1="364.8" x2="74.5" y2="364.8" stroke="#aaa" stroke-width="1.0" />
<line x1="95.0" y1="364.8" x2="156.7" y2="364.8" stroke="#aaa" stroke-width="1.0" />
<text x="43.4" y="378.4" font-size="10.6" text-anchor="middle" fill="#231f20"  letter-spacing="0.3">Vehicle</text>
<text x="122.0" y="378.4" font-size="10.3" text-anchor="middle" fill="#231f20" >A-E</text>
<text x="219.4" y="180.6" font-size="16" font-weight="bold" fill="#000" stroke="#000" stroke-width="0.45">c</text>
<path d="M242.90 242.34 L243.69 243.83 L244.82 244.92 L246.00 244.87 L246.85 245.40 L247.72 245.81 L248.62 246.52 L249.50 247.12 L250.36 246.04 L251.20 245.19 L252.07 245.99 L253.00 245.42 L253.84 245.93 L254.76 245.15 L255.69 245.47 L256.56 245.34 L257.30 242.60 L258.54 231.51 L259.50 216.02 L260.57 196.85 L261.50 180.98 L262.60 174.56 L264.00 178.57 L264.81 181.98 L265.81 186.57 L267.00 191.62 L267.69 193.15 L268.45 195.32 L269.26 197.82 L270.10 200.18 L270.96 201.85 L271.80 203.60 L272.65 205.34 L273.51 207.51 L274.39 209.11 L275.27 210.23 L276.14 213.01 L277.00 214.61 L277.84 216.21 L278.66 216.79 L279.48 219.10 L280.30 220.59 L281.14 220.60 L282.00 221.60 L282.90 223.51 L283.83 225.17 L284.78 227.09 L285.72 227.74 L286.64 229.28 L287.50 230.10 L288.44 230.07 L289.30 230.55 L290.14 231.32 L291.02 231.70 L292.00 231.51 L292.77 231.77 L293.58 231.13 L294.41 231.42 L295.28 232.80 L296.17 233.00 L297.08 232.84 L298.00 233.57 L298.84 234.28 L299.73 234.67 L300.64 234.39 L301.56 234.43 L302.48 234.63 L303.37 235.27 L304.21 235.17 L305.00 234.95 L305.96 235.05 L306.86 234.26 L307.70 233.88 L308.50 234.91 L309.26 236.02 L310.00 236.04 L311.12 236.22 L312.21 236.48 L313.15 237.63 L313.80 239.23" stroke="#2fbd92" stroke-width="1.05" fill="none" stroke-linejoin="round"/>
<path d="M242.90 244.32 L243.69 245.27 L244.82 244.64 L246.00 244.66 L246.85 246.05 L247.72 246.70 L248.62 246.98 L249.50 246.44 L250.36 246.57 L251.20 246.46 L252.07 246.15 L253.00 245.03 L253.83 245.11 L254.74 245.34 L255.66 245.97 L256.53 246.16 L257.30 244.81 L258.34 238.20 L259.21 229.53 L260.00 221.72 L261.08 213.39 L262.00 207.66 L263.40 204.97 L264.13 205.00 L264.99 205.63 L266.00 207.42 L266.66 207.88 L267.36 208.62 L268.12 208.88 L268.99 209.09 L270.00 210.17 L270.75 210.45 L271.59 211.53 L272.49 213.20 L273.44 213.73 L274.39 213.39 L275.32 214.80 L276.20 215.66 L277.00 216.33 L277.94 217.61 L278.80 218.53 L279.59 219.61 L280.37 219.95 L281.16 221.84 L282.00 223.33 L282.90 223.30 L283.83 225.08 L284.78 226.60 L285.72 227.54 L286.64 228.64 L287.50 229.47 L288.44 230.96 L289.30 231.01 L290.14 231.70 L291.02 231.29 L292.00 232.26 L292.77 232.91 L293.58 232.60 L294.41 232.79 L295.28 233.68 L296.17 233.94 L297.08 233.83 L298.00 233.51 L298.84 233.71 L299.73 234.72 L300.64 234.49 L301.56 235.95 L302.48 235.74 L303.37 236.98 L304.21 236.68 L305.00 237.81 L305.96 238.05 L306.86 237.81 L307.70 237.73 L308.50 237.97 L309.26 238.08 L310.00 237.84 L311.12 238.11 L312.21 239.38 L313.15 241.21 L313.80 241.74" stroke="#f4784a" stroke-width="1.05" fill="none" stroke-linejoin="round"/>
<path d="M332.70 239.53 L333.28 240.11 L334.10 240.34 L335.05 241.12 L336.00 241.74 L336.77 241.18 L337.60 241.01 L338.44 242.58 L339.25 242.43 L340.00 242.31 L341.05 243.47 L341.99 242.79 L343.00 242.72 L343.91 242.32 L344.89 242.66 L345.86 241.20 L346.70 239.03 L347.96 226.87 L349.00 210.38 L350.09 194.17 L351.00 180.62 L351.90 173.73 L352.60 174.65 L353.50 177.28 L354.21 180.21 L355.02 184.04 L356.00 190.18 L356.71 193.31 L357.51 197.29 L358.35 201.44 L359.20 204.85 L360.00 208.17 L360.93 210.39 L361.83 213.21 L362.74 214.85 L363.70 217.42 L364.49 218.97 L365.30 218.76 L366.13 219.15 L367.02 219.99 L368.00 222.40 L368.77 223.02 L369.60 224.22 L370.48 224.78 L371.37 225.96 L372.27 226.85 L373.15 227.70 L374.00 228.96 L374.95 230.10 L375.87 231.68 L376.78 232.47 L377.69 233.69 L378.59 234.51 L379.50 235.49 L380.42 235.69 L381.35 235.14 L382.28 236.36 L383.20 237.36 L384.11 237.94 L385.00 237.77 L385.86 238.06 L386.70 237.37 L387.53 238.19 L388.35 238.18 L389.17 237.70 L390.00 237.12 L390.83 238.32 L391.65 239.20 L392.47 238.06 L393.30 238.80 L394.14 238.50 L395.00 237.89 L395.95 237.86 L397.00 238.68 L398.06 239.28 L399.06 238.07 L399.90 238.49 L400.50 237.67" stroke="#2fbd92" stroke-width="1.05" fill="none" stroke-linejoin="round"/>
<path d="M332.70 240.02 L333.28 239.83 L334.10 240.52 L335.05 240.67 L336.00 240.74 L336.77 241.46 L337.60 242.88 L338.44 243.48 L339.25 243.77 L340.00 242.92 L341.05 242.89 L341.99 242.13 L343.00 241.22 L343.89 240.73 L344.83 240.72 L345.79 241.45 L346.70 240.21 L347.56 236.96 L348.39 232.34 L349.21 226.29 L350.00 221.63 L351.05 217.30 L352.06 213.57 L353.00 210.86 L354.17 208.80 L355.30 206.81 L356.16 207.02 L357.06 207.65 L358.00 208.19 L358.99 208.59 L360.01 210.19 L361.00 211.12 L361.86 213.90 L362.69 216.05 L363.70 217.50 L364.43 218.02 L365.22 219.99 L366.08 220.99 L367.01 222.68 L368.00 224.09 L368.77 224.47 L369.60 224.97 L370.48 226.04 L371.37 226.75 L372.27 227.09 L373.15 227.96 L374.00 229.73 L374.95 229.80 L375.87 230.35 L376.78 232.14 L377.69 232.85 L378.59 234.04 L379.50 234.84 L380.42 235.24 L381.35 236.82 L382.28 236.34 L383.20 236.64 L384.11 236.54 L385.00 237.41 L385.86 237.30 L386.70 237.44 L387.53 238.27 L388.35 237.96 L389.17 238.32 L390.00 239.23 L390.83 238.37 L391.65 238.01 L392.47 238.27 L393.30 239.50 L394.14 239.97 L395.00 239.63 L395.95 239.74 L397.00 239.64 L398.06 240.21 L399.06 239.83 L399.90 240.89 L400.50 241.82" stroke="#f4784a" stroke-width="1.05" fill="none" stroke-linejoin="round"/>
<text x="271.3" y="181.3" font-size="9.0" text-anchor="middle" fill="#231f20" >1</text>
<text x="269.2" y="222.9" font-size="9.0" text-anchor="middle" fill="#231f20" >0</text>
<text x="358.0" y="178.3" font-size="9.0" text-anchor="middle" fill="#231f20" >1</text>
<text x="356.4" y="224.0" font-size="9.0" text-anchor="middle" fill="#231f20" >0</text>
<line x1="410.2" y1="170.8" x2="410.2" y2="199.7" stroke="#999" stroke-width="1.0" />
<line x1="378.2" y1="199.2" x2="410.2" y2="199.2" stroke="#555" stroke-width="1.0" />
<text x="392.7" y="210.2" font-size="8.7" text-anchor="middle" fill="#231f20"  letter-spacing="0.1">15 ms</text>
<text transform="translate(423.80,185.00) rotate(-90)" font-size="9.0" text-anchor="middle" fill="#231f20" letter-spacing="0.2">3 mV</text>
<line x1="299.0" y1="268.0" x2="319.4" y2="268.0" stroke="#a0a0f4" stroke-width="0.8" />
<circle cx="309.2" cy="268.0" r="2.20" fill="#7878ee" />
<text x="325.0" y="271.4" font-size="9.3" fill="#231f20" >C57/PAMA<tspan font-size="5.40" dy="-3.60">GPR120+/+</tspan></text>
<line x1="299.0" y1="285.2" x2="319.4" y2="285.2" stroke="#f59a70" stroke-width="0.8" />
<circle cx="309.2" cy="285.2" r="1.50" fill="#f2783f" />
<text x="325.0" y="288.6" font-size="9.3" fill="#231f20" >C57/PAMA<tspan font-size="5.40" dy="-3.60">GPR120–/–</tspan></text>
<line x1="280.9" y1="295.8" x2="280.9" y2="363.9" stroke="#999" stroke-width="1.0" />
<line x1="280.4" y1="363.9" x2="425.1" y2="363.9" stroke="#999" stroke-width="1.0" />
<line x1="274.9" y1="349.6" x2="280.9" y2="349.6" stroke="#999" stroke-width="1.0" />
<text x="271.1" y="353.5" font-size="9.0" text-anchor="end" fill="#231f20"  letter-spacing="0.5">100</text>
<line x1="274.9" y1="322.7" x2="280.9" y2="322.7" stroke="#999" stroke-width="1.0" />
<text x="271.1" y="326.6" font-size="9.0" text-anchor="end" fill="#231f20"  letter-spacing="0.5">200</text>
<line x1="274.9" y1="295.8" x2="280.9" y2="295.8" stroke="#999" stroke-width="1.0" />
<text x="271.1" y="299.7" font-size="9.0" text-anchor="end" fill="#231f20"  letter-spacing="0.5">300</text>
<line x1="280.9" y1="363.9" x2="280.9" y2="368.7" stroke="#999" stroke-width="1.0" />
<text x="281.1" y="380.3" font-size="9.0" text-anchor="middle" fill="#231f20"  letter-spacing="0.5">0</text>
<line x1="309.6" y1="363.9" x2="309.6" y2="368.7" stroke="#999" stroke-width="1.0" />
<text x="309.9" y="380.3" font-size="9.0" text-anchor="middle" fill="#231f20"  letter-spacing="0.5">10</text>
<line x1="338.4" y1="363.9" x2="338.4" y2="368.7" stroke="#999" stroke-width="1.0" />
<text x="338.6" y="380.3" font-size="9.0" text-anchor="middle" fill="#231f20"  letter-spacing="0.5">20</text>
<line x1="367.1" y1="363.9" x2="367.1" y2="368.7" stroke="#999" stroke-width="1.0" />
<text x="367.4" y="380.3" font-size="9.0" text-anchor="middle" fill="#231f20"  letter-spacing="0.5">30</text>
<line x1="395.9" y1="363.9" x2="395.9" y2="368.7" stroke="#999" stroke-width="1.0" />
<text x="396.1" y="380.3" font-size="9.0" text-anchor="middle" fill="#231f20"  letter-spacing="0.5">40</text>
<line x1="424.6" y1="363.9" x2="424.6" y2="368.7" stroke="#999" stroke-width="1.0" />
<text x="424.9" y="380.3" font-size="9.0" text-anchor="middle" fill="#231f20"  letter-spacing="0.5">50</text>
<text x="352.9" y="395.9" font-size="10.4" text-anchor="middle" fill="#231f20"  letter-spacing="0.35">Time (min)</text>
<text transform="translate(243.40,329.85) rotate(-90)" font-size="10.4" text-anchor="middle" fill="#231f20" letter-spacing="0.15">Amplitude (%)</text>
<path d="M282.3 347.1V352.4M280.0 347.1h4.6M280.0 352.4h4.6M283.8 346.7V352.1M281.5 346.7h4.6M281.5 352.1h4.6M285.2 345.5V350.9M282.9 345.5h4.6M282.9 350.9h4.6M286.6 347.0V352.4M284.3 347.0h4.6M284.3 352.4h4.6M288.1 346.9V352.3M285.8 346.9h4.6M285.8 352.3h4.6M289.5 346.6V352.0M287.2 346.6h4.6M287.2 352.0h4.6M291.0 347.9V353.3M288.7 347.9h4.6M288.7 353.3h4.6M292.4 346.9V352.3M290.1 346.9h4.6M290.1 352.3h4.6M293.8 346.5V351.9M291.5 346.5h4.6M291.5 351.9h4.6M295.3 346.0V351.3M293.0 346.0h4.6M293.0 351.3h4.6M296.7 348.2V353.6M294.4 348.2h4.6M294.4 353.6h4.6M298.1 347.5V352.9M295.8 347.5h4.6M295.8 352.9h4.6M299.6 348.2V353.6M297.3 348.2h4.6M297.3 353.6h4.6M301.0 345.9V351.3M298.7 345.9h4.6M298.7 351.3h4.6M302.5 346.3V351.7M300.2 346.3h4.6M300.2 351.7h4.6M303.9 348.4V353.8M301.6 348.4h4.6M301.6 353.8h4.6M305.3 345.4V350.7M303.0 345.4h4.6M303.0 350.7h4.6M306.8 345.4V350.8M304.5 345.4h4.6M304.5 350.8h4.6M308.2 346.4V351.8M305.9 346.4h4.6M305.9 351.8h4.6M309.6 346.5V351.9M307.3 346.5h4.6M307.3 351.9h4.6M315.4 297.8V312.9M313.1 297.8h4.6M313.1 312.9h4.6M318.3 301.4V316.5M316.0 301.4h4.6M316.0 316.5h4.6M321.1 309.2V318.9M318.8 309.2h4.6M318.8 318.9h4.6M324.0 315.8V325.5M321.7 315.8h4.6M321.7 325.5h4.6M326.9 319.8V329.5M324.6 319.8h4.6M324.6 329.5h4.6M329.8 322.3V332.0M327.5 322.3h4.6M327.5 332.0h4.6M332.6 324.5V334.2M330.3 324.5h4.6M330.3 334.2h4.6M335.5 324.1V333.8M333.2 324.1h4.6M333.2 333.8h4.6M338.4 324.7V334.4M336.1 324.7h4.6M336.1 334.4h4.6M341.3 323.7V333.3M339.0 323.7h4.6M339.0 333.3h4.6M344.1 324.5V334.2M341.8 324.5h4.6M341.8 334.2h4.6M347.0 324.2V333.9M344.7 324.2h4.6M344.7 333.9h4.6M349.9 324.6V334.3M347.6 324.6h4.6M347.6 334.3h4.6M352.8 324.1V333.8M350.4 324.1h4.6M350.4 333.8h4.6M355.6 324.7V334.4M353.3 324.7h4.6M353.3 334.4h4.6M358.5 325.2V334.9M356.2 325.2h4.6M356.2 334.9h4.6M361.4 323.2V332.9M359.1 323.2h4.6M359.1 332.9h4.6M364.2 323.2V332.9M361.9 323.2h4.6M361.9 332.9h4.6M367.1 323.7V333.4M364.8 323.7h4.6M364.8 333.4h4.6M370.0 324.0V333.7M367.7 324.0h4.6M367.7 333.7h4.6M372.9 325.1V334.8M370.6 325.1h4.6M370.6 334.8h4.6M375.7 325.3V335.0M373.4 325.3h4.6M373.4 335.0h4.6M378.6 325.2V334.8M376.3 325.2h4.6M376.3 334.8h4.6M381.5 325.7V335.4M379.2 325.7h4.6M379.2 335.4h4.6M384.4 323.9V333.6M382.1 323.9h4.6M382.1 333.6h4.6M387.2 324.9V334.5M384.9 324.9h4.6M384.9 334.5h4.6M390.1 323.7V333.3M387.8 323.7h4.6M387.8 333.3h4.6M393.0 324.9V334.6M390.7 324.9h4.6M390.7 334.6h4.6M395.9 323.4V333.0M393.6 323.4h4.6M393.6 333.0h4.6M398.7 323.6V333.3M396.4 323.6h4.6M396.4 333.3h4.6M401.6 325.9V335.6M399.3 325.9h4.6M399.3 335.6h4.6M404.5 325.4V335.0M402.2 325.4h4.6M402.2 335.0h4.6M407.4 323.5V333.2M405.1 323.5h4.6M405.1 333.2h4.6M410.2 324.7V334.3M407.9 324.7h4.6M407.9 334.3h4.6M413.1 323.3V333.0M410.8 323.3h4.6M410.8 333.0h4.6M416.0 324.9V334.5M413.7 324.9h4.6M413.7 334.5h4.6M418.9 325.7V335.4M416.6 325.7h4.6M416.6 335.4h4.6M421.7 324.2V333.9M419.4 324.2h4.6M419.4 333.9h4.6M424.6 323.8V333.5M422.3 323.8h4.6M422.3 333.5h4.6" stroke="#a0a0f4" stroke-width="0.7" fill="none"/>
<path d="M282.3 349.8L283.8 349.4L285.2 348.2L286.6 349.7L288.1 349.6L289.5 349.3L291.0 350.6L292.4 349.6L293.8 349.2L295.3 348.7L296.7 350.9L298.1 350.2L299.6 350.9L301.0 348.6L302.5 349.0L303.9 351.1L305.3 348.0L306.8 348.1L308.2 349.1L309.6 349.2M315.4 305.3L318.3 308.9L321.1 314.0L324.0 320.7L326.9 324.6L329.8 327.2L332.6 329.3L335.5 329.0L338.4 329.6L341.3 328.5L344.1 329.4L347.0 329.0L349.9 329.4L352.8 329.0L355.6 329.5L358.5 330.0L361.4 328.1L364.2 328.1L367.1 328.5L370.0 328.9L372.9 329.9L375.7 330.2L378.6 330.0L381.5 330.6L384.4 328.7L387.2 329.7L390.1 328.5L393.0 329.7L395.9 328.2L398.7 328.5L401.6 330.8L404.5 330.2L407.4 328.3L410.2 329.5L413.1 328.1L416.0 329.7L418.9 330.6L421.7 329.1L424.6 328.7" stroke="#7878ee" stroke-width="0.6" fill="none" opacity="0.8"/>
<path d="M282.3 347.0V352.4M280.0 347.0h4.6M280.0 352.4h4.6M283.8 346.4V351.8M281.5 346.4h4.6M281.5 351.8h4.6M285.2 346.4V351.8M282.9 346.4h4.6M282.9 351.8h4.6M286.6 348.1V353.4M284.3 348.1h4.6M284.3 353.4h4.6M288.1 348.5V353.9M285.8 348.5h4.6M285.8 353.9h4.6M289.5 347.3V352.7M287.2 347.3h4.6M287.2 352.7h4.6M291.0 347.6V353.0M288.7 347.6h4.6M288.7 353.0h4.6M292.4 345.9V351.3M290.1 345.9h4.6M290.1 351.3h4.6M293.8 346.3V351.7M291.5 346.3h4.6M291.5 351.7h4.6M295.3 346.6V352.0M293.0 346.6h4.6M293.0 352.0h4.6M296.7 346.7V352.1M294.4 346.7h4.6M294.4 352.1h4.6M298.1 346.4V351.8M295.8 346.4h4.6M295.8 351.8h4.6M299.6 348.1V353.4M297.3 348.1h4.6M297.3 353.4h4.6M301.0 347.1V352.5M298.7 347.1h4.6M298.7 352.5h4.6M302.5 348.0V353.4M300.2 348.0h4.6M300.2 353.4h4.6M303.9 345.6V351.0M301.6 345.6h4.6M301.6 351.0h4.6M305.3 348.3V353.7M303.0 348.3h4.6M303.0 353.7h4.6M306.8 345.9V351.3M304.5 345.9h4.6M304.5 351.3h4.6M308.2 348.3V353.7M305.9 348.3h4.6M305.9 353.7h4.6M309.6 346.3V351.7M307.3 346.3h4.6M307.3 351.7h4.6M315.4 297.6V313.7M313.1 297.6h4.6M313.1 313.7h4.6M318.3 300.6V316.8M316.0 300.6h4.6M316.0 316.8h4.6M321.1 308.3V319.1M318.8 308.3h4.6M318.8 319.1h4.6M324.0 315.9V326.7M321.7 315.9h4.6M321.7 326.7h4.6M326.9 319.8V330.6M324.6 319.8h4.6M324.6 330.6h4.6M329.8 320.0V330.7M327.5 320.0h4.6M327.5 330.7h4.6M332.6 322.7V333.4M330.3 322.7h4.6M330.3 333.4h4.6M335.5 324.5V335.2M333.2 324.5h4.6M333.2 335.2h4.6M338.4 322.7V333.5M336.1 322.7h4.6M336.1 333.5h4.6M341.3 322.8V333.6M339.0 322.8h4.6M339.0 333.6h4.6M344.1 325.1V335.8M341.8 325.1h4.6M341.8 335.8h4.6M347.0 324.3V335.0M344.7 324.3h4.6M344.7 335.0h4.6M349.9 325.0V335.8M347.6 325.0h4.6M347.6 335.8h4.6M352.8 324.5V335.3M350.4 324.5h4.6M350.4 335.3h4.6M355.6 323.7V334.5M353.3 323.7h4.6M353.3 334.5h4.6M358.5 325.0V335.7M356.2 325.0h4.6M356.2 335.7h4.6M361.4 323.5V334.3M359.1 323.5h4.6M359.1 334.3h4.6M364.2 325.3V336.0M361.9 325.3h4.6M361.9 336.0h4.6M367.1 324.9V335.7M364.8 324.9h4.6M364.8 335.7h4.6M370.0 323.2V334.0M367.7 323.2h4.6M367.7 334.0h4.6M372.9 324.3V335.1M370.6 324.3h4.6M370.6 335.1h4.6M375.7 324.3V335.0M373.4 324.3h4.6M373.4 335.0h4.6M378.6 323.8V334.5M376.3 323.8h4.6M376.3 334.5h4.6M381.5 324.1V334.9M379.2 324.1h4.6M379.2 334.9h4.6M384.4 324.4V335.1M382.1 324.4h4.6M382.1 335.1h4.6M387.2 325.3V336.1M384.9 325.3h4.6M384.9 336.1h4.6M390.1 323.4V334.2M387.8 323.4h4.6M387.8 334.2h4.6M393.0 322.8V333.5M390.7 322.8h4.6M390.7 333.5h4.6M395.9 322.8V333.5M393.6 322.8h4.6M393.6 333.5h4.6M398.7 323.6V334.4M396.4 323.6h4.6M396.4 334.4h4.6M401.6 324.4V335.2M399.3 324.4h4.6M399.3 335.2h4.6M404.5 324.4V335.2M402.2 324.4h4.6M402.2 335.2h4.6M407.4 323.5V334.3M405.1 323.5h4.6M405.1 334.3h4.6M410.2 323.6V334.3M407.9 323.6h4.6M407.9 334.3h4.6M413.1 325.1V335.8M410.8 325.1h4.6M410.8 335.8h4.6M416.0 324.8V335.5M413.7 324.8h4.6M413.7 335.5h4.6M418.9 324.4V335.2M416.6 324.4h4.6M416.6 335.2h4.6M421.7 324.0V334.8M419.4 324.0h4.6M419.4 334.8h4.6M424.6 323.2V334.0M422.3 323.2h4.6M422.3 334.0h4.6" stroke="#f59a70" stroke-width="0.7" fill="none"/>
<path d="M282.3 349.7L283.8 349.1L285.2 349.1L286.6 350.8L288.1 351.2L289.5 350.0L291.0 350.3L292.4 348.6L293.8 349.0L295.3 349.3L296.7 349.4L298.1 349.1L299.6 350.7L301.0 349.8L302.5 350.7L303.9 348.3L305.3 351.0L306.8 348.6L308.2 351.0L309.6 349.0M315.4 305.7L318.3 308.7L321.1 313.7L324.0 321.3L326.9 325.2L329.8 325.3L332.6 328.1L335.5 329.9L338.4 328.1L341.3 328.2L344.1 330.5L347.0 329.6L349.9 330.4L352.8 329.9L355.6 329.1L358.5 330.3L361.4 328.9L364.2 330.6L367.1 330.3L370.0 328.6L372.9 329.7L375.7 329.6L378.6 329.2L381.5 329.5L384.4 329.7L387.2 330.7L390.1 328.8L393.0 328.2L395.9 328.1L398.7 329.0L401.6 329.8L404.5 329.8L407.4 328.9L410.2 329.0L413.1 330.5L416.0 330.1L418.9 329.8L421.7 329.4L424.6 328.6" stroke="#f2783f" stroke-width="0.6" fill="none" opacity="0.8"/>
<circle cx="282.3" cy="349.8" r="2.1" fill="#7878ee"/><circle cx="282.3" cy="349.7" r="1.7" fill="#f2783f"/><circle cx="283.8" cy="349.1" r="1.7" fill="#f2783f"/><circle cx="283.8" cy="349.4" r="2.1" fill="#7878ee"/><circle cx="285.2" cy="348.2" r="2.1" fill="#7878ee"/><circle cx="285.2" cy="349.1" r="1.7" fill="#f2783f"/><circle cx="286.6" cy="350.8" r="1.7" fill="#f2783f"/><circle cx="286.6" cy="349.7" r="2.1" fill="#7878ee"/><circle cx="288.1" cy="349.6" r="2.1" fill="#7878ee"/><circle cx="288.1" cy="351.2" r="1.7" fill="#f2783f"/><circle cx="289.5" cy="350.0" r="1.7" fill="#f2783f"/><circle cx="289.5" cy="349.3" r="2.1" fill="#7878ee"/><circle cx="291.0" cy="350.6" r="2.1" fill="#7878ee"/><circle cx="291.0" cy="350.3" r="1.7" fill="#f2783f"/><circle cx="292.4" cy="348.6" r="1.7" fill="#f2783f"/><circle cx="292.4" cy="349.6" r="2.1" fill="#7878ee"/><circle cx="293.8" cy="349.2" r="2.1" fill="#7878ee"/><circle cx="293.8" cy="349.0" r="1.7" fill="#f2783f"/><circle cx="295.3" cy="349.3" r="1.7" fill="#f2783f"/><circle cx="295.3" cy="348.7" r="2.1" fill="#7878ee"/><circle cx="296.7" cy="350.9" r="2.1" fill="#7878ee"/><circle cx="296.7" cy="349.4" r="1.7" fill="#f2783f"/><circle cx="298.1" cy="349.1" r="1.7" fill="#f2783f"/><circle cx="298.1" cy="350.2" r="2.1" fill="#7878ee"/><circle cx="299.6" cy="350.9" r="2.1" fill="#7878ee"/><circle cx="299.6" cy="350.7" r="1.7" fill="#f2783f"/><circle cx="301.0" cy="349.8" r="1.7" fill="#f2783f"/><circle cx="301.0" cy="348.6" r="2.1" fill="#7878ee"/><circle cx="302.5" cy="349.0" r="2.1" fill="#7878ee"/><circle cx="302.5" cy="350.7" r="1.7" fill="#f2783f"/><circle cx="303.9" cy="348.3" r="1.7" fill="#f2783f"/><circle cx="303.9" cy="351.1" r="2.1" fill="#7878ee"/><circle cx="305.3" cy="348.0" r="2.1" fill="#7878ee"/><circle cx="305.3" cy="351.0" r="1.7" fill="#f2783f"/><circle cx="306.8" cy="348.6" r="1.7" fill="#f2783f"/><circle cx="306.8" cy="348.1" r="2.1" fill="#7878ee"/><circle cx="308.2" cy="349.1" r="2.1" fill="#7878ee"/><circle cx="308.2" cy="351.0" r="1.7" fill="#f2783f"/><circle cx="309.6" cy="349.0" r="1.7" fill="#f2783f"/><circle cx="309.6" cy="349.2" r="2.1" fill="#7878ee"/>
<g fill="#7878ee"><circle cx="315.4" cy="305.3" r="2.2"/><circle cx="318.3" cy="308.9" r="2.2"/><circle cx="321.1" cy="314.0" r="2.2"/><circle cx="324.0" cy="320.7" r="2.2"/><circle cx="326.9" cy="324.6" r="2.2"/><circle cx="329.8" cy="327.2" r="2.2"/><circle cx="332.6" cy="329.3" r="2.2"/><circle cx="335.5" cy="329.0" r="2.2"/><circle cx="338.4" cy="329.6" r="2.2"/><circle cx="341.3" cy="328.5" r="2.2"/><circle cx="344.1" cy="329.4" r="2.2"/><circle cx="347.0" cy="329.0" r="2.2"/><circle cx="349.9" cy="329.4" r="2.2"/><circle cx="352.8" cy="329.0" r="2.2"/><circle cx="355.6" cy="329.5" r="2.2"/><circle cx="358.5" cy="330.0" r="2.2"/><circle cx="361.4" cy="328.1" r="2.2"/><circle cx="364.2" cy="328.1" r="2.2"/><circle cx="367.1" cy="328.5" r="2.2"/><circle cx="370.0" cy="328.9" r="2.2"/><circle cx="372.9" cy="329.9" r="2.2"/><circle cx="375.7" cy="330.2" r="2.2"/><circle cx="378.6" cy="330.0" r="2.2"/><circle cx="381.5" cy="330.6" r="2.2"/><circle cx="384.4" cy="328.7" r="2.2"/><circle cx="387.2" cy="329.7" r="2.2"/><circle cx="390.1" cy="328.5" r="2.2"/><circle cx="393.0" cy="329.7" r="2.2"/><circle cx="395.9" cy="328.2" r="2.2"/><circle cx="398.7" cy="328.5" r="2.2"/><circle cx="401.6" cy="330.8" r="2.2"/><circle cx="404.5" cy="330.2" r="2.2"/><circle cx="407.4" cy="328.3" r="2.2"/><circle cx="410.2" cy="329.5" r="2.2"/><circle cx="413.1" cy="328.1" r="2.2"/><circle cx="416.0" cy="329.7" r="2.2"/><circle cx="418.9" cy="330.6" r="2.2"/><circle cx="421.7" cy="329.1" r="2.2"/><circle cx="424.6" cy="328.7" r="2.2"/></g>
<g fill="#f2783f"><circle cx="315.4" cy="305.7" r="1.7"/><circle cx="318.3" cy="308.7" r="1.7"/><circle cx="321.1" cy="313.7" r="1.7"/><circle cx="324.0" cy="321.3" r="1.7"/><circle cx="326.9" cy="325.2" r="1.7"/><circle cx="329.8" cy="325.3" r="1.7"/><circle cx="332.6" cy="328.1" r="1.7"/><circle cx="335.5" cy="329.9" r="1.7"/><circle cx="338.4" cy="328.1" r="1.7"/><circle cx="341.3" cy="328.2" r="1.7"/><circle cx="344.1" cy="330.5" r="1.7"/><circle cx="347.0" cy="329.6" r="1.7"/><circle cx="349.9" cy="330.4" r="1.7"/><circle cx="352.8" cy="329.9" r="1.7"/><circle cx="355.6" cy="329.1" r="1.7"/><circle cx="358.5" cy="330.3" r="1.7"/><circle cx="361.4" cy="328.9" r="1.7"/><circle cx="364.2" cy="330.6" r="1.7"/><circle cx="367.1" cy="330.3" r="1.7"/><circle cx="370.0" cy="328.6" r="1.7"/><circle cx="372.9" cy="329.7" r="1.7"/><circle cx="375.7" cy="329.6" r="1.7"/><circle cx="378.6" cy="329.2" r="1.7"/><circle cx="381.5" cy="329.5" r="1.7"/><circle cx="384.4" cy="329.7" r="1.7"/><circle cx="387.2" cy="330.7" r="1.7"/><circle cx="390.1" cy="328.8" r="1.7"/><circle cx="393.0" cy="328.2" r="1.7"/><circle cx="395.9" cy="328.1" r="1.7"/><circle cx="398.7" cy="329.0" r="1.7"/><circle cx="401.6" cy="329.8" r="1.7"/><circle cx="404.5" cy="329.8" r="1.7"/><circle cx="407.4" cy="328.9" r="1.7"/><circle cx="410.2" cy="329.0" r="1.7"/><circle cx="413.1" cy="330.5" r="1.7"/><circle cx="416.0" cy="330.1" r="1.7"/><circle cx="418.9" cy="329.8" r="1.7"/><circle cx="421.7" cy="329.4" r="1.7"/><circle cx="424.6" cy="328.6" r="1.7"/></g>
<line x1="309.7" y1="322.7" x2="309.7" y2="339.4" stroke="#2d3d52" stroke-width="1.4" />
<path d="M307.20 337.40 L309.70 342.40 L312.20 337.40 L309.70 338.80 Z" stroke="#2d3d52" stroke-width="0.4" fill="#2d3d52" />
<text x="473.9" y="180.6" font-size="16" font-weight="bold" fill="#000" stroke="#000" stroke-width="0.45">d</text>
<text x="492.6" y="179.9" font-size="10.6" fill="#231f20"  letter-spacing="0.3">Vehicle</text>
<path d="M503.30 245.12 L504.00 245.55 L505.01 245.92 L506.00 246.20 L506.88 245.85 L507.75 245.69 L508.60 242.79 L509.78 238.08 L511.00 232.71 L511.96 227.96 L512.98 223.37 L514.00 217.82 L515.02 214.50 L516.04 211.43 L517.00 209.81 L517.87 208.98 L518.69 207.76 L519.50 207.66 L520.31 207.86 L521.13 209.48 L522.00 210.64 L522.93 211.10 L523.91 213.57 L525.00 214.54 L525.72 216.02 L526.48 216.40 L527.28 216.90 L528.12 219.23 L529.00 219.70 L529.78 220.26 L530.60 222.31 L531.45 223.53 L532.31 223.48 L533.17 225.06 L534.00 225.51 L534.97 226.59 L535.92 226.84 L536.86 228.81 L537.82 229.80 L538.80 231.18 L539.64 231.89 L540.49 231.37 L541.34 231.41 L542.21 231.29 L543.10 231.46 L544.00 231.73 L544.79 232.62 L545.60 234.01 L546.43 234.03 L547.26 235.63 L548.09 236.16 L548.90 236.65 L549.70 238.00 L550.61 238.23 L551.51 238.10 L552.39 238.38 L553.27 238.96 L554.14 238.16 L555.00 239.53 L555.86 238.65 L556.73 239.66 L557.58 240.47 L558.42 239.52 L559.23 240.54 L560.00 240.39 L560.93 240.82 L561.86 240.11 L562.74 239.90 L563.47 240.09 L564.00 241.62" stroke="#2fbd92" stroke-width="1.05" fill="none" stroke-linejoin="round"/>
<path d="M503.30 245.43 L503.98 245.98 L504.96 245.83 L506.00 245.27 L507.06 244.53 L508.18 245.14 L509.20 243.84 L510.39 239.04 L511.50 231.97 L512.30 228.36 L513.12 223.60 L514.00 220.46 L514.98 217.18 L516.02 213.57 L517.00 211.15 L517.87 209.94 L518.69 208.45 L519.50 208.52 L520.28 209.42 L521.06 209.59 L522.00 211.46 L522.72 212.56 L523.54 214.12 L524.40 214.70 L525.24 215.20 L526.00 217.21 L527.11 219.13 L528.11 219.98 L529.00 220.68 L530.04 223.73 L531.00 227.82 L532.04 230.43 L533.30 233.88 L534.12 234.63 L535.04 234.56 L536.02 235.58 L537.00 235.81 L537.80 237.13 L538.63 237.97 L539.46 237.84 L540.26 238.10 L541.00 238.33 L542.06 238.37 L543.00 238.28 L544.00 236.30 L544.86 235.78 L545.78 235.71 L546.68 235.08 L547.50 235.49 L548.35 235.50 L549.09 237.79 L550.00 239.20 L550.69 239.54 L551.44 241.48 L552.26 242.54 L553.11 243.40 L554.00 244.61 L554.78 244.54 L555.59 244.59 L556.44 245.71 L557.30 245.91 L558.16 244.76 L559.00 245.67 L559.89 244.94 L560.85 245.32 L561.81 246.71 L562.70 247.05 L563.46 246.77 L564.00 246.81" stroke="#f4784a" stroke-width="1.05" fill="none" stroke-linejoin="round"/>
<path d="M576.50 244.68 L577.17 243.86 L578.11 244.06 L579.00 243.17 L579.99 244.43 L581.00 245.08 L581.86 244.68 L582.80 245.05 L583.70 242.92 L584.86 237.19 L586.00 228.90 L586.82 223.45 L587.67 218.58 L588.50 215.20 L589.66 210.41 L590.90 208.41 L591.89 209.14 L592.95 211.09 L594.00 212.50 L595.01 214.44 L596.00 218.22 L597.00 219.63 L597.93 222.44 L598.85 223.54 L600.00 224.79 L600.71 225.50 L601.48 226.80 L602.31 228.95 L603.19 229.44 L604.09 230.91 L605.00 232.20 L605.80 232.63 L606.61 233.51 L607.45 233.40 L608.31 233.64 L609.18 234.30 L610.08 235.74 L611.00 236.25 L611.83 236.46 L612.68 237.21 L613.55 237.51 L614.44 237.52 L615.33 238.54 L616.23 239.01 L617.12 238.55 L618.00 239.03 L618.88 239.30 L619.75 240.15 L620.62 240.40 L621.50 239.81 L622.38 240.85 L623.25 239.89 L624.12 240.04 L625.00 240.83 L625.88 240.23 L626.76 240.65 L627.65 240.15 L628.54 241.14 L629.42 241.90 L630.29 242.02 L631.15 242.70 L632.00 242.08 L633.00 242.52 L634.06 242.60 L635.12 242.64 L636.14 242.46 L637.06 243.08 L637.83 243.59 L638.40 243.02" stroke="#2fbd92" stroke-width="1.05" fill="none" stroke-linejoin="round"/>
<path d="M576.50 244.51 L577.17 245.23 L578.11 243.81 L579.00 244.18 L579.99 244.12 L581.00 244.72 L581.86 246.19 L582.80 245.27 L583.70 244.12 L584.86 237.83 L586.00 229.91 L586.82 224.68 L587.67 218.77 L588.50 215.30 L589.66 210.40 L590.90 208.43 L591.89 208.04 L592.95 209.28 L594.00 211.31 L595.01 214.88 L596.00 217.60 L597.00 219.79 L597.93 221.94 L598.85 225.20 L600.00 226.16 L600.71 227.71 L601.48 228.60 L602.31 230.11 L603.19 230.81 L604.09 232.28 L605.00 233.12 L605.80 234.10 L606.61 235.42 L607.45 235.84 L608.31 235.59 L609.18 235.62 L610.08 237.49 L611.00 237.84 L611.83 237.63 L612.68 239.03 L613.55 239.20 L614.44 239.67 L615.33 240.30 L616.23 239.65 L617.12 239.57 L618.00 240.58 L618.88 239.86 L619.75 240.72 L620.62 240.04 L621.50 240.85 L622.38 241.36 L623.25 242.15 L624.12 242.44 L625.00 242.07 L625.88 241.43 L626.76 241.12 L627.65 241.74 L628.54 242.12 L629.42 241.61 L630.29 242.94 L631.15 242.99 L632.00 243.44 L633.00 242.93 L634.06 242.82 L635.12 242.46 L636.14 242.97 L637.06 243.17 L637.83 243.62 L638.40 243.80" stroke="#f4784a" stroke-width="1.05" fill="none" stroke-linejoin="round"/>
<text x="531.1" y="217.5" font-size="9.0" text-anchor="middle" fill="#231f20" >1</text>
<text x="527.4" y="238.2" font-size="9.0" text-anchor="middle" fill="#231f20" >0</text>
<text x="598.6" y="214.0" font-size="9.0" text-anchor="middle" fill="#231f20" >1</text>
<text x="600.8" y="241.0" font-size="9.0" text-anchor="middle" fill="#231f20" >0</text>
<line x1="654.8" y1="171.0" x2="654.8" y2="200.0" stroke="#999" stroke-width="1.0" />
<line x1="622.6" y1="199.5" x2="654.8" y2="199.5" stroke="#555" stroke-width="1.0" />
<text x="637.3" y="210.4" font-size="8.7" text-anchor="middle" fill="#231f20"  letter-spacing="0.1">15 ms</text>
<text transform="translate(668.00,184.50) rotate(-90)" font-size="9.0" text-anchor="middle" fill="#231f20" letter-spacing="0.2">3 mV</text>
<line x1="534.0" y1="271.5" x2="554.6" y2="271.5" stroke="#a0a0f4" stroke-width="0.8" />
<circle cx="544.3" cy="271.5" r="2.20" fill="#7878ee" />
<text x="560.5" y="274.9" font-size="9.3" fill="#231f20" >PS1/PAMA<tspan font-size="5.40" dy="-3.60">GPR120+/+</tspan></text>
<line x1="534.0" y1="287.6" x2="554.6" y2="287.6" stroke="#f59a70" stroke-width="0.8" />
<circle cx="544.3" cy="287.6" r="1.50" fill="#f2783f" />
<text x="560.5" y="291.0" font-size="9.3" fill="#231f20" >PS1/PAMA<tspan font-size="5.40" dy="-3.60">GPR120–/–</tspan></text>
<line x1="527.3" y1="294.3" x2="527.3" y2="363.6" stroke="#555" stroke-width="1.0" />
<line x1="526.8" y1="363.6" x2="664.9" y2="363.6" stroke="#555" stroke-width="1.0" />
<line x1="521.3" y1="350.0" x2="527.3" y2="350.0" stroke="#555" stroke-width="1.0" />
<text x="517.5" y="353.9" font-size="9.0" text-anchor="end" fill="#231f20"  letter-spacing="0.5">100</text>
<line x1="521.3" y1="322.1" x2="527.3" y2="322.1" stroke="#555" stroke-width="1.0" />
<text x="517.5" y="326.0" font-size="9.0" text-anchor="end" fill="#231f20"  letter-spacing="0.5">200</text>
<line x1="521.3" y1="294.3" x2="527.3" y2="294.3" stroke="#555" stroke-width="1.0" />
<text x="517.5" y="298.2" font-size="9.0" text-anchor="end" fill="#231f20"  letter-spacing="0.5">300</text>
<line x1="527.3" y1="363.6" x2="527.3" y2="368.4" stroke="#555" stroke-width="1.0" />
<text x="527.5" y="380.0" font-size="9.0" text-anchor="middle" fill="#231f20"  letter-spacing="0.5">0</text>
<line x1="554.7" y1="363.6" x2="554.7" y2="368.4" stroke="#555" stroke-width="1.0" />
<text x="555.0" y="380.0" font-size="9.0" text-anchor="middle" fill="#231f20"  letter-spacing="0.5">10</text>
<line x1="582.1" y1="363.6" x2="582.1" y2="368.4" stroke="#555" stroke-width="1.0" />
<text x="582.4" y="380.0" font-size="9.0" text-anchor="middle" fill="#231f20"  letter-spacing="0.5">20</text>
<line x1="609.6" y1="363.6" x2="609.6" y2="368.4" stroke="#555" stroke-width="1.0" />
<text x="609.8" y="380.0" font-size="9.0" text-anchor="middle" fill="#231f20"  letter-spacing="0.5">30</text>
<line x1="637.0" y1="363.6" x2="637.0" y2="368.4" stroke="#555" stroke-width="1.0" />
<text x="637.2" y="380.0" font-size="9.0" text-anchor="middle" fill="#231f20"  letter-spacing="0.5">40</text>
<line x1="664.4" y1="363.6" x2="664.4" y2="368.4" stroke="#555" stroke-width="1.0" />
<text x="664.6" y="380.0" font-size="9.0" text-anchor="middle" fill="#231f20"  letter-spacing="0.5">50</text>
<text x="596.0" y="396.7" font-size="10.4" text-anchor="middle" fill="#231f20"  letter-spacing="0.35">Time (min)</text>
<text transform="translate(490.20,328.95) rotate(-90)" font-size="10.4" text-anchor="middle" fill="#231f20" letter-spacing="0.15">Amplitude (%)</text>
<path d="M528.7 348.3V353.9M526.4 348.3h4.6M526.4 353.9h4.6M530.0 346.6V352.2M527.7 346.6h4.6M527.7 352.2h4.6M531.4 346.8V352.3M529.1 346.8h4.6M529.1 352.3h4.6M532.8 347.3V352.9M530.5 347.3h4.6M530.5 352.9h4.6M534.2 348.2V353.7M531.9 348.2h4.6M531.9 353.7h4.6M535.5 346.2V351.8M533.2 346.2h4.6M533.2 351.8h4.6M536.9 346.2V351.8M534.6 346.2h4.6M534.6 351.8h4.6M538.3 347.2V352.7M536.0 347.2h4.6M536.0 352.7h4.6M539.6 347.2V352.8M537.3 347.2h4.6M537.3 352.8h4.6M541.0 348.1V353.7M538.7 348.1h4.6M538.7 353.7h4.6M542.4 348.9V354.4M540.1 348.9h4.6M540.1 354.4h4.6M543.8 347.6V353.2M541.5 347.6h4.6M541.5 353.2h4.6M545.1 346.9V352.5M542.8 346.9h4.6M542.8 352.5h4.6M546.5 348.7V354.2M544.2 348.7h4.6M544.2 354.2h4.6M547.9 346.2V351.8M545.6 346.2h4.6M545.6 351.8h4.6M549.2 348.1V353.7M546.9 348.1h4.6M546.9 353.7h4.6M550.6 348.1V353.7M548.3 348.1h4.6M548.3 353.7h4.6M552.0 348.7V354.3M549.7 348.7h4.6M549.7 354.3h4.6M553.3 345.6V351.1M551.0 345.6h4.6M551.0 351.1h4.6M554.7 346.4V352.0M552.4 346.4h4.6M552.4 352.0h4.6M560.2 317.2V326.1M557.9 317.2h4.6M557.9 326.1h4.6M562.9 328.5V337.4M560.6 328.5h4.6M560.6 337.4h4.6M565.7 337.4V342.9M563.4 337.4h4.6M563.4 342.9h4.6M568.4 340.2V345.7M566.1 340.2h4.6M566.1 345.7h4.6M571.2 342.5V348.1M568.9 342.5h4.6M568.9 348.1h4.6M573.9 345.5V351.1M571.6 345.5h4.6M571.6 351.1h4.6M576.7 344.3V349.9M574.4 344.3h4.6M574.4 349.9h4.6M579.4 346.3V351.9M577.1 346.3h4.6M577.1 351.9h4.6M582.1 347.3V352.9M579.8 347.3h4.6M579.8 352.9h4.6M584.9 345.5V351.1M582.6 345.5h4.6M582.6 351.1h4.6M587.6 347.4V353.0M585.3 347.4h4.6M585.3 353.0h4.6M590.4 345.2V350.8M588.1 345.2h4.6M588.1 350.8h4.6M593.1 346.5V352.1M590.8 346.5h4.6M590.8 352.1h4.6M595.8 346.2V351.8M593.5 346.2h4.6M593.5 351.8h4.6M598.6 346.8V352.4M596.3 346.8h4.6M596.3 352.4h4.6M601.3 346.4V352.0M599.0 346.4h4.6M599.0 352.0h4.6M604.1 347.3V352.8M601.8 347.3h4.6M601.8 352.8h4.6M606.8 347.7V353.2M604.5 347.7h4.6M604.5 353.2h4.6M609.6 345.4V350.9M607.3 345.4h4.6M607.3 350.9h4.6M612.3 347.1V352.7M610.0 347.1h4.6M610.0 352.7h4.6M615.0 345.6V351.2M612.7 345.6h4.6M612.7 351.2h4.6M617.8 347.2V352.8M615.5 347.2h4.6M615.5 352.8h4.6M620.5 345.1V350.6M618.2 345.1h4.6M618.2 350.6h4.6M623.3 345.3V350.9M621.0 345.3h4.6M621.0 350.9h4.6M626.0 345.7V351.2M623.7 345.7h4.6M623.7 351.2h4.6M628.8 345.6V351.2M626.5 345.6h4.6M626.5 351.2h4.6M631.5 346.2V351.7M629.2 346.2h4.6M629.2 351.7h4.6M634.2 345.7V351.3M631.9 345.7h4.6M631.9 351.3h4.6M637.0 347.4V353.0M634.7 347.4h4.6M634.7 353.0h4.6M639.7 346.4V352.0M637.4 346.4h4.6M637.4 352.0h4.6M642.5 345.5V351.0M640.2 345.5h4.6M640.2 351.0h4.6M645.2 347.2V352.8M642.9 347.2h4.6M642.9 352.8h4.6M647.9 345.2V350.8M645.6 345.2h4.6M645.6 350.8h4.6M650.7 345.3V350.9M648.4 345.3h4.6M648.4 350.9h4.6M653.4 346.6V352.2M651.1 346.6h4.6M651.1 352.2h4.6M656.2 346.8V352.3M653.9 346.8h4.6M653.9 352.3h4.6M658.9 346.5V352.1M656.6 346.5h4.6M656.6 352.1h4.6M661.7 346.7V352.3M659.4 346.7h4.6M659.4 352.3h4.6M664.4 345.0V350.6M662.1 345.0h4.6M662.1 350.6h4.6" stroke="#a0a0f4" stroke-width="0.7" fill="none"/>
<path d="M528.7 351.1L530.0 349.4L531.4 349.5L532.8 350.1L534.2 350.9L535.5 349.0L536.9 349.0L538.3 350.0L539.6 350.0L541.0 350.9L542.4 351.7L543.8 350.4L545.1 349.7L546.5 351.4L547.9 349.0L549.2 350.9L550.6 350.9L552.0 351.5L553.3 348.3L554.7 349.2M560.2 321.7L562.9 333.0L565.7 340.2L568.4 343.0L571.2 345.3L573.9 348.3L576.7 347.1L579.4 349.1L582.1 350.1L584.9 348.3L587.6 350.2L590.4 348.0L593.1 349.3L595.8 349.0L598.6 349.6L601.3 349.2L604.1 350.0L606.8 350.5L609.6 348.1L612.3 349.9L615.0 348.4L617.8 350.0L620.5 347.9L623.3 348.1L626.0 348.5L628.8 348.4L631.5 348.9L634.2 348.5L637.0 350.2L639.7 349.2L642.5 348.3L645.2 350.0L647.9 348.0L650.7 348.1L653.4 349.4L656.2 349.5L658.9 349.3L661.7 349.5L664.4 347.8" stroke="#7878ee" stroke-width="0.6" fill="none" opacity="0.8"/>
<path d="M528.7 345.1V351.8M526.4 345.1h4.6M526.4 351.8h4.6M530.0 347.9V354.5M527.7 347.9h4.6M527.7 354.5h4.6M531.4 348.3V354.9M529.1 348.3h4.6M529.1 354.9h4.6M532.8 345.0V351.7M530.5 345.0h4.6M530.5 351.7h4.6M534.2 347.7V354.4M531.9 347.7h4.6M531.9 354.4h4.6M535.5 347.9V354.6M533.2 347.9h4.6M533.2 354.6h4.6M536.9 346.2V352.8M534.6 346.2h4.6M534.6 352.8h4.6M538.3 347.2V353.9M536.0 347.2h4.6M536.0 353.9h4.6M539.6 345.4V352.0M537.3 345.4h4.6M537.3 352.0h4.6M541.0 347.6V354.2M538.7 347.6h4.6M538.7 354.2h4.6M542.4 345.1V351.8M540.1 345.1h4.6M540.1 351.8h4.6M543.8 347.3V353.9M541.5 347.3h4.6M541.5 353.9h4.6M545.1 346.3V353.0M542.8 346.3h4.6M542.8 353.0h4.6M546.5 345.2V351.9M544.2 345.2h4.6M544.2 351.9h4.6M547.9 346.0V352.7M545.6 346.0h4.6M545.6 352.7h4.6M549.2 345.2V351.9M546.9 345.2h4.6M546.9 351.9h4.6M550.6 346.0V352.6M548.3 346.0h4.6M548.3 352.6h4.6M552.0 348.2V354.9M549.7 348.2h4.6M549.7 354.9h4.6M553.3 345.4V352.1M551.0 345.4h4.6M551.0 352.1h4.6M554.7 346.4V353.0M552.4 346.4h4.6M552.4 353.0h4.6M560.2 312.4V324.6M557.9 312.4h4.6M557.9 324.6h4.6M562.9 327.5V339.7M560.6 327.5h4.6M560.6 339.7h4.6M565.7 334.5V341.2M563.4 334.5h4.6M563.4 341.2h4.6M568.4 339.2V345.9M566.1 339.2h4.6M566.1 345.9h4.6M571.2 341.0V347.7M568.9 341.0h4.6M568.9 347.7h4.6M573.9 343.1V349.8M571.6 343.1h4.6M571.6 349.8h4.6M576.7 343.7V350.4M574.4 343.7h4.6M574.4 350.4h4.6M579.4 345.2V351.9M577.1 345.2h4.6M577.1 351.9h4.6M582.1 345.3V352.0M579.8 345.3h4.6M579.8 352.0h4.6M584.9 345.5V352.2M582.6 345.5h4.6M582.6 352.2h4.6M587.6 346.5V353.2M585.3 346.5h4.6M585.3 353.2h4.6M590.4 344.6V351.2M588.1 344.6h4.6M588.1 351.2h4.6M593.1 346.3V353.0M590.8 346.3h4.6M590.8 353.0h4.6M595.8 345.0V351.7M593.5 345.0h4.6M593.5 351.7h4.6M598.6 344.6V351.2M596.3 344.6h4.6M596.3 351.2h4.6M601.3 345.4V352.1M599.0 345.4h4.6M599.0 352.1h4.6M604.1 346.8V353.5M601.8 346.8h4.6M601.8 353.5h4.6M606.8 344.9V351.6M604.5 344.9h4.6M604.5 351.6h4.6M609.6 345.4V352.0M607.3 345.4h4.6M607.3 352.0h4.6M612.3 346.7V353.4M610.0 346.7h4.6M610.0 353.4h4.6M615.0 347.1V353.8M612.7 347.1h4.6M612.7 353.8h4.6M617.8 345.7V352.4M615.5 345.7h4.6M615.5 352.4h4.6M620.5 347.1V353.8M618.2 347.1h4.6M618.2 353.8h4.6M623.3 344.6V351.3M621.0 344.6h4.6M621.0 351.3h4.6M626.0 345.8V352.5M623.7 345.8h4.6M623.7 352.5h4.6M628.8 345.8V352.5M626.5 345.8h4.6M626.5 352.5h4.6M631.5 346.1V352.8M629.2 346.1h4.6M629.2 352.8h4.6M634.2 345.4V352.1M631.9 345.4h4.6M631.9 352.1h4.6M637.0 344.7V351.3M634.7 344.7h4.6M634.7 351.3h4.6M639.7 346.4V353.0M637.4 346.4h4.6M637.4 353.0h4.6M642.5 346.2V352.9M640.2 346.2h4.6M640.2 352.9h4.6M645.2 345.6V352.3M642.9 345.6h4.6M642.9 352.3h4.6M647.9 346.4V353.1M645.6 346.4h4.6M645.6 353.1h4.6M650.7 345.6V352.2M648.4 345.6h4.6M648.4 352.2h4.6M653.4 345.7V352.4M651.1 345.7h4.6M651.1 352.4h4.6M656.2 346.0V352.7M653.9 346.0h4.6M653.9 352.7h4.6M658.9 345.3V352.0M656.6 345.3h4.6M656.6 352.0h4.6M661.7 345.7V352.4M659.4 345.7h4.6M659.4 352.4h4.6M664.4 347.0V353.7M662.1 347.0h4.6M662.1 353.7h4.6" stroke="#f59a70" stroke-width="0.7" fill="none"/>
<path d="M528.7 348.5L530.0 351.2L531.4 351.6L532.8 348.3L534.2 351.1L535.5 351.3L536.9 349.5L538.3 350.5L539.6 348.7L541.0 350.9L542.4 348.5L543.8 350.6L545.1 349.7L546.5 348.6L547.9 349.4L549.2 348.6L550.6 349.3L552.0 351.5L553.3 348.7L554.7 349.7M560.2 318.5L562.9 333.6L565.7 337.9L568.4 342.5L571.2 344.3L573.9 346.5L576.7 347.0L579.4 348.6L582.1 348.6L584.9 348.9L587.6 349.8L590.4 347.9L593.1 349.7L595.8 348.4L598.6 347.9L601.3 348.7L604.1 350.2L606.8 348.3L609.6 348.7L612.3 350.0L615.0 350.4L617.8 349.1L620.5 350.5L623.3 348.0L626.0 349.1L628.8 349.1L631.5 349.4L634.2 348.7L637.0 348.0L639.7 349.7L642.5 349.5L645.2 348.9L647.9 349.7L650.7 348.9L653.4 349.0L656.2 349.3L658.9 348.7L661.7 349.1L664.4 350.3" stroke="#f2783f" stroke-width="0.6" fill="none" opacity="0.8"/>
<circle cx="528.7" cy="351.1" r="2.1" fill="#7878ee"/><circle cx="528.7" cy="348.5" r="1.7" fill="#f2783f"/><circle cx="530.0" cy="351.2" r="1.7" fill="#f2783f"/><circle cx="530.0" cy="349.4" r="2.1" fill="#7878ee"/><circle cx="531.4" cy="349.5" r="2.1" fill="#7878ee"/><circle cx="531.4" cy="351.6" r="1.7" fill="#f2783f"/><circle cx="532.8" cy="348.3" r="1.7" fill="#f2783f"/><circle cx="532.8" cy="350.1" r="2.1" fill="#7878ee"/><circle cx="534.2" cy="350.9" r="2.1" fill="#7878ee"/><circle cx="534.2" cy="351.1" r="1.7" fill="#f2783f"/><circle cx="535.5" cy="351.3" r="1.7" fill="#f2783f"/><circle cx="535.5" cy="349.0" r="2.1" fill="#7878ee"/><circle cx="536.9" cy="349.0" r="2.1" fill="#7878ee"/><circle cx="536.9" cy="349.5" r="1.7" fill="#f2783f"/><circle cx="538.3" cy="350.5" r="1.7" fill="#f2783f"/><circle cx="538.3" cy="350.0" r="2.1" fill="#7878ee"/><circle cx="539.6" cy="350.0" r="2.1" fill="#7878ee"/><circle cx="539.6" cy="348.7" r="1.7" fill="#f2783f"/><circle cx="541.0" cy="350.9" r="1.7" fill="#f2783f"/><circle cx="541.0" cy="350.9" r="2.1" fill="#7878ee"/><circle cx="542.4" cy="351.7" r="2.1" fill="#7878ee"/><circle cx="542.4" cy="348.5" r="1.7" fill="#f2783f"/><circle cx="543.8" cy="350.6" r="1.7" fill="#f2783f"/><circle cx="543.8" cy="350.4" r="2.1" fill="#7878ee"/><circle cx="545.1" cy="349.7" r="2.1" fill="#7878ee"/><circle cx="545.1" cy="349.7" r="1.7" fill="#f2783f"/><circle cx="546.5" cy="348.6" r="1.7" fill="#f2783f"/><circle cx="546.5" cy="351.4" r="2.1" fill="#7878ee"/><circle cx="547.9" cy="349.0" r="2.1" fill="#7878ee"/><circle cx="547.9" cy="349.4" r="1.7" fill="#f2783f"/><circle cx="549.2" cy="348.6" r="1.7" fill="#f2783f"/><circle cx="549.2" cy="350.9" r="2.1" fill="#7878ee"/><circle cx="550.6" cy="350.9" r="2.1" fill="#7878ee"/><circle cx="550.6" cy="349.3" r="1.7" fill="#f2783f"/><circle cx="552.0" cy="351.5" r="1.7" fill="#f2783f"/><circle cx="552.0" cy="351.5" r="2.1" fill="#7878ee"/><circle cx="553.3" cy="348.3" r="2.1" fill="#7878ee"/><circle cx="553.3" cy="348.7" r="1.7" fill="#f2783f"/><circle cx="554.7" cy="349.7" r="1.7" fill="#f2783f"/><circle cx="554.7" cy="349.2" r="2.1" fill="#7878ee"/>
<g fill="#7878ee"><circle cx="560.2" cy="321.7" r="2.2"/><circle cx="562.9" cy="333.0" r="2.2"/><circle cx="565.7" cy="340.2" r="2.2"/><circle cx="568.4" cy="343.0" r="2.2"/><circle cx="571.2" cy="345.3" r="2.2"/><circle cx="573.9" cy="348.3" r="2.2"/><circle cx="576.7" cy="347.1" r="2.2"/><circle cx="579.4" cy="349.1" r="2.2"/><circle cx="582.1" cy="350.1" r="2.2"/><circle cx="584.9" cy="348.3" r="2.2"/><circle cx="587.6" cy="350.2" r="2.2"/><circle cx="590.4" cy="348.0" r="2.2"/><circle cx="593.1" cy="349.3" r="2.2"/><circle cx="595.8" cy="349.0" r="2.2"/><circle cx="598.6" cy="349.6" r="2.2"/><circle cx="601.3" cy="349.2" r="2.2"/><circle cx="604.1" cy="350.0" r="2.2"/><circle cx="606.8" cy="350.5" r="2.2"/><circle cx="609.6" cy="348.1" r="2.2"/><circle cx="612.3" cy="349.9" r="2.2"/><circle cx="615.0" cy="348.4" r="2.2"/><circle cx="617.8" cy="350.0" r="2.2"/><circle cx="620.5" cy="347.9" r="2.2"/><circle cx="623.3" cy="348.1" r="2.2"/><circle cx="626.0" cy="348.5" r="2.2"/><circle cx="628.8" cy="348.4" r="2.2"/><circle cx="631.5" cy="348.9" r="2.2"/><circle cx="634.2" cy="348.5" r="2.2"/><circle cx="637.0" cy="350.2" r="2.2"/><circle cx="639.7" cy="349.2" r="2.2"/><circle cx="642.5" cy="348.3" r="2.2"/><circle cx="645.2" cy="350.0" r="2.2"/><circle cx="647.9" cy="348.0" r="2.2"/><circle cx="650.7" cy="348.1" r="2.2"/><circle cx="653.4" cy="349.4" r="2.2"/><circle cx="656.2" cy="349.5" r="2.2"/><circle cx="658.9" cy="349.3" r="2.2"/><circle cx="661.7" cy="349.5" r="2.2"/><circle cx="664.4" cy="347.8" r="2.2"/></g>
<g fill="#f2783f"><circle cx="560.2" cy="318.5" r="1.7"/><circle cx="562.9" cy="333.6" r="1.7"/><circle cx="565.7" cy="337.9" r="1.7"/><circle cx="568.4" cy="342.5" r="1.7"/><circle cx="571.2" cy="344.3" r="1.7"/><circle cx="573.9" cy="346.5" r="1.7"/><circle cx="576.7" cy="347.0" r="1.7"/><circle cx="579.4" cy="348.6" r="1.7"/><circle cx="582.1" cy="348.6" r="1.7"/><circle cx="584.9" cy="348.9" r="1.7"/><circle cx="587.6" cy="349.8" r="1.7"/><circle cx="590.4" cy="347.9" r="1.7"/><circle cx="593.1" cy="349.7" r="1.7"/><circle cx="595.8" cy="348.4" r="1.7"/><circle cx="598.6" cy="347.9" r="1.7"/><circle cx="601.3" cy="348.7" r="1.7"/><circle cx="604.1" cy="350.2" r="1.7"/><circle cx="606.8" cy="348.3" r="1.7"/><circle cx="609.6" cy="348.7" r="1.7"/><circle cx="612.3" cy="350.0" r="1.7"/><circle cx="615.0" cy="350.4" r="1.7"/><circle cx="617.8" cy="349.1" r="1.7"/><circle cx="620.5" cy="350.5" r="1.7"/><circle cx="623.3" cy="348.0" r="1.7"/><circle cx="626.0" cy="349.1" r="1.7"/><circle cx="628.8" cy="349.1" r="1.7"/><circle cx="631.5" cy="349.4" r="1.7"/><circle cx="634.2" cy="348.7" r="1.7"/><circle cx="637.0" cy="348.0" r="1.7"/><circle cx="639.7" cy="349.7" r="1.7"/><circle cx="642.5" cy="349.5" r="1.7"/><circle cx="645.2" cy="348.9" r="1.7"/><circle cx="647.9" cy="349.7" r="1.7"/><circle cx="650.7" cy="348.9" r="1.7"/><circle cx="653.4" cy="349.0" r="1.7"/><circle cx="656.2" cy="349.3" r="1.7"/><circle cx="658.9" cy="348.7" r="1.7"/><circle cx="661.7" cy="349.1" r="1.7"/><circle cx="664.4" cy="350.3" r="1.7"/></g>
<line x1="554.6" y1="324.0" x2="554.6" y2="340.5" stroke="#2d3d52" stroke-width="1.4" />
<path d="M552.10 338.50 L554.60 343.50 L557.10 338.50 L554.60 339.90 Z" stroke="#2d3d52" stroke-width="0.4" fill="#2d3d52" />
<text x="4.1" y="424.4" font-size="16" font-weight="bold" fill="#000" stroke="#000" stroke-width="0.45">e</text>
<text x="27.3" y="424.2" font-size="10.0" fill="#231f20" >EDA+ALA</text>
<path d="M34.50 510.53 L35.12 510.62 L36.01 510.49 L37.04 512.00 L38.11 511.46 L39.11 512.32 L39.90 513.63 L40.95 513.52 L41.67 514.71 L42.40 515.14 L43.19 514.41 L43.98 514.04 L44.90 510.67 L45.74 503.77 L46.68 494.95 L47.65 483.91 L48.60 473.91 L49.55 463.82 L50.53 454.13 L51.46 445.92 L52.30 439.12 L53.22 435.57 L54.01 434.74 L54.80 435.41 L55.63 434.64 L56.47 435.25 L57.30 436.21 L58.13 435.55 L58.97 433.72 L59.80 432.99 L60.54 435.46 L61.29 439.39 L62.30 444.05 L62.95 447.43 L63.66 449.43 L64.44 453.10 L65.29 456.36 L66.21 457.91 L67.20 460.61 L67.92 462.59 L68.69 463.66 L69.51 465.84 L70.36 468.71 L71.23 469.62 L72.11 471.84 L72.99 472.97 L73.86 475.20 L74.70 477.70 L75.53 478.52 L76.35 479.40 L77.17 480.78 L77.99 483.07 L78.81 484.04 L79.63 485.37 L80.45 487.47 L81.27 489.94 L82.10 490.87 L82.93 491.86 L83.76 493.32 L84.60 493.57 L85.43 495.04 L86.27 495.49 L87.10 496.92 L87.94 498.67 L88.77 498.30 L89.60 499.39 L90.43 500.36 L91.26 500.33 L92.09 500.82 L92.92 502.63 L93.74 503.79 L94.57 503.02 L95.38 503.89 L96.20 504.97 L97.00 504.41 L97.89 505.01 L98.76 504.41 L99.61 504.81 L100.47 505.67 L101.33 506.04 L102.20 506.65 L103.08 505.83 L104.00 506.00 L104.88 507.11 L105.85 507.27 L106.86 507.22 L107.88 507.20 L108.88 508.34 L109.82 508.24 L110.66 507.26 L111.36 508.24 L111.90 507.91" stroke="#2fbd92" stroke-width="1.05" fill="none" stroke-linejoin="round"/>
<path d="M34.50 512.03 L35.12 512.00 L36.01 512.40 L37.04 512.09 L38.11 513.20 L39.11 513.93 L39.90 514.15 L40.95 514.12 L41.67 515.27 L42.40 515.24 L43.14 514.92 L43.88 515.27 L44.90 512.14 L45.62 506.84 L46.47 502.31 L47.39 496.19 L48.32 489.60 L49.18 483.61 L49.90 479.72 L50.96 473.96 L51.74 470.88 L52.50 468.45 L53.66 464.75 L54.80 464.47 L55.57 465.26 L56.37 466.41 L57.30 468.08 L58.11 469.85 L58.99 473.21 L59.96 477.33 L61.00 482.29 L61.74 483.67 L62.53 485.14 L63.34 487.45 L64.20 488.16 L65.08 489.55 L66.00 490.71 L66.79 491.11 L67.58 492.78 L68.38 494.61 L69.22 494.81 L70.12 495.53 L71.11 496.72 L72.20 497.12 L72.90 498.21 L73.64 499.62 L74.41 500.30 L75.23 500.68 L76.06 501.71 L76.92 501.21 L77.79 501.96 L78.66 502.24 L79.54 503.03 L80.41 502.79 L81.26 504.09 L82.10 503.76 L82.92 503.95 L83.75 505.43 L84.57 506.67 L85.40 506.59 L86.22 506.74 L87.04 506.73 L87.87 506.98 L88.69 507.92 L89.52 507.79 L90.34 507.78 L91.17 508.53 L92.00 508.51 L92.83 509.47 L93.66 510.35 L94.50 510.77 L95.33 510.50 L96.16 510.18 L97.00 510.21 L97.84 509.49 L98.67 510.45 L99.50 510.29 L100.34 510.24 L101.17 509.85 L102.00 510.40 L102.86 511.01 L103.77 511.07 L104.71 512.07 L105.67 512.32 L106.63 511.77 L107.58 512.11 L108.48 513.07 L109.34 512.93 L110.12 513.09 L110.82 512.27 L111.42 512.68 L111.90 512.87" stroke="#f4784a" stroke-width="1.05" fill="none" stroke-linejoin="round"/>
<path d="M121.80 511.81 L122.35 512.07 L123.13 512.96 L124.05 512.67 L125.00 512.68 L125.78 513.10 L126.61 512.98 L127.48 513.68 L128.38 514.02 L129.30 513.69 L130.11 511.29 L130.97 509.27 L131.84 506.53 L132.70 505.04 L133.50 502.64 L134.20 498.86 L135.31 493.64 L136.19 487.15 L137.00 480.83 L137.96 473.95 L139.20 469.40 L139.84 468.50 L140.57 469.38 L141.38 469.55 L142.25 470.59 L143.20 472.03 L144.20 473.25 L144.93 475.12 L145.74 476.91 L146.60 479.48 L147.49 481.17 L148.39 483.20 L149.27 484.89 L150.11 486.88 L150.90 488.23 L151.60 489.16 L152.65 492.22 L153.52 494.35 L154.30 495.69 L155.10 496.70 L156.00 497.16 L156.83 497.73 L157.68 498.67 L158.56 499.27 L159.48 501.31 L160.45 502.12 L161.50 503.72 L162.24 503.79 L163.00 505.07 L163.80 505.73 L164.61 504.73 L165.45 504.79 L166.31 506.26 L167.19 506.37 L168.09 507.51 L169.00 507.18 L169.76 506.53 L170.52 507.31 L171.30 508.06 L172.09 507.62 L172.89 507.16 L173.70 507.45 L174.53 508.82 L175.38 509.21 L176.23 508.33 L177.11 508.21 L178.00 507.97 L178.80 507.84 L179.67 509.17 L180.59 508.80 L181.54 509.37 L182.51 509.52 L183.48 509.21 L184.43 510.09 L185.35 509.50 L186.21 510.19 L187.01 509.63 L187.72 509.95 L188.32 509.76 L188.80 509.80" stroke="#2fbd92" stroke-width="1.05" fill="none" stroke-linejoin="round"/>
<path d="M121.80 512.15 L122.35 512.57 L123.13 512.89 L124.05 512.21 L125.00 511.71 L125.78 512.37 L126.61 512.92 L127.48 514.33 L128.38 514.60 L129.30 513.79 L130.11 512.34 L130.97 510.62 L131.84 507.51 L132.70 505.08 L133.50 501.95 L134.20 500.35 L135.31 493.16 L136.19 487.20 L137.00 480.37 L137.96 474.07 L139.20 469.92 L139.84 469.75 L140.57 470.89 L141.38 470.63 L142.25 471.40 L143.20 474.30 L144.20 476.11 L144.93 476.88 L145.74 480.02 L146.60 482.74 L147.49 483.85 L148.39 486.19 L149.27 487.99 L150.11 490.23 L150.90 492.76 L151.60 493.82 L152.65 496.61 L153.52 497.25 L154.30 498.11 L155.10 500.08 L156.00 500.86 L156.83 501.69 L157.68 502.83 L158.56 503.57 L159.48 504.13 L160.45 504.10 L161.50 505.63 L162.24 506.91 L163.00 507.74 L163.80 507.75 L164.61 507.35 L165.45 507.30 L166.31 508.00 L167.19 508.45 L168.09 507.79 L169.00 507.79 L169.76 508.08 L170.52 508.57 L171.30 509.42 L172.09 509.35 L172.89 508.53 L173.70 509.61 L174.53 509.49 L175.38 509.66 L176.23 509.26 L177.11 509.50 L178.00 509.61 L178.80 510.41 L179.67 509.67 L180.59 510.16 L181.54 509.81 L182.51 510.62 L183.48 509.91 L184.43 510.04 L185.35 510.28 L186.21 510.98 L187.01 510.32 L187.72 510.76 L188.32 510.56 L188.80 510.62" stroke="#f4784a" stroke-width="1.05" fill="none" stroke-linejoin="round"/>
<text x="69.7" y="454.3" font-size="9.0" text-anchor="middle" fill="#231f20" >1</text>
<text x="66.0" y="505.7" font-size="9.0" text-anchor="middle" fill="#231f20" >0</text>
<text x="151.1" y="480.4" font-size="9.0" text-anchor="middle" fill="#231f20" >1</text>
<text x="146.7" y="505.3" font-size="9.0" text-anchor="middle" fill="#231f20" >0</text>
<line x1="204.2" y1="415.8" x2="204.2" y2="444.2" stroke="#999" stroke-width="1.0" />
<line x1="172.3" y1="443.7" x2="204.2" y2="443.7" stroke="#555" stroke-width="1.0" />
<text x="187.1" y="455.4" font-size="8.7" text-anchor="middle" fill="#231f20"  letter-spacing="0.1">15 ms</text>
<text transform="translate(217.60,429.00) rotate(-90)" font-size="9.0" text-anchor="middle" fill="#231f20" letter-spacing="0.2">3 mV</text>
<line x1="88.0" y1="536.0" x2="109.0" y2="536.0" stroke="#a0a0f4" stroke-width="0.8" />
<circle cx="98.5" cy="536.0" r="2.20" fill="#7878ee" />
<text x="114.8" y="539.4" font-size="9.3" fill="#231f20" >PS1/PAMA<tspan font-size="5.40" dy="-3.60">GPR120+/+</tspan></text>
<line x1="88.0" y1="552.8" x2="109.0" y2="552.8" stroke="#f59a70" stroke-width="0.8" />
<circle cx="98.5" cy="552.8" r="1.50" fill="#f2783f" />
<text x="114.8" y="556.2" font-size="9.3" fill="#231f20" >PS1/PAMA<tspan font-size="5.40" dy="-3.60">GPR120–/–</tspan></text>
<line x1="71.0" y1="561.5" x2="71.0" y2="635.3" stroke="#999" stroke-width="1.0" />
<line x1="70.5" y1="635.3" x2="218.1" y2="635.3" stroke="#999" stroke-width="1.0" />
<line x1="63.0" y1="620.5" x2="71.0" y2="620.5" stroke="#999" stroke-width="1.0" />
<text x="58.6" y="624.4" font-size="9.0" text-anchor="end" fill="#231f20"  letter-spacing="0.5">100</text>
<line x1="63.0" y1="591.0" x2="71.0" y2="591.0" stroke="#999" stroke-width="1.0" />
<text x="58.6" y="594.9" font-size="9.0" text-anchor="end" fill="#231f20"  letter-spacing="0.5">200</text>
<line x1="63.0" y1="561.5" x2="71.0" y2="561.5" stroke="#999" stroke-width="1.0" />
<text x="58.6" y="565.4" font-size="9.0" text-anchor="end" fill="#231f20"  letter-spacing="0.5">300</text>
<line x1="71.0" y1="635.3" x2="71.0" y2="640.1" stroke="#999" stroke-width="1.0" />
<text x="71.2" y="651.7" font-size="9.0" text-anchor="middle" fill="#231f20"  letter-spacing="0.5">0</text>
<line x1="100.3" y1="635.3" x2="100.3" y2="640.1" stroke="#999" stroke-width="1.0" />
<text x="100.6" y="651.7" font-size="9.0" text-anchor="middle" fill="#231f20"  letter-spacing="0.5">10</text>
<line x1="129.6" y1="635.3" x2="129.6" y2="640.1" stroke="#999" stroke-width="1.0" />
<text x="129.9" y="651.7" font-size="9.0" text-anchor="middle" fill="#231f20"  letter-spacing="0.5">20</text>
<line x1="159.0" y1="635.3" x2="159.0" y2="640.1" stroke="#999" stroke-width="1.0" />
<text x="159.2" y="651.7" font-size="9.0" text-anchor="middle" fill="#231f20"  letter-spacing="0.5">30</text>
<line x1="188.3" y1="635.3" x2="188.3" y2="640.1" stroke="#999" stroke-width="1.0" />
<text x="188.5" y="651.7" font-size="9.0" text-anchor="middle" fill="#231f20"  letter-spacing="0.5">40</text>
<line x1="217.6" y1="635.3" x2="217.6" y2="640.1" stroke="#999" stroke-width="1.0" />
<text x="217.8" y="651.7" font-size="9.0" text-anchor="middle" fill="#231f20"  letter-spacing="0.5">50</text>
<text x="144.5" y="668.0" font-size="10.4" text-anchor="middle" fill="#231f20"  letter-spacing="0.35">Time (min)</text>
<text transform="translate(26.80,598.40) rotate(-90)" font-size="10.4" text-anchor="middle" fill="#231f20" letter-spacing="0.15">Amplitude (%)</text>
<path d="M72.5 619.9V624.6M70.2 619.9h4.6M70.2 624.6h4.6M73.9 619.5V624.2M71.6 619.5h4.6M71.6 624.2h4.6M75.4 618.5V623.2M73.1 618.5h4.6M73.1 623.2h4.6M76.9 617.5V622.2M74.6 617.5h4.6M74.6 622.2h4.6M78.3 619.4V624.1M76.0 619.4h4.6M76.0 624.1h4.6M79.8 619.5V624.2M77.5 619.5h4.6M77.5 624.2h4.6M81.3 619.1V623.8M79.0 619.1h4.6M79.0 623.8h4.6M82.7 617.2V621.9M80.4 617.2h4.6M80.4 621.9h4.6M84.2 619.4V624.1M81.9 619.4h4.6M81.9 624.1h4.6M85.7 617.3V622.0M83.4 617.3h4.6M83.4 622.0h4.6M87.1 617.6V622.3M84.8 617.6h4.6M84.8 622.3h4.6M88.6 619.4V624.1M86.3 619.4h4.6M86.3 624.1h4.6M90.1 618.0V622.7M87.8 618.0h4.6M87.8 622.7h4.6M91.5 618.3V623.0M89.2 618.3h4.6M89.2 623.0h4.6M93.0 618.4V623.2M90.7 618.4h4.6M90.7 623.2h4.6M94.5 616.4V621.1M92.2 616.4h4.6M92.2 621.1h4.6M95.9 619.6V624.3M93.6 619.6h4.6M93.6 624.3h4.6M97.4 619.8V624.6M95.1 619.8h4.6M95.1 624.6h4.6M98.9 616.6V621.3M96.6 616.6h4.6M96.6 621.3h4.6M100.3 618.5V623.2M98.0 618.5h4.6M98.0 623.2h4.6M106.2 569.9V581.7M103.9 569.9h4.6M103.9 581.7h4.6M109.1 577.4V589.2M106.8 577.4h4.6M106.8 589.2h4.6M112.0 584.4V592.7M109.7 584.4h4.6M109.7 592.7h4.6M115.0 586.7V595.0M112.7 586.7h4.6M112.7 595.0h4.6M117.9 593.8V602.1M115.6 593.8h4.6M115.6 602.1h4.6M120.8 596.1V604.4M118.5 596.1h4.6M118.5 604.4h4.6M123.8 596.0V604.3M121.5 596.0h4.6M121.5 604.3h4.6M126.7 596.7V605.0M124.4 596.7h4.6M124.4 605.0h4.6M129.6 595.9V604.1M127.3 595.9h4.6M127.3 604.1h4.6M132.6 596.6V604.8M130.3 596.6h4.6M130.3 604.8h4.6M135.5 598.6V606.9M133.2 598.6h4.6M133.2 606.9h4.6M138.4 599.4V607.7M136.1 599.4h4.6M136.1 607.7h4.6M141.4 597.5V605.7M139.1 597.5h4.6M139.1 605.7h4.6M144.3 596.6V604.9M142.0 596.6h4.6M142.0 604.9h4.6M147.2 599.6V607.9M144.9 599.6h4.6M144.9 607.9h4.6M150.2 596.8V605.1M147.9 596.8h4.6M147.9 605.1h4.6M153.1 596.0V604.2M150.8 596.0h4.6M150.8 604.2h4.6M156.0 596.4V604.7M153.7 596.4h4.6M153.7 604.7h4.6M159.0 597.6V605.9M156.7 597.6h4.6M156.7 605.9h4.6M161.9 595.8V604.0M159.6 595.8h4.6M159.6 604.0h4.6M164.8 596.2V604.4M162.5 596.2h4.6M162.5 604.4h4.6M167.8 598.3V606.5M165.5 598.3h4.6M165.5 606.5h4.6M170.7 596.9V605.2M168.4 596.9h4.6M168.4 605.2h4.6M173.6 598.6V606.8M171.3 598.6h4.6M171.3 606.8h4.6M176.6 599.4V607.7M174.3 599.4h4.6M174.3 607.7h4.6M179.5 598.0V606.3M177.2 598.0h4.6M177.2 606.3h4.6M182.4 597.6V605.9M180.1 597.6h4.6M180.1 605.9h4.6M185.3 597.0V605.3M183.0 597.0h4.6M183.0 605.3h4.6M188.3 595.8V604.1M186.0 595.8h4.6M186.0 604.1h4.6M191.2 595.3V603.6M188.9 595.3h4.6M188.9 603.6h4.6M194.1 595.0V603.3M191.8 595.0h4.6M191.8 603.3h4.6M197.1 595.2V603.4M194.8 595.2h4.6M194.8 603.4h4.6M200.0 595.3V603.5M197.7 595.3h4.6M197.7 603.5h4.6M202.9 596.2V604.4M200.6 596.2h4.6M200.6 604.4h4.6M205.9 598.1V606.3M203.6 598.1h4.6M203.6 606.3h4.6M208.8 598.7V607.0M206.5 598.7h4.6M206.5 607.0h4.6M211.7 597.3V605.5M209.4 597.3h4.6M209.4 605.5h4.6M214.7 597.7V606.0M212.4 597.7h4.6M212.4 606.0h4.6M217.6 597.5V605.7M215.3 597.5h4.6M215.3 605.7h4.6" stroke="#a0a0f4" stroke-width="0.7" fill="none"/>
<path d="M72.5 622.2L73.9 621.9L75.4 620.9L76.9 619.8L78.3 621.8L79.8 621.9L81.3 621.4L82.7 619.6L84.2 621.7L85.7 619.6L87.1 619.9L88.6 621.8L90.1 620.4L91.5 620.7L93.0 620.8L94.5 618.7L95.9 621.9L97.4 622.2L98.9 618.9L100.3 620.8M106.2 575.8L109.1 583.3L112.0 588.5L115.0 590.9L117.9 597.9L120.8 600.3L123.8 600.1L126.7 600.9L129.6 600.0L132.6 600.7L135.5 602.7L138.4 603.6L141.4 601.6L144.3 600.7L147.2 603.8L150.2 600.9L153.1 600.1L156.0 600.5L159.0 601.7L161.9 599.9L164.8 600.3L167.8 602.4L170.7 601.0L173.6 602.7L176.6 603.5L179.5 602.1L182.4 601.8L185.3 601.2L188.3 599.9L191.2 599.4L194.1 599.2L197.1 599.3L200.0 599.4L202.9 600.3L205.9 602.2L208.8 602.8L211.7 601.4L214.7 601.9L217.6 601.6" stroke="#7878ee" stroke-width="0.6" fill="none" opacity="0.8"/>
<path d="M72.5 619.0V624.9M70.2 619.0h4.6M70.2 624.9h4.6M73.9 618.6V624.5M71.6 618.6h4.6M71.6 624.5h4.6M75.4 618.2V624.1M73.1 618.2h4.6M73.1 624.1h4.6M76.9 616.1V622.0M74.6 616.1h4.6M74.6 622.0h4.6M78.3 617.6V623.5M76.0 617.6h4.6M76.0 623.5h4.6M79.8 616.8V622.7M77.5 616.8h4.6M77.5 622.7h4.6M81.3 619.0V624.9M79.0 619.0h4.6M79.0 624.9h4.6M82.7 617.5V623.4M80.4 617.5h4.6M80.4 623.4h4.6M84.2 616.3V622.2M81.9 616.3h4.6M81.9 622.2h4.6M85.7 617.5V623.4M83.4 617.5h4.6M83.4 623.4h4.6M87.1 616.0V621.9M84.8 616.0h4.6M84.8 621.9h4.6M88.6 616.2V622.1M86.3 616.2h4.6M86.3 622.1h4.6M90.1 618.0V623.9M87.8 618.0h4.6M87.8 623.9h4.6M91.5 619.3V625.2M89.2 619.3h4.6M89.2 625.2h4.6M93.0 616.6V622.5M90.7 616.6h4.6M90.7 622.5h4.6M94.5 618.9V624.8M92.2 618.9h4.6M92.2 624.8h4.6M95.9 619.3V625.2M93.6 619.3h4.6M93.6 625.2h4.6M97.4 616.7V622.6M95.1 616.7h4.6M95.1 622.6h4.6M98.9 616.3V622.2M96.6 616.3h4.6M96.6 622.2h4.6M100.3 616.4V622.3M98.0 616.4h4.6M98.0 622.3h4.6M106.2 572.0V582.6M103.9 572.0h4.6M103.9 582.6h4.6M109.1 580.4V591.1M106.8 580.4h4.6M106.8 591.1h4.6M112.0 590.1V598.3M109.7 590.1h4.6M109.7 598.3h4.6M115.0 606.1V614.4M112.7 606.1h4.6M112.7 614.4h4.6M117.9 607.3V615.6M115.6 607.3h4.6M115.6 615.6h4.6M120.8 613.0V621.2M118.5 613.0h4.6M118.5 621.2h4.6M123.8 614.8V623.1M121.5 614.8h4.6M121.5 623.1h4.6M126.7 616.1V624.4M124.4 616.1h4.6M124.4 624.4h4.6M129.6 616.8V625.0M127.3 616.8h4.6M127.3 625.0h4.6M132.6 616.8V625.1M130.3 616.8h4.6M130.3 625.1h4.6M135.5 615.5V623.8M133.2 615.5h4.6M133.2 623.8h4.6M138.4 616.3V624.5M136.1 616.3h4.6M136.1 624.5h4.6M141.4 615.7V623.9M139.1 615.7h4.6M139.1 623.9h4.6M144.3 613.1V621.4M142.0 613.1h4.6M142.0 621.4h4.6M147.2 616.3V624.5M144.9 616.3h4.6M144.9 624.5h4.6M150.2 613.6V621.9M147.9 613.6h4.6M147.9 621.9h4.6M153.1 613.9V622.2M150.8 613.9h4.6M150.8 622.2h4.6M156.0 614.6V622.9M153.7 614.6h4.6M153.7 622.9h4.6M159.0 614.6V622.8M156.7 614.6h4.6M156.7 622.8h4.6M161.9 613.8V622.0M159.6 613.8h4.6M159.6 622.0h4.6M164.8 614.5V622.8M162.5 614.5h4.6M162.5 622.8h4.6M167.8 616.0V624.3M165.5 616.0h4.6M165.5 624.3h4.6M170.7 615.6V623.9M168.4 615.6h4.6M168.4 623.9h4.6M173.6 616.0V624.2M171.3 616.0h4.6M171.3 624.2h4.6M176.6 615.3V623.6M174.3 615.3h4.6M174.3 623.6h4.6M179.5 612.9V621.1M177.2 612.9h4.6M177.2 621.1h4.6M182.4 615.2V623.5M180.1 615.2h4.6M180.1 623.5h4.6M185.3 616.7V624.9M183.0 616.7h4.6M183.0 624.9h4.6M188.3 615.0V623.3M186.0 615.0h4.6M186.0 623.3h4.6M191.2 613.6V621.9M188.9 613.6h4.6M188.9 621.9h4.6M194.1 615.1V623.4M191.8 615.1h4.6M191.8 623.4h4.6M197.1 614.1V622.3M194.8 614.1h4.6M194.8 622.3h4.6M200.0 616.6V624.8M197.7 616.6h4.6M197.7 624.8h4.6M202.9 616.7V625.0M200.6 616.7h4.6M200.6 625.0h4.6M205.9 614.2V622.5M203.6 614.2h4.6M203.6 622.5h4.6M208.8 616.8V625.0M206.5 616.8h4.6M206.5 625.0h4.6M211.7 615.7V624.0M209.4 615.7h4.6M209.4 624.0h4.6M214.7 615.4V623.6M212.4 615.4h4.6M212.4 623.6h4.6M217.6 616.2V624.4M215.3 616.2h4.6M215.3 624.4h4.6" stroke="#f59a70" stroke-width="0.7" fill="none"/>
<path d="M72.5 622.0L73.9 621.5L75.4 621.2L76.9 619.1L78.3 620.5L79.8 619.7L81.3 621.9L82.7 620.5L84.2 619.3L85.7 620.4L87.1 618.9L88.6 619.1L90.1 621.0L91.5 622.3L93.0 619.6L94.5 621.8L95.9 622.2L97.4 619.7L98.9 619.3L100.3 619.3M106.2 577.3L109.1 585.7L112.0 594.2L115.0 610.3L117.9 611.4L120.8 617.1L123.8 619.0L126.7 620.3L129.6 620.9L132.6 620.9L135.5 619.6L138.4 620.4L141.4 619.8L144.3 617.3L147.2 620.4L150.2 617.7L153.1 618.0L156.0 618.7L159.0 618.7L161.9 617.9L164.8 618.7L167.8 620.1L170.7 619.7L173.6 620.1L176.6 619.4L179.5 617.0L182.4 619.3L185.3 620.8L188.3 619.1L191.2 617.7L194.1 619.2L197.1 618.2L200.0 620.7L202.9 620.8L205.9 618.4L208.8 620.9L211.7 619.8L214.7 619.5L217.6 620.3" stroke="#f2783f" stroke-width="0.6" fill="none" opacity="0.8"/>
<circle cx="72.5" cy="622.2" r="2.1" fill="#7878ee"/><circle cx="72.5" cy="622.0" r="1.7" fill="#f2783f"/><circle cx="73.9" cy="621.5" r="1.7" fill="#f2783f"/><circle cx="73.9" cy="621.9" r="2.1" fill="#7878ee"/><circle cx="75.4" cy="620.9" r="2.1" fill="#7878ee"/><circle cx="75.4" cy="621.2" r="1.7" fill="#f2783f"/><circle cx="76.9" cy="619.1" r="1.7" fill="#f2783f"/><circle cx="76.9" cy="619.8" r="2.1" fill="#7878ee"/><circle cx="78.3" cy="621.8" r="2.1" fill="#7878ee"/><circle cx="78.3" cy="620.5" r="1.7" fill="#f2783f"/><circle cx="79.8" cy="619.7" r="1.7" fill="#f2783f"/><circle cx="79.8" cy="621.9" r="2.1" fill="#7878ee"/><circle cx="81.3" cy="621.4" r="2.1" fill="#7878ee"/><circle cx="81.3" cy="621.9" r="1.7" fill="#f2783f"/><circle cx="82.7" cy="620.5" r="1.7" fill="#f2783f"/><circle cx="82.7" cy="619.6" r="2.1" fill="#7878ee"/><circle cx="84.2" cy="621.7" r="2.1" fill="#7878ee"/><circle cx="84.2" cy="619.3" r="1.7" fill="#f2783f"/><circle cx="85.7" cy="620.4" r="1.7" fill="#f2783f"/><circle cx="85.7" cy="619.6" r="2.1" fill="#7878ee"/><circle cx="87.1" cy="619.9" r="2.1" fill="#7878ee"/><circle cx="87.1" cy="618.9" r="1.7" fill="#f2783f"/><circle cx="88.6" cy="619.1" r="1.7" fill="#f2783f"/><circle cx="88.6" cy="621.8" r="2.1" fill="#7878ee"/><circle cx="90.1" cy="620.4" r="2.1" fill="#7878ee"/><circle cx="90.1" cy="621.0" r="1.7" fill="#f2783f"/><circle cx="91.5" cy="622.3" r="1.7" fill="#f2783f"/><circle cx="91.5" cy="620.7" r="2.1" fill="#7878ee"/><circle cx="93.0" cy="620.8" r="2.1" fill="#7878ee"/><circle cx="93.0" cy="619.6" r="1.7" fill="#f2783f"/><circle cx="94.5" cy="621.8" r="1.7" fill="#f2783f"/><circle cx="94.5" cy="618.7" r="2.1" fill="#7878ee"/><circle cx="95.9" cy="621.9" r="2.1" fill="#7878ee"/><circle cx="95.9" cy="622.2" r="1.7" fill="#f2783f"/><circle cx="97.4" cy="619.7" r="1.7" fill="#f2783f"/><circle cx="97.4" cy="622.2" r="2.1" fill="#7878ee"/><circle cx="98.9" cy="618.9" r="2.1" fill="#7878ee"/><circle cx="98.9" cy="619.3" r="1.7" fill="#f2783f"/><circle cx="100.3" cy="619.3" r="1.7" fill="#f2783f"/><circle cx="100.3" cy="620.8" r="2.1" fill="#7878ee"/>
<g fill="#7878ee"><circle cx="106.2" cy="575.8" r="2.2"/><circle cx="109.1" cy="583.3" r="2.2"/><circle cx="112.0" cy="588.5" r="2.2"/><circle cx="115.0" cy="590.9" r="2.2"/><circle cx="117.9" cy="597.9" r="2.2"/><circle cx="120.8" cy="600.3" r="2.2"/><circle cx="123.8" cy="600.1" r="2.2"/><circle cx="126.7" cy="600.9" r="2.2"/><circle cx="129.6" cy="600.0" r="2.2"/><circle cx="132.6" cy="600.7" r="2.2"/><circle cx="135.5" cy="602.7" r="2.2"/><circle cx="138.4" cy="603.6" r="2.2"/><circle cx="141.4" cy="601.6" r="2.2"/><circle cx="144.3" cy="600.7" r="2.2"/><circle cx="147.2" cy="603.8" r="2.2"/><circle cx="150.2" cy="600.9" r="2.2"/><circle cx="153.1" cy="600.1" r="2.2"/><circle cx="156.0" cy="600.5" r="2.2"/><circle cx="159.0" cy="601.7" r="2.2"/><circle cx="161.9" cy="599.9" r="2.2"/><circle cx="164.8" cy="600.3" r="2.2"/><circle cx="167.8" cy="602.4" r="2.2"/><circle cx="170.7" cy="601.0" r="2.2"/><circle cx="173.6" cy="602.7" r="2.2"/><circle cx="176.6" cy="603.5" r="2.2"/><circle cx="179.5" cy="602.1" r="2.2"/><circle cx="182.4" cy="601.8" r="2.2"/><circle cx="185.3" cy="601.2" r="2.2"/><circle cx="188.3" cy="599.9" r="2.2"/><circle cx="191.2" cy="599.4" r="2.2"/><circle cx="194.1" cy="599.2" r="2.2"/><circle cx="197.1" cy="599.3" r="2.2"/><circle cx="200.0" cy="599.4" r="2.2"/><circle cx="202.9" cy="600.3" r="2.2"/><circle cx="205.9" cy="602.2" r="2.2"/><circle cx="208.8" cy="602.8" r="2.2"/><circle cx="211.7" cy="601.4" r="2.2"/><circle cx="214.7" cy="601.9" r="2.2"/><circle cx="217.6" cy="601.6" r="2.2"/></g>
<g fill="#f2783f"><circle cx="106.2" cy="577.3" r="1.7"/><circle cx="109.1" cy="585.7" r="1.7"/><circle cx="112.0" cy="594.2" r="1.7"/><circle cx="115.0" cy="610.3" r="1.7"/><circle cx="117.9" cy="611.4" r="1.7"/><circle cx="120.8" cy="617.1" r="1.7"/><circle cx="123.8" cy="619.0" r="1.7"/><circle cx="126.7" cy="620.3" r="1.7"/><circle cx="129.6" cy="620.9" r="1.7"/><circle cx="132.6" cy="620.9" r="1.7"/><circle cx="135.5" cy="619.6" r="1.7"/><circle cx="138.4" cy="620.4" r="1.7"/><circle cx="141.4" cy="619.8" r="1.7"/><circle cx="144.3" cy="617.3" r="1.7"/><circle cx="147.2" cy="620.4" r="1.7"/><circle cx="150.2" cy="617.7" r="1.7"/><circle cx="153.1" cy="618.0" r="1.7"/><circle cx="156.0" cy="618.7" r="1.7"/><circle cx="159.0" cy="618.7" r="1.7"/><circle cx="161.9" cy="617.9" r="1.7"/><circle cx="164.8" cy="618.7" r="1.7"/><circle cx="167.8" cy="620.1" r="1.7"/><circle cx="170.7" cy="619.7" r="1.7"/><circle cx="173.6" cy="620.1" r="1.7"/><circle cx="176.6" cy="619.4" r="1.7"/><circle cx="179.5" cy="617.0" r="1.7"/><circle cx="182.4" cy="619.3" r="1.7"/><circle cx="185.3" cy="620.8" r="1.7"/><circle cx="188.3" cy="619.1" r="1.7"/><circle cx="191.2" cy="617.7" r="1.7"/><circle cx="194.1" cy="619.2" r="1.7"/><circle cx="197.1" cy="618.2" r="1.7"/><circle cx="200.0" cy="620.7" r="1.7"/><circle cx="202.9" cy="620.8" r="1.7"/><circle cx="205.9" cy="618.4" r="1.7"/><circle cx="208.8" cy="620.9" r="1.7"/><circle cx="211.7" cy="619.8" r="1.7"/><circle cx="214.7" cy="619.5" r="1.7"/><circle cx="217.6" cy="620.3" r="1.7"/></g>
<line x1="99.4" y1="590.7" x2="99.4" y2="608.0" stroke="#2d3d52" stroke-width="1.4" />
<path d="M96.90 606.00 L99.40 611.00 L101.90 606.00 L99.40 607.40 Z" stroke="#2d3d52" stroke-width="0.4" fill="#2d3d52" />
<text x="256.3" y="424.5" font-size="16" font-weight="bold" fill="#000" stroke="#000" stroke-width="0.45">f</text>
<text x="273.3" y="426.3" font-size="10.0" fill="#231f20" >EDA+ALA</text>
<path d="M272.00 520.57 L272.57 520.49 L273.38 519.84 L274.37 519.35 L275.50 517.75 L276.24 517.21 L277.08 516.86 L277.99 516.91 L278.91 517.93 L279.82 517.37 L280.66 517.77 L281.40 517.24 L282.44 517.26 L283.30 517.72 L284.08 517.78 L284.90 514.78 L285.77 507.59 L286.65 499.13 L287.52 489.55 L288.40 481.86 L289.30 473.53 L290.22 464.54 L291.11 456.31 L291.90 449.95 L293.05 444.98 L294.20 444.37 L294.96 443.79 L295.80 445.57 L296.71 447.03 L297.70 449.62 L298.56 451.66 L299.50 453.98 L300.47 456.63 L301.45 459.69 L302.40 462.55 L303.31 465.33 L304.18 469.85 L305.07 473.83 L306.00 477.71 L307.00 480.33 L307.78 481.64 L308.59 483.23 L309.44 483.46 L310.31 485.09 L311.18 486.06 L312.05 486.72 L312.90 487.87 L313.72 489.88 L314.53 491.27 L315.33 493.22 L316.14 495.34 L316.96 496.88 L317.81 498.01 L318.70 500.00 L319.52 501.15 L320.38 502.47 L321.27 503.79 L322.17 505.47 L323.07 506.43 L323.97 508.53 L324.85 510.62 L325.70 511.04 L326.62 512.21 L327.50 513.38 L328.35 512.51 L329.20 512.36 L330.08 513.59 L331.01 514.38 L332.00 514.59 L332.78 513.91 L333.65 514.13 L334.58 515.15 L335.54 515.77 L336.49 516.01 L337.42 515.12 L338.28 515.91 L339.05 515.49 L339.70 515.94 L340.20 515.16" stroke="#2fbd92" stroke-width="1.05" fill="none" stroke-linejoin="round"/>
<path d="M272.00 518.39 L272.52 519.03 L273.24 519.18 L274.11 519.70 L275.05 518.68 L276.00 518.09 L276.83 518.62 L277.73 518.71 L278.66 518.07 L279.61 518.39 L280.53 517.97 L281.40 518.37 L282.39 517.69 L283.35 518.07 L284.28 519.57 L285.16 518.68 L286.00 516.33 L286.98 511.63 L287.88 503.87 L288.72 494.84 L289.50 488.58 L290.42 483.22 L291.23 478.50 L292.00 476.03 L293.04 472.46 L294.20 471.77 L294.98 471.72 L295.87 472.61 L296.79 475.40 L297.70 476.99 L298.55 480.63 L299.37 483.55 L300.24 487.17 L301.20 490.75 L302.06 492.66 L303.00 493.37 L303.97 495.31 L304.95 497.01 L305.90 497.65 L306.77 498.29 L307.57 500.39 L308.41 501.15 L309.35 501.34 L310.50 502.37 L311.17 502.49 L311.89 503.82 L312.66 504.17 L313.46 503.85 L314.30 505.21 L315.16 504.81 L316.04 505.19 L316.93 505.18 L317.82 506.71 L318.70 506.62 L319.52 507.56 L320.38 507.55 L321.27 508.55 L322.18 509.72 L323.09 510.35 L324.00 510.81 L324.89 511.37 L325.76 511.83 L326.59 512.57 L327.37 512.24 L328.10 512.92 L329.12 513.11 L330.03 514.45 L330.86 515.33 L331.63 514.26 L332.39 513.92 L333.17 514.82 L334.00 515.11 L334.92 514.34 L335.93 515.23 L336.96 516.15 L337.96 515.69 L338.87 515.36 L339.64 515.61 L340.20 516.42" stroke="#f4784a" stroke-width="1.05" fill="none" stroke-linejoin="round"/>
<path d="M350.30 514.14 L350.92 513.00 L351.79 513.89 L352.82 513.45 L353.91 514.86 L355.00 513.94 L355.79 515.17 L356.64 515.69 L357.53 516.49 L358.42 517.30 L359.28 516.34 L360.08 515.87 L360.80 515.88 L361.84 513.73 L362.69 511.03 L363.48 507.81 L364.30 505.36 L365.16 501.61 L366.01 496.69 L366.88 490.66 L367.80 487.15 L368.60 483.97 L369.44 480.71 L370.30 478.56 L371.16 476.79 L372.00 475.01 L372.78 475.06 L373.53 475.03 L374.28 475.91 L375.09 477.67 L376.00 478.83 L376.74 479.57 L377.56 481.74 L378.42 484.09 L379.30 485.38 L380.17 487.78 L381.01 488.12 L381.80 489.10 L382.74 490.51 L383.54 493.09 L384.34 494.41 L385.28 495.65 L386.50 496.14 L387.17 496.75 L387.91 498.09 L388.70 497.66 L389.54 497.79 L390.41 498.05 L391.31 499.25 L392.22 500.82 L393.13 501.37 L394.04 501.64 L394.93 502.19 L395.80 502.11 L396.65 503.64 L397.49 503.50 L398.33 503.36 L399.16 503.56 L400.00 504.72 L400.85 504.52 L401.70 505.60 L402.55 505.26 L403.42 505.44 L404.30 505.04 L405.20 506.53 L406.00 507.23 L406.86 507.21 L407.76 506.76 L408.69 507.43 L409.64 507.77 L410.57 508.99 L411.49 509.96 L412.38 510.31 L413.21 509.84 L413.97 509.33 L414.65 510.74 L415.23 511.65 L415.70 510.76" stroke="#2fbd92" stroke-width="1.05" fill="none" stroke-linejoin="round"/>
<path d="M350.30 513.55 L350.92 513.81 L351.79 513.97 L352.82 514.27 L353.91 514.49 L355.00 515.15 L355.79 514.89 L356.64 515.68 L357.53 515.17 L358.42 515.57 L359.28 515.83 L360.08 515.45 L360.80 515.94 L361.84 514.11 L362.69 512.59 L363.48 510.38 L364.30 506.05 L365.16 502.42 L366.01 497.46 L366.88 492.14 L367.80 486.53 L368.60 483.80 L369.44 481.55 L370.30 478.89 L371.16 476.79 L372.00 475.63 L372.78 475.05 L373.53 476.08 L374.28 476.36 L375.09 477.38 L376.00 479.14 L376.74 481.20 L377.56 482.09 L378.42 483.19 L379.30 486.50 L380.17 488.90 L381.01 490.87 L381.80 492.01 L382.74 492.97 L383.54 493.81 L384.34 495.00 L385.28 496.42 L386.50 497.10 L387.17 498.59 L387.91 499.71 L388.70 499.31 L389.54 500.93 L390.41 501.44 L391.31 502.79 L392.22 502.99 L393.13 503.98 L394.04 504.17 L394.93 504.85 L395.80 505.27 L396.66 504.91 L397.54 505.25 L398.43 505.87 L399.32 506.79 L400.21 507.46 L401.10 508.37 L401.97 509.29 L402.82 509.53 L403.65 509.72 L404.44 510.35 L405.20 511.63 L406.20 512.19 L407.16 512.32 L408.08 512.73 L408.96 511.94 L409.79 511.39 L410.58 511.22 L411.32 511.37 L412.00 511.50 L413.23 513.76 L414.27 516.42 L415.11 517.06 L415.70 518.71" stroke="#f4784a" stroke-width="1.05" fill="none" stroke-linejoin="round"/>
<text x="307.0" y="455.8" font-size="9.0" text-anchor="middle" fill="#231f20" >1</text>
<text x="301.2" y="506.0" font-size="9.0" text-anchor="middle" fill="#231f20" >0</text>
<text x="384.6" y="487.3" font-size="9.0" text-anchor="middle" fill="#231f20" >1</text>
<text x="383.0" y="511.2" font-size="9.0" text-anchor="middle" fill="#231f20" >0</text>
<line x1="440.0" y1="415.8" x2="440.0" y2="445.0" stroke="#999" stroke-width="1.0" />
<line x1="407.5" y1="444.5" x2="440.0" y2="444.5" stroke="#555" stroke-width="1.0" />
<text x="422.8" y="456.0" font-size="8.7" text-anchor="middle" fill="#231f20"  letter-spacing="0.1">15 ms</text>
<text transform="translate(452.00,430.00) rotate(-90)" font-size="9.0" text-anchor="middle" fill="#231f20" letter-spacing="0.2">3 mV</text>
<line x1="325.8" y1="537.7" x2="346.1" y2="537.7" stroke="#a0a0f4" stroke-width="0.8" />
<circle cx="336.0" cy="537.7" r="2.20" fill="#7878ee" />
<text x="352.4" y="541.1" font-size="9.3" fill="#231f20" >PS1/PAMA<tspan font-size="5.40" dy="-3.60">Gαi1+/+</tspan></text>
<line x1="325.8" y1="553.5" x2="346.1" y2="553.5" stroke="#f59a70" stroke-width="0.8" />
<circle cx="336.0" cy="553.5" r="1.50" fill="#f2783f" />
<text x="352.4" y="556.9" font-size="9.3" fill="#231f20" >PS1/PAMA<tspan font-size="5.40" dy="-3.60">Gαi1–/–</tspan></text>
<line x1="309.5" y1="565.5" x2="309.5" y2="635.8" stroke="#555" stroke-width="1.0" />
<line x1="309.0" y1="635.8" x2="444.7" y2="635.8" stroke="#555" stroke-width="1.0" />
<line x1="301.5" y1="621.6" x2="309.5" y2="621.6" stroke="#555" stroke-width="1.0" />
<text x="297.5" y="625.5" font-size="9.0" text-anchor="end" fill="#231f20"  letter-spacing="0.5">100</text>
<line x1="301.5" y1="593.5" x2="309.5" y2="593.5" stroke="#555" stroke-width="1.0" />
<text x="297.5" y="597.4" font-size="9.0" text-anchor="end" fill="#231f20"  letter-spacing="0.5">200</text>
<line x1="301.5" y1="565.5" x2="309.5" y2="565.5" stroke="#555" stroke-width="1.0" />
<text x="297.5" y="569.4" font-size="9.0" text-anchor="end" fill="#231f20"  letter-spacing="0.5">300</text>
<line x1="309.5" y1="635.8" x2="309.5" y2="640.6" stroke="#555" stroke-width="1.0" />
<text x="309.8" y="652.2" font-size="9.0" text-anchor="middle" fill="#231f20"  letter-spacing="0.5">0</text>
<line x1="336.4" y1="635.8" x2="336.4" y2="640.6" stroke="#555" stroke-width="1.0" />
<text x="336.7" y="652.2" font-size="9.0" text-anchor="middle" fill="#231f20"  letter-spacing="0.5">10</text>
<line x1="363.4" y1="635.8" x2="363.4" y2="640.6" stroke="#555" stroke-width="1.0" />
<text x="363.6" y="652.2" font-size="9.0" text-anchor="middle" fill="#231f20"  letter-spacing="0.5">20</text>
<line x1="390.3" y1="635.8" x2="390.3" y2="640.6" stroke="#555" stroke-width="1.0" />
<text x="390.6" y="652.2" font-size="9.0" text-anchor="middle" fill="#231f20"  letter-spacing="0.5">30</text>
<line x1="417.3" y1="635.8" x2="417.3" y2="640.6" stroke="#555" stroke-width="1.0" />
<text x="417.5" y="652.2" font-size="9.0" text-anchor="middle" fill="#231f20"  letter-spacing="0.5">40</text>
<line x1="444.2" y1="635.8" x2="444.2" y2="640.6" stroke="#555" stroke-width="1.0" />
<text x="444.4" y="652.2" font-size="9.0" text-anchor="middle" fill="#231f20"  letter-spacing="0.5">50</text>
<text x="377.0" y="668.0" font-size="10.4" text-anchor="middle" fill="#231f20"  letter-spacing="0.35">Time (min)</text>
<text transform="translate(265.60,600.65) rotate(-90)" font-size="10.4" text-anchor="middle" fill="#231f20" letter-spacing="0.15">Amplitude (%)</text>
<path d="M310.8 619.8V624.2M308.5 619.8h4.6M308.5 624.2h4.6M312.2 620.3V624.8M309.9 620.3h4.6M309.9 624.8h4.6M313.5 620.5V625.0M311.2 620.5h4.6M311.2 625.0h4.6M314.9 618.0V622.5M312.6 618.0h4.6M312.6 622.5h4.6M316.2 619.1V623.6M313.9 619.1h4.6M313.9 623.6h4.6M317.6 618.7V623.2M315.3 618.7h4.6M315.3 623.2h4.6M318.9 619.2V623.7M316.6 619.2h4.6M316.6 623.7h4.6M320.3 619.7V624.2M318.0 619.7h4.6M318.0 624.2h4.6M321.6 618.6V623.1M319.3 618.6h4.6M319.3 623.1h4.6M323.0 619.1V623.6M320.7 619.1h4.6M320.7 623.6h4.6M324.3 618.4V622.9M322.0 618.4h4.6M322.0 622.9h4.6M325.7 618.8V623.3M323.4 618.8h4.6M323.4 623.3h4.6M327.0 618.2V622.7M324.7 618.2h4.6M324.7 622.7h4.6M328.4 619.6V624.0M326.1 619.6h4.6M326.1 624.0h4.6M329.7 620.5V625.0M327.4 620.5h4.6M327.4 625.0h4.6M331.1 620.5V625.0M328.8 620.5h4.6M328.8 625.0h4.6M332.4 618.6V623.1M330.1 618.6h4.6M330.1 623.1h4.6M333.7 620.5V625.0M331.4 620.5h4.6M331.4 625.0h4.6M335.1 618.8V623.3M332.8 618.8h4.6M332.8 623.3h4.6M336.4 618.9V623.4M334.1 618.9h4.6M334.1 623.4h4.6M341.8 574.0V585.2M339.5 574.0h4.6M339.5 585.2h4.6M344.5 577.2V588.4M342.2 577.2h4.6M342.2 588.4h4.6M347.2 585.0V592.9M344.9 585.0h4.6M344.9 592.9h4.6M349.9 587.0V594.8M347.6 587.0h4.6M347.6 594.8h4.6M352.6 591.3V599.1M350.3 591.3h4.6M350.3 599.1h4.6M355.3 596.2V604.0M353.0 596.2h4.6M353.0 604.0h4.6M358.0 595.9V603.7M355.7 595.9h4.6M355.7 603.7h4.6M360.7 597.8V605.7M358.4 597.8h4.6M358.4 605.7h4.6M363.4 602.7V610.5M361.1 602.7h4.6M361.1 610.5h4.6M366.1 600.1V608.0M363.8 600.1h4.6M363.8 608.0h4.6M368.8 601.3V609.1M366.5 601.3h4.6M366.5 609.1h4.6M371.5 598.4V606.3M369.2 598.4h4.6M369.2 606.3h4.6M374.2 599.0V606.9M371.9 599.0h4.6M371.9 606.9h4.6M376.9 597.9V605.7M374.6 597.9h4.6M374.6 605.7h4.6M379.5 600.8V608.7M377.2 600.8h4.6M377.2 608.7h4.6M382.2 599.7V607.6M379.9 599.7h4.6M379.9 607.6h4.6M384.9 598.5V606.4M382.6 598.5h4.6M382.6 606.4h4.6M387.6 598.4V606.3M385.3 598.4h4.6M385.3 606.3h4.6M390.3 599.7V607.5M388.0 599.7h4.6M388.0 607.5h4.6M393.0 597.4V605.2M390.7 597.4h4.6M390.7 605.2h4.6M395.7 597.6V605.5M393.4 597.6h4.6M393.4 605.5h4.6M398.4 599.5V607.4M396.1 599.5h4.6M396.1 607.4h4.6M401.1 600.1V608.0M398.8 600.1h4.6M398.8 608.0h4.6M403.8 598.5V606.3M401.5 598.5h4.6M401.5 606.3h4.6M406.5 599.4V607.3M404.2 599.4h4.6M404.2 607.3h4.6M409.2 598.6V606.5M406.9 598.6h4.6M406.9 606.5h4.6M411.9 599.3V607.1M409.6 599.3h4.6M409.6 607.1h4.6M414.6 599.7V607.6M412.3 599.7h4.6M412.3 607.6h4.6M417.3 601.1V608.9M415.0 601.1h4.6M415.0 608.9h4.6M420.0 600.7V608.5M417.7 600.7h4.6M417.7 608.5h4.6M422.6 599.6V607.4M420.3 599.6h4.6M420.3 607.4h4.6M425.3 598.7V606.5M423.0 598.7h4.6M423.0 606.5h4.6M428.0 599.7V607.5M425.7 599.7h4.6M425.7 607.5h4.6M430.7 598.6V606.5M428.4 598.6h4.6M428.4 606.5h4.6M433.4 599.3V607.2M431.1 599.3h4.6M431.1 607.2h4.6M436.1 598.2V606.0M433.8 598.2h4.6M433.8 606.0h4.6M438.8 598.9V606.8M436.5 598.9h4.6M436.5 606.8h4.6M441.5 600.0V607.9M439.2 600.0h4.6M439.2 607.9h4.6M444.2 600.7V608.5M441.9 600.7h4.6M441.9 608.5h4.6" stroke="#a0a0f4" stroke-width="0.7" fill="none"/>
<path d="M310.8 622.0L312.2 622.5L313.5 622.7L314.9 620.2L316.2 621.3L317.6 621.0L318.9 621.4L320.3 622.0L321.6 620.8L323.0 621.3L324.3 620.7L325.7 621.1L327.0 620.5L328.4 621.8L329.7 622.8L331.1 622.8L332.4 620.8L333.7 622.7L335.1 621.1L336.4 621.2M341.8 579.6L344.5 582.8L347.2 589.0L349.9 590.9L352.6 595.2L355.3 600.1L358.0 599.8L360.7 601.7L363.4 606.6L366.1 604.1L368.8 605.2L371.5 602.4L374.2 602.9L376.9 601.8L379.5 604.7L382.2 603.7L384.9 602.5L387.6 602.3L390.3 603.6L393.0 601.3L395.7 601.5L398.4 603.4L401.1 604.1L403.8 602.4L406.5 603.3L409.2 602.6L411.9 603.2L414.6 603.6L417.3 605.0L420.0 604.6L422.6 603.5L425.3 602.6L428.0 603.6L430.7 602.5L433.4 603.2L436.1 602.1L438.8 602.8L441.5 604.0L444.2 604.6" stroke="#7878ee" stroke-width="0.6" fill="none" opacity="0.8"/>
<path d="M310.8 618.3V623.9M308.5 618.3h4.6M308.5 623.9h4.6M312.2 620.4V626.0M309.9 620.4h4.6M309.9 626.0h4.6M313.5 619.6V625.2M311.2 619.6h4.6M311.2 625.2h4.6M314.9 619.7V625.3M312.6 619.7h4.6M312.6 625.3h4.6M316.2 618.0V623.6M313.9 618.0h4.6M313.9 623.6h4.6M317.6 618.2V623.8M315.3 618.2h4.6M315.3 623.8h4.6M318.9 617.5V623.1M316.6 617.5h4.6M316.6 623.1h4.6M320.3 620.2V625.8M318.0 620.2h4.6M318.0 625.8h4.6M321.6 619.1V624.7M319.3 619.1h4.6M319.3 624.7h4.6M323.0 620.4V626.0M320.7 620.4h4.6M320.7 626.0h4.6M324.3 619.7V625.4M322.0 619.7h4.6M322.0 625.4h4.6M325.7 618.8V624.4M323.4 618.8h4.6M323.4 624.4h4.6M327.0 620.4V626.0M324.7 620.4h4.6M324.7 626.0h4.6M328.4 619.8V625.4M326.1 619.8h4.6M326.1 625.4h4.6M329.7 618.3V623.9M327.4 618.3h4.6M327.4 623.9h4.6M331.1 618.6V624.3M328.8 618.6h4.6M328.8 624.3h4.6M332.4 619.7V625.3M330.1 619.7h4.6M330.1 625.3h4.6M333.7 618.5V624.1M331.4 618.5h4.6M331.4 624.1h4.6M335.1 617.8V623.4M332.8 617.8h4.6M332.8 623.4h4.6M336.4 620.5V626.1M334.1 620.5h4.6M334.1 626.1h4.6M341.8 576.9V587.0M339.5 576.9h4.6M339.5 587.0h4.6M344.5 582.1V592.2M342.2 582.1h4.6M342.2 592.2h4.6M347.2 590.3V598.1M344.9 590.3h4.6M344.9 598.1h4.6M349.9 598.0V605.8M347.6 598.0h4.6M347.6 605.8h4.6M352.6 603.3V611.1M350.3 603.3h4.6M350.3 611.1h4.6M355.3 612.1V620.0M353.0 612.1h4.6M353.0 620.0h4.6M358.0 615.9V623.8M355.7 615.9h4.6M355.7 623.8h4.6M360.7 617.0V624.9M358.4 617.0h4.6M358.4 624.9h4.6M363.4 615.2V623.0M361.1 615.2h4.6M361.1 623.0h4.6M366.1 616.1V624.0M363.8 616.1h4.6M363.8 624.0h4.6M368.8 615.3V623.2M366.5 615.3h4.6M366.5 623.2h4.6M371.5 615.6V623.5M369.2 615.6h4.6M369.2 623.5h4.6M374.2 616.4V624.3M371.9 616.4h4.6M371.9 624.3h4.6M376.9 614.7V622.5M374.6 614.7h4.6M374.6 622.5h4.6M379.5 617.0V624.9M377.2 617.0h4.6M377.2 624.9h4.6M382.2 616.3V624.2M379.9 616.3h4.6M379.9 624.2h4.6M384.9 615.3V623.1M382.6 615.3h4.6M382.6 623.1h4.6M387.6 616.1V623.9M385.3 616.1h4.6M385.3 623.9h4.6M390.3 615.1V623.0M388.0 615.1h4.6M388.0 623.0h4.6M393.0 616.2V624.1M390.7 616.2h4.6M390.7 624.1h4.6M395.7 615.7V623.6M393.4 615.7h4.6M393.4 623.6h4.6M398.4 618.3V626.2M396.1 618.3h4.6M396.1 626.2h4.6M401.1 617.6V625.5M398.8 617.6h4.6M398.8 625.5h4.6M403.8 617.4V625.2M401.5 617.4h4.6M401.5 625.2h4.6M406.5 618.2V626.1M404.2 618.2h4.6M404.2 626.1h4.6M409.2 617.6V625.5M406.9 617.6h4.6M406.9 625.5h4.6M411.9 618.1V626.0M409.6 618.1h4.6M409.6 626.0h4.6M414.6 617.4V625.3M412.3 617.4h4.6M412.3 625.3h4.6M417.3 616.0V623.9M415.0 616.0h4.6M415.0 623.9h4.6M420.0 617.1V624.9M417.7 617.1h4.6M417.7 624.9h4.6M422.6 617.1V624.9M420.3 617.1h4.6M420.3 624.9h4.6M425.3 617.7V625.5M423.0 617.7h4.6M423.0 625.5h4.6M428.0 617.5V625.3M425.7 617.5h4.6M425.7 625.3h4.6M430.7 614.8V622.7M428.4 614.8h4.6M428.4 622.7h4.6M433.4 616.0V623.8M431.1 616.0h4.6M431.1 623.8h4.6M436.1 616.1V624.0M433.8 616.1h4.6M433.8 624.0h4.6M438.8 617.8V625.7M436.5 617.8h4.6M436.5 625.7h4.6M441.5 615.7V623.5M439.2 615.7h4.6M439.2 623.5h4.6M444.2 617.9V625.7M441.9 617.9h4.6M441.9 625.7h4.6" stroke="#f59a70" stroke-width="0.7" fill="none"/>
<path d="M310.8 621.1L312.2 623.2L313.5 622.4L314.9 622.5L316.2 620.8L317.6 621.0L318.9 620.3L320.3 623.0L321.6 621.9L323.0 623.2L324.3 622.5L325.7 621.6L327.0 623.2L328.4 622.6L329.7 621.1L331.1 621.4L332.4 622.5L333.7 621.3L335.1 620.6L336.4 623.3M341.8 582.0L344.5 587.2L347.2 594.2L349.9 601.9L352.6 607.2L355.3 616.1L358.0 619.8L360.7 620.9L363.4 619.1L366.1 620.1L368.8 619.3L371.5 619.6L374.2 620.3L376.9 618.6L379.5 621.0L382.2 620.3L384.9 619.2L387.6 620.0L390.3 619.1L393.0 620.2L395.7 619.7L398.4 622.3L401.1 621.5L403.8 621.3L406.5 622.1L409.2 621.5L411.9 622.0L414.6 621.3L417.3 619.9L420.0 621.0L422.6 621.0L425.3 621.6L428.0 621.4L430.7 618.8L433.4 619.9L436.1 620.0L438.8 621.8L441.5 619.6L444.2 621.8" stroke="#f2783f" stroke-width="0.6" fill="none" opacity="0.8"/>
<circle cx="310.8" cy="622.0" r="2.1" fill="#7878ee"/><circle cx="310.8" cy="621.1" r="1.7" fill="#f2783f"/><circle cx="312.2" cy="623.2" r="1.7" fill="#f2783f"/><circle cx="312.2" cy="622.5" r="2.1" fill="#7878ee"/><circle cx="313.5" cy="622.7" r="2.1" fill="#7878ee"/><circle cx="313.5" cy="622.4" r="1.7" fill="#f2783f"/><circle cx="314.9" cy="622.5" r="1.7" fill="#f2783f"/><circle cx="314.9" cy="620.2" r="2.1" fill="#7878ee"/><circle cx="316.2" cy="621.3" r="2.1" fill="#7878ee"/><circle cx="316.2" cy="620.8" r="1.7" fill="#f2783f"/><circle cx="317.6" cy="621.0" r="1.7" fill="#f2783f"/><circle cx="317.6" cy="621.0" r="2.1" fill="#7878ee"/><circle cx="318.9" cy="621.4" r="2.1" fill="#7878ee"/><circle cx="318.9" cy="620.3" r="1.7" fill="#f2783f"/><circle cx="320.3" cy="623.0" r="1.7" fill="#f2783f"/><circle cx="320.3" cy="622.0" r="2.1" fill="#7878ee"/><circle cx="321.6" cy="620.8" r="2.1" fill="#7878ee"/><circle cx="321.6" cy="621.9" r="1.7" fill="#f2783f"/><circle cx="323.0" cy="623.2" r="1.7" fill="#f2783f"/><circle cx="323.0" cy="621.3" r="2.1" fill="#7878ee"/><circle cx="324.3" cy="620.7" r="2.1" fill="#7878ee"/><circle cx="324.3" cy="622.5" r="1.7" fill="#f2783f"/><circle cx="325.7" cy="621.6" r="1.7" fill="#f2783f"/><circle cx="325.7" cy="621.1" r="2.1" fill="#7878ee"/><circle cx="327.0" cy="620.5" r="2.1" fill="#7878ee"/><circle cx="327.0" cy="623.2" r="1.7" fill="#f2783f"/><circle cx="328.4" cy="622.6" r="1.7" fill="#f2783f"/><circle cx="328.4" cy="621.8" r="2.1" fill="#7878ee"/><circle cx="329.7" cy="622.8" r="2.1" fill="#7878ee"/><circle cx="329.7" cy="621.1" r="1.7" fill="#f2783f"/><circle cx="331.1" cy="621.4" r="1.7" fill="#f2783f"/><circle cx="331.1" cy="622.8" r="2.1" fill="#7878ee"/><circle cx="332.4" cy="620.8" r="2.1" fill="#7878ee"/><circle cx="332.4" cy="622.5" r="1.7" fill="#f2783f"/><circle cx="333.7" cy="621.3" r="1.7" fill="#f2783f"/><circle cx="333.7" cy="622.7" r="2.1" fill="#7878ee"/><circle cx="335.1" cy="621.1" r="2.1" fill="#7878ee"/><circle cx="335.1" cy="620.6" r="1.7" fill="#f2783f"/><circle cx="336.4" cy="623.3" r="1.7" fill="#f2783f"/><circle cx="336.4" cy="621.2" r="2.1" fill="#7878ee"/>
<g fill="#7878ee"><circle cx="341.8" cy="579.6" r="2.2"/><circle cx="344.5" cy="582.8" r="2.2"/><circle cx="347.2" cy="589.0" r="2.2"/><circle cx="349.9" cy="590.9" r="2.2"/><circle cx="352.6" cy="595.2" r="2.2"/><circle cx="355.3" cy="600.1" r="2.2"/><circle cx="358.0" cy="599.8" r="2.2"/><circle cx="360.7" cy="601.7" r="2.2"/><circle cx="363.4" cy="606.6" r="2.2"/><circle cx="366.1" cy="604.1" r="2.2"/><circle cx="368.8" cy="605.2" r="2.2"/><circle cx="371.5" cy="602.4" r="2.2"/><circle cx="374.2" cy="602.9" r="2.2"/><circle cx="376.9" cy="601.8" r="2.2"/><circle cx="379.5" cy="604.7" r="2.2"/><circle cx="382.2" cy="603.7" r="2.2"/><circle cx="384.9" cy="602.5" r="2.2"/><circle cx="387.6" cy="602.3" r="2.2"/><circle cx="390.3" cy="603.6" r="2.2"/><circle cx="393.0" cy="601.3" r="2.2"/><circle cx="395.7" cy="601.5" r="2.2"/><circle cx="398.4" cy="603.4" r="2.2"/><circle cx="401.1" cy="604.1" r="2.2"/><circle cx="403.8" cy="602.4" r="2.2"/><circle cx="406.5" cy="603.3" r="2.2"/><circle cx="409.2" cy="602.6" r="2.2"/><circle cx="411.9" cy="603.2" r="2.2"/><circle cx="414.6" cy="603.6" r="2.2"/><circle cx="417.3" cy="605.0" r="2.2"/><circle cx="420.0" cy="604.6" r="2.2"/><circle cx="422.6" cy="603.5" r="2.2"/><circle cx="425.3" cy="602.6" r="2.2"/><circle cx="428.0" cy="603.6" r="2.2"/><circle cx="430.7" cy="602.5" r="2.2"/><circle cx="433.4" cy="603.2" r="2.2"/><circle cx="436.1" cy="602.1" r="2.2"/><circle cx="438.8" cy="602.8" r="2.2"/><circle cx="441.5" cy="604.0" r="2.2"/><circle cx="444.2" cy="604.6" r="2.2"/></g>
<g fill="#f2783f"><circle cx="341.8" cy="582.0" r="1.7"/><circle cx="344.5" cy="587.2" r="1.7"/><circle cx="347.2" cy="594.2" r="1.7"/><circle cx="349.9" cy="601.9" r="1.7"/><circle cx="352.6" cy="607.2" r="1.7"/><circle cx="355.3" cy="616.1" r="1.7"/><circle cx="358.0" cy="619.8" r="1.7"/><circle cx="360.7" cy="620.9" r="1.7"/><circle cx="363.4" cy="619.1" r="1.7"/><circle cx="366.1" cy="620.1" r="1.7"/><circle cx="368.8" cy="619.3" r="1.7"/><circle cx="371.5" cy="619.6" r="1.7"/><circle cx="374.2" cy="620.3" r="1.7"/><circle cx="376.9" cy="618.6" r="1.7"/><circle cx="379.5" cy="621.0" r="1.7"/><circle cx="382.2" cy="620.3" r="1.7"/><circle cx="384.9" cy="619.2" r="1.7"/><circle cx="387.6" cy="620.0" r="1.7"/><circle cx="390.3" cy="619.1" r="1.7"/><circle cx="393.0" cy="620.2" r="1.7"/><circle cx="395.7" cy="619.7" r="1.7"/><circle cx="398.4" cy="622.3" r="1.7"/><circle cx="401.1" cy="621.5" r="1.7"/><circle cx="403.8" cy="621.3" r="1.7"/><circle cx="406.5" cy="622.1" r="1.7"/><circle cx="409.2" cy="621.5" r="1.7"/><circle cx="411.9" cy="622.0" r="1.7"/><circle cx="414.6" cy="621.3" r="1.7"/><circle cx="417.3" cy="619.9" r="1.7"/><circle cx="420.0" cy="621.0" r="1.7"/><circle cx="422.6" cy="621.0" r="1.7"/><circle cx="425.3" cy="621.6" r="1.7"/><circle cx="428.0" cy="621.4" r="1.7"/><circle cx="430.7" cy="618.8" r="1.7"/><circle cx="433.4" cy="619.9" r="1.7"/><circle cx="436.1" cy="620.0" r="1.7"/><circle cx="438.8" cy="621.8" r="1.7"/><circle cx="441.5" cy="619.6" r="1.7"/><circle cx="444.2" cy="621.8" r="1.7"/></g>
<line x1="336.3" y1="591.4" x2="336.3" y2="608.7" stroke="#2d3d52" stroke-width="1.4" />
<path d="M333.80 606.70 L336.30 611.70 L338.80 606.70 L336.30 608.10 Z" stroke="#2d3d52" stroke-width="0.4" fill="#2d3d52" />
<text x="474.2" y="423.6" font-size="16" font-weight="bold" fill="#000" stroke="#000" stroke-width="0.45">g</text>
<line x1="518.3" y1="449.2" x2="518.3" y2="560.7" stroke="#666" stroke-width="1.0" />
<line x1="517.8" y1="560.7" x2="683.0" y2="560.7" stroke="#8a8a8a" stroke-width="1.3" />
<line x1="513.1" y1="560.7" x2="518.3" y2="560.7" stroke="#666" stroke-width="1.0" />
<text x="509.3" y="564.6" font-size="9.0" text-anchor="end" fill="#231f20"  letter-spacing="0.5">80</text>
<line x1="513.1" y1="542.1" x2="518.3" y2="542.1" stroke="#666" stroke-width="1.0" />
<text x="509.3" y="546.0" font-size="9.0" text-anchor="end" fill="#231f20"  letter-spacing="0.5">100</text>
<line x1="513.1" y1="523.5" x2="518.3" y2="523.5" stroke="#666" stroke-width="1.0" />
<text x="509.3" y="527.4" font-size="9.0" text-anchor="end" fill="#231f20"  letter-spacing="0.5">120</text>
<line x1="513.1" y1="505.0" x2="518.3" y2="505.0" stroke="#666" stroke-width="1.0" />
<text x="509.3" y="508.9" font-size="9.0" text-anchor="end" fill="#231f20"  letter-spacing="0.5">140</text>
<line x1="513.1" y1="486.4" x2="518.3" y2="486.4" stroke="#666" stroke-width="1.0" />
<text x="509.3" y="490.3" font-size="9.0" text-anchor="end" fill="#231f20"  letter-spacing="0.5">160</text>
<line x1="513.1" y1="467.8" x2="518.3" y2="467.8" stroke="#666" stroke-width="1.0" />
<text x="509.3" y="471.7" font-size="9.0" text-anchor="end" fill="#231f20"  letter-spacing="0.5">180</text>
<line x1="513.1" y1="449.2" x2="518.3" y2="449.2" stroke="#666" stroke-width="1.0" />
<text x="509.3" y="453.1" font-size="9.0" text-anchor="end" fill="#231f20"  letter-spacing="0.5">200</text>
<text transform="translate(484.4,505.4) rotate(-90)" font-size="10.2" letter-spacing="0.3" text-anchor="middle" fill="#231f20">LTP</text>
<path d="M530.40 560.70 L530.40 481.72 L544.80 481.72 L544.80 560.70" stroke="#86aaf2" stroke-width="0.65" fill="none" />
<path d="M546.30 560.70 L546.30 480.33 L560.70 480.33 L560.70 560.70" stroke="#f47f7f" stroke-width="0.65" fill="none" />
<path d="M562.70 560.70 L562.70 536.08 L577.10 536.08 L577.10 560.70" stroke="#86aaf2" stroke-width="0.65" fill="none" />
<path d="M578.60 560.70 L578.60 536.54 L593.00 536.54 L593.00 560.70" stroke="#f47f7f" stroke-width="0.65" fill="none" />
<path d="M608.80 560.70 L608.80 483.58 L623.20 483.58 L623.20 560.70" stroke="#7474ee" stroke-width="0.65" fill="none" />
<path d="M624.80 560.70 L624.80 539.05 L639.20 539.05 L639.20 560.70" stroke="#f57a45" stroke-width="0.65" fill="none" />
<path d="M641.20 560.70 L641.20 483.58 L655.60 483.58 L655.60 560.70" stroke="#7474ee" stroke-width="0.65" fill="none" />
<path d="M656.90 560.70 L656.90 537.47 L671.30 537.47 L671.30 560.70" stroke="#f57a45" stroke-width="0.65" fill="none" />
<circle cx="537.6" cy="492.9" r="1.75" fill="white" stroke="#86aaf2" stroke-width="0.6" fill-opacity="0"/>
<circle cx="540.1" cy="491.8" r="1.75" fill="white" stroke="#86aaf2" stroke-width="0.6" fill-opacity="0"/>
<circle cx="537.6" cy="489.4" r="1.75" fill="white" stroke="#86aaf2" stroke-width="0.6" fill-opacity="0"/>
<circle cx="540.6" cy="488.6" r="1.75" fill="white" stroke="#86aaf2" stroke-width="0.6" fill-opacity="0"/>
<circle cx="537.6" cy="485.8" r="1.75" fill="white" stroke="#86aaf2" stroke-width="0.6" fill-opacity="0"/>
<circle cx="539.6" cy="483.6" r="1.75" fill="white" stroke="#86aaf2" stroke-width="0.6" fill-opacity="0"/>
<circle cx="537.1" cy="482.5" r="1.75" fill="white" stroke="#86aaf2" stroke-width="0.6" fill-opacity="0"/>
<circle cx="539.1" cy="480.6" r="1.75" fill="white" stroke="#86aaf2" stroke-width="0.6" fill-opacity="0"/>
<circle cx="535.1" cy="480.4" r="1.75" fill="white" stroke="#86aaf2" stroke-width="0.6" fill-opacity="0"/>
<circle cx="541.6" cy="479.2" r="1.75" fill="white" stroke="#86aaf2" stroke-width="0.6" fill-opacity="0"/>
<circle cx="537.6" cy="478.3" r="1.75" fill="white" stroke="#86aaf2" stroke-width="0.6" fill-opacity="0"/>
<circle cx="534.1" cy="477.8" r="1.75" fill="white" stroke="#86aaf2" stroke-width="0.6" fill-opacity="0"/>
<circle cx="543.6" cy="477.4" r="1.75" fill="white" stroke="#86aaf2" stroke-width="0.6" fill-opacity="0"/>
<circle cx="531.1" cy="477.2" r="1.75" fill="white" stroke="#86aaf2" stroke-width="0.6" fill-opacity="0"/>
<circle cx="539.6" cy="476.2" r="1.75" fill="white" stroke="#86aaf2" stroke-width="0.6" fill-opacity="0"/>
<circle cx="546.1" cy="476.0" r="1.75" fill="white" stroke="#86aaf2" stroke-width="0.6" fill-opacity="0"/>
<circle cx="536.6" cy="475.4" r="1.75" fill="white" stroke="#86aaf2" stroke-width="0.6" fill-opacity="0"/>
<circle cx="537.6" cy="471.4" r="1.75" fill="white" stroke="#86aaf2" stroke-width="0.6" fill-opacity="0"/>
<circle cx="537.6" cy="467.8" r="1.75" fill="white" stroke="#86aaf2" stroke-width="0.6" fill-opacity="0"/>
<circle cx="540.6" cy="467.8" r="1.75" fill="white" stroke="#86aaf2" stroke-width="0.6" fill-opacity="0"/>
<line x1="537.6" y1="479.9" x2="537.6" y2="483.6" stroke="#86aaf2" stroke-width="0.65" />
<line x1="534.6" y1="479.9" x2="540.6" y2="479.9" stroke="#86aaf2" stroke-width="0.65" />
<line x1="534.6" y1="483.6" x2="540.6" y2="483.6" stroke="#86aaf2" stroke-width="0.65" />
<circle cx="553.5" cy="493.8" r="1.75" fill="white" stroke="#f47f7f" stroke-width="0.6" fill-opacity="0"/>
<circle cx="553.5" cy="490.2" r="1.75" fill="white" stroke="#f47f7f" stroke-width="0.6" fill-opacity="0"/>
<circle cx="553.5" cy="485.7" r="1.75" fill="white" stroke="#f47f7f" stroke-width="0.6" fill-opacity="0"/>
<circle cx="556.0" cy="484.5" r="1.75" fill="white" stroke="#f47f7f" stroke-width="0.6" fill-opacity="0"/>
<circle cx="551.0" cy="484.0" r="1.75" fill="white" stroke="#f47f7f" stroke-width="0.6" fill-opacity="0"/>
<circle cx="558.5" cy="483.2" r="1.75" fill="white" stroke="#f47f7f" stroke-width="0.6" fill-opacity="0"/>
<circle cx="553.5" cy="482.9" r="1.75" fill="white" stroke="#f47f7f" stroke-width="0.6" fill-opacity="0"/>
<circle cx="553.5" cy="479.8" r="1.75" fill="white" stroke="#f47f7f" stroke-width="0.6" fill-opacity="0"/>
<circle cx="556.5" cy="479.0" r="1.75" fill="white" stroke="#f47f7f" stroke-width="0.6" fill-opacity="0"/>
<circle cx="550.5" cy="478.8" r="1.75" fill="white" stroke="#f47f7f" stroke-width="0.6" fill-opacity="0"/>
<circle cx="553.5" cy="476.9" r="1.75" fill="white" stroke="#f47f7f" stroke-width="0.6" fill-opacity="0"/>
<circle cx="558.5" cy="476.7" r="1.75" fill="white" stroke="#f47f7f" stroke-width="0.6" fill-opacity="0"/>
<circle cx="549.5" cy="476.3" r="1.75" fill="white" stroke="#f47f7f" stroke-width="0.6" fill-opacity="0"/>
<circle cx="556.0" cy="475.3" r="1.75" fill="white" stroke="#f47f7f" stroke-width="0.6" fill-opacity="0"/>
<circle cx="547.0" cy="474.9" r="1.75" fill="white" stroke="#f47f7f" stroke-width="0.6" fill-opacity="0"/>
<circle cx="553.5" cy="471.3" r="1.75" fill="white" stroke="#f47f7f" stroke-width="0.6" fill-opacity="0"/>
<circle cx="556.5" cy="471.1" r="1.75" fill="white" stroke="#f47f7f" stroke-width="0.6" fill-opacity="0"/>
<circle cx="553.5" cy="466.4" r="1.75" fill="white" stroke="#f47f7f" stroke-width="0.6" fill-opacity="0"/>
<circle cx="556.5" cy="465.9" r="1.75" fill="white" stroke="#f47f7f" stroke-width="0.6" fill-opacity="0"/>
<circle cx="550.5" cy="465.9" r="1.75" fill="white" stroke="#f47f7f" stroke-width="0.6" fill-opacity="0"/>
<line x1="553.5" y1="478.5" x2="553.5" y2="482.2" stroke="#f47f7f" stroke-width="0.65" />
<line x1="550.5" y1="478.5" x2="556.5" y2="478.5" stroke="#f47f7f" stroke-width="0.65" />
<line x1="550.5" y1="482.2" x2="556.5" y2="482.2" stroke="#f47f7f" stroke-width="0.65" />
<circle cx="569.9" cy="554.2" r="1.75" fill="white" stroke="#86aaf2" stroke-width="0.6" fill-opacity="0"/>
<circle cx="569.9" cy="546.9" r="1.75" fill="white" stroke="#86aaf2" stroke-width="0.6" fill-opacity="0"/>
<circle cx="572.4" cy="545.4" r="1.75" fill="white" stroke="#86aaf2" stroke-width="0.6" fill-opacity="0"/>
<circle cx="567.9" cy="544.8" r="1.75" fill="white" stroke="#86aaf2" stroke-width="0.6" fill-opacity="0"/>
<circle cx="564.9" cy="544.6" r="1.75" fill="white" stroke="#86aaf2" stroke-width="0.6" fill-opacity="0"/>
<circle cx="574.9" cy="544.2" r="1.75" fill="white" stroke="#86aaf2" stroke-width="0.6" fill-opacity="0"/>
<circle cx="577.9" cy="543.7" r="1.75" fill="white" stroke="#86aaf2" stroke-width="0.6" fill-opacity="0"/>
<circle cx="569.9" cy="542.3" r="1.75" fill="white" stroke="#86aaf2" stroke-width="0.6" fill-opacity="0"/>
<circle cx="572.9" cy="541.3" r="1.75" fill="white" stroke="#86aaf2" stroke-width="0.6" fill-opacity="0"/>
<circle cx="569.9" cy="533.5" r="1.75" fill="white" stroke="#86aaf2" stroke-width="0.6" fill-opacity="0"/>
<circle cx="572.4" cy="531.9" r="1.75" fill="white" stroke="#86aaf2" stroke-width="0.6" fill-opacity="0"/>
<circle cx="569.9" cy="529.4" r="1.75" fill="white" stroke="#86aaf2" stroke-width="0.6" fill-opacity="0"/>
<circle cx="572.9" cy="528.9" r="1.75" fill="white" stroke="#86aaf2" stroke-width="0.6" fill-opacity="0"/>
<circle cx="569.9" cy="526.2" r="1.75" fill="white" stroke="#86aaf2" stroke-width="0.6" fill-opacity="0"/>
<circle cx="572.9" cy="525.5" r="1.75" fill="white" stroke="#86aaf2" stroke-width="0.6" fill-opacity="0"/>
<circle cx="566.9" cy="525.5" r="1.75" fill="white" stroke="#86aaf2" stroke-width="0.6" fill-opacity="0"/>
<circle cx="575.9" cy="524.8" r="1.75" fill="white" stroke="#86aaf2" stroke-width="0.6" fill-opacity="0"/>
<circle cx="570.9" cy="523.7" r="1.75" fill="white" stroke="#86aaf2" stroke-width="0.6" fill-opacity="0"/>
<circle cx="569.9" cy="515.2" r="1.75" fill="white" stroke="#86aaf2" stroke-width="0.6" fill-opacity="0"/>
<line x1="569.9" y1="533.3" x2="569.9" y2="538.9" stroke="#86aaf2" stroke-width="0.65" />
<line x1="566.9" y1="533.3" x2="572.9" y2="533.3" stroke="#86aaf2" stroke-width="0.65" />
<line x1="566.9" y1="538.9" x2="572.9" y2="538.9" stroke="#86aaf2" stroke-width="0.65" />
<circle cx="585.8" cy="558.8" r="1.75" fill="white" stroke="#f47f7f" stroke-width="0.6" fill-opacity="0"/>
<circle cx="585.8" cy="553.3" r="1.75" fill="white" stroke="#f47f7f" stroke-width="0.6" fill-opacity="0"/>
<circle cx="588.8" cy="552.8" r="1.75" fill="white" stroke="#f47f7f" stroke-width="0.6" fill-opacity="0"/>
<circle cx="585.8" cy="542.2" r="1.75" fill="white" stroke="#f47f7f" stroke-width="0.6" fill-opacity="0"/>
<circle cx="588.8" cy="541.8" r="1.75" fill="white" stroke="#f47f7f" stroke-width="0.6" fill-opacity="0"/>
<circle cx="582.8" cy="541.3" r="1.75" fill="white" stroke="#f47f7f" stroke-width="0.6" fill-opacity="0"/>
<circle cx="591.8" cy="541.3" r="1.75" fill="white" stroke="#f47f7f" stroke-width="0.6" fill-opacity="0"/>
<circle cx="580.3" cy="540.2" r="1.75" fill="white" stroke="#f47f7f" stroke-width="0.6" fill-opacity="0"/>
<circle cx="594.3" cy="539.7" r="1.75" fill="white" stroke="#f47f7f" stroke-width="0.6" fill-opacity="0"/>
<circle cx="585.8" cy="537.7" r="1.75" fill="white" stroke="#f47f7f" stroke-width="0.6" fill-opacity="0"/>
<circle cx="588.8" cy="537.6" r="1.75" fill="white" stroke="#f47f7f" stroke-width="0.6" fill-opacity="0"/>
<circle cx="582.8" cy="537.4" r="1.75" fill="white" stroke="#f47f7f" stroke-width="0.6" fill-opacity="0"/>
<circle cx="586.8" cy="535.2" r="1.75" fill="white" stroke="#f47f7f" stroke-width="0.6" fill-opacity="0"/>
<circle cx="590.3" cy="535.1" r="1.75" fill="white" stroke="#f47f7f" stroke-width="0.6" fill-opacity="0"/>
<circle cx="583.8" cy="534.7" r="1.75" fill="white" stroke="#f47f7f" stroke-width="0.6" fill-opacity="0"/>
<circle cx="580.8" cy="534.0" r="1.75" fill="white" stroke="#f47f7f" stroke-width="0.6" fill-opacity="0"/>
<circle cx="588.3" cy="532.7" r="1.75" fill="white" stroke="#f47f7f" stroke-width="0.6" fill-opacity="0"/>
<circle cx="585.8" cy="528.2" r="1.75" fill="white" stroke="#f47f7f" stroke-width="0.6" fill-opacity="0"/>
<circle cx="585.8" cy="525.2" r="1.75" fill="white" stroke="#f47f7f" stroke-width="0.6" fill-opacity="0"/>
<circle cx="588.3" cy="523.5" r="1.75" fill="white" stroke="#f47f7f" stroke-width="0.6" fill-opacity="0"/>
<line x1="585.8" y1="533.8" x2="585.8" y2="539.3" stroke="#f47f7f" stroke-width="0.65" />
<line x1="582.8" y1="533.8" x2="588.8" y2="533.8" stroke="#f47f7f" stroke-width="0.65" />
<line x1="582.8" y1="539.3" x2="588.8" y2="539.3" stroke="#f47f7f" stroke-width="0.65" />
<circle cx="616.0" cy="503.1" r="1.75" fill="white" stroke="#7474ee" stroke-width="0.6" fill-opacity="0"/>
<circle cx="616.0" cy="491.0" r="1.75" fill="white" stroke="#7474ee" stroke-width="0.6" fill-opacity="0"/>
<circle cx="618.5" cy="489.3" r="1.75" fill="white" stroke="#7474ee" stroke-width="0.6" fill-opacity="0"/>
<circle cx="614.0" cy="488.9" r="1.75" fill="white" stroke="#7474ee" stroke-width="0.6" fill-opacity="0"/>
<circle cx="611.0" cy="488.7" r="1.75" fill="white" stroke="#7474ee" stroke-width="0.6" fill-opacity="0"/>
<circle cx="621.5" cy="488.7" r="1.75" fill="white" stroke="#7474ee" stroke-width="0.6" fill-opacity="0"/>
<circle cx="616.5" cy="487.3" r="1.75" fill="white" stroke="#7474ee" stroke-width="0.6" fill-opacity="0"/>
<circle cx="615.0" cy="484.9" r="1.75" fill="white" stroke="#7474ee" stroke-width="0.6" fill-opacity="0"/>
<circle cx="618.0" cy="484.2" r="1.75" fill="white" stroke="#7474ee" stroke-width="0.6" fill-opacity="0"/>
<circle cx="612.5" cy="483.1" r="1.75" fill="white" stroke="#7474ee" stroke-width="0.6" fill-opacity="0"/>
<circle cx="616.0" cy="479.4" r="1.75" fill="white" stroke="#7474ee" stroke-width="0.6" fill-opacity="0"/>
<circle cx="618.0" cy="477.2" r="1.75" fill="white" stroke="#7474ee" stroke-width="0.6" fill-opacity="0"/>
<circle cx="615.0" cy="476.2" r="1.75" fill="white" stroke="#7474ee" stroke-width="0.6" fill-opacity="0"/>
<circle cx="612.0" cy="475.7" r="1.75" fill="white" stroke="#7474ee" stroke-width="0.6" fill-opacity="0"/>
<circle cx="620.5" cy="475.6" r="1.75" fill="white" stroke="#7474ee" stroke-width="0.6" fill-opacity="0"/>
<circle cx="617.0" cy="474.2" r="1.75" fill="white" stroke="#7474ee" stroke-width="0.6" fill-opacity="0"/>
<circle cx="614.0" cy="473.3" r="1.75" fill="white" stroke="#7474ee" stroke-width="0.6" fill-opacity="0"/>
<circle cx="616.0" cy="469.9" r="1.75" fill="white" stroke="#7474ee" stroke-width="0.6" fill-opacity="0"/>
<circle cx="619.0" cy="469.0" r="1.75" fill="white" stroke="#7474ee" stroke-width="0.6" fill-opacity="0"/>
<circle cx="616.0" cy="466.9" r="1.75" fill="white" stroke="#7474ee" stroke-width="0.6" fill-opacity="0"/>
<line x1="616.0" y1="481.3" x2="616.0" y2="485.9" stroke="#7474ee" stroke-width="0.65" />
<line x1="613.0" y1="481.3" x2="619.0" y2="481.3" stroke="#7474ee" stroke-width="0.65" />
<line x1="613.0" y1="485.9" x2="619.0" y2="485.9" stroke="#7474ee" stroke-width="0.65" />
<circle cx="632.0" cy="553.3" r="1.75" fill="white" stroke="#f57a45" stroke-width="0.6" fill-opacity="0"/>
<circle cx="635.0" cy="553.3" r="1.75" fill="white" stroke="#f57a45" stroke-width="0.6" fill-opacity="0"/>
<circle cx="629.0" cy="553.3" r="1.75" fill="white" stroke="#f57a45" stroke-width="0.6" fill-opacity="0"/>
<circle cx="632.0" cy="546.5" r="1.75" fill="white" stroke="#f57a45" stroke-width="0.6" fill-opacity="0"/>
<circle cx="635.0" cy="546.0" r="1.75" fill="white" stroke="#f57a45" stroke-width="0.6" fill-opacity="0"/>
<circle cx="630.5" cy="544.2" r="1.75" fill="white" stroke="#f57a45" stroke-width="0.6" fill-opacity="0"/>
<circle cx="627.5" cy="544.1" r="1.75" fill="white" stroke="#f57a45" stroke-width="0.6" fill-opacity="0"/>
<circle cx="632.5" cy="542.0" r="1.75" fill="white" stroke="#f57a45" stroke-width="0.6" fill-opacity="0"/>
<circle cx="629.5" cy="541.6" r="1.75" fill="white" stroke="#f57a45" stroke-width="0.6" fill-opacity="0"/>
<circle cx="632.0" cy="536.2" r="1.75" fill="white" stroke="#f57a45" stroke-width="0.6" fill-opacity="0"/>
<circle cx="635.0" cy="535.7" r="1.75" fill="white" stroke="#f57a45" stroke-width="0.6" fill-opacity="0"/>
<circle cx="629.0" cy="535.5" r="1.75" fill="white" stroke="#f57a45" stroke-width="0.6" fill-opacity="0"/>
<circle cx="638.0" cy="535.5" r="1.75" fill="white" stroke="#f57a45" stroke-width="0.6" fill-opacity="0"/>
<circle cx="626.0" cy="534.7" r="1.75" fill="white" stroke="#f57a45" stroke-width="0.6" fill-opacity="0"/>
<circle cx="640.5" cy="534.4" r="1.75" fill="white" stroke="#f57a45" stroke-width="0.6" fill-opacity="0"/>
<circle cx="632.0" cy="532.8" r="1.75" fill="white" stroke="#f57a45" stroke-width="0.6" fill-opacity="0"/>
<circle cx="634.0" cy="530.6" r="1.75" fill="white" stroke="#f57a45" stroke-width="0.6" fill-opacity="0"/>
<circle cx="631.5" cy="529.2" r="1.75" fill="white" stroke="#f57a45" stroke-width="0.6" fill-opacity="0"/>
<circle cx="634.0" cy="527.6" r="1.75" fill="white" stroke="#f57a45" stroke-width="0.6" fill-opacity="0"/>
<circle cx="632.0" cy="522.6" r="1.75" fill="white" stroke="#f57a45" stroke-width="0.6" fill-opacity="0"/>
<line x1="632.0" y1="536.7" x2="632.0" y2="541.4" stroke="#f57a45" stroke-width="0.65" />
<line x1="629.0" y1="536.7" x2="635.0" y2="536.7" stroke="#f57a45" stroke-width="0.65" />
<line x1="629.0" y1="541.4" x2="635.0" y2="541.4" stroke="#f57a45" stroke-width="0.65" />
<circle cx="648.4" cy="502.2" r="1.75" fill="white" stroke="#7474ee" stroke-width="0.6" fill-opacity="0"/>
<circle cx="650.9" cy="501.0" r="1.75" fill="white" stroke="#7474ee" stroke-width="0.6" fill-opacity="0"/>
<circle cx="648.4" cy="497.8" r="1.75" fill="white" stroke="#7474ee" stroke-width="0.6" fill-opacity="0"/>
<circle cx="648.4" cy="494.1" r="1.75" fill="white" stroke="#7474ee" stroke-width="0.6" fill-opacity="0"/>
<circle cx="648.4" cy="490.9" r="1.75" fill="white" stroke="#7474ee" stroke-width="0.6" fill-opacity="0"/>
<circle cx="651.4" cy="490.3" r="1.75" fill="white" stroke="#7474ee" stroke-width="0.6" fill-opacity="0"/>
<circle cx="645.9" cy="489.6" r="1.75" fill="white" stroke="#7474ee" stroke-width="0.6" fill-opacity="0"/>
<circle cx="648.4" cy="488.1" r="1.75" fill="white" stroke="#7474ee" stroke-width="0.6" fill-opacity="0"/>
<circle cx="652.9" cy="488.0" r="1.75" fill="white" stroke="#7474ee" stroke-width="0.6" fill-opacity="0"/>
<circle cx="650.4" cy="486.2" r="1.75" fill="white" stroke="#7474ee" stroke-width="0.6" fill-opacity="0"/>
<circle cx="648.4" cy="483.7" r="1.75" fill="white" stroke="#7474ee" stroke-width="0.6" fill-opacity="0"/>
<circle cx="651.4" cy="483.1" r="1.75" fill="white" stroke="#7474ee" stroke-width="0.6" fill-opacity="0"/>
<circle cx="645.9" cy="482.3" r="1.75" fill="white" stroke="#7474ee" stroke-width="0.6" fill-opacity="0"/>
<circle cx="653.9" cy="481.5" r="1.75" fill="white" stroke="#7474ee" stroke-width="0.6" fill-opacity="0"/>
<circle cx="648.4" cy="478.3" r="1.75" fill="white" stroke="#7474ee" stroke-width="0.6" fill-opacity="0"/>
<circle cx="650.9" cy="476.7" r="1.75" fill="white" stroke="#7474ee" stroke-width="0.6" fill-opacity="0"/>
<circle cx="648.4" cy="475.1" r="1.75" fill="white" stroke="#7474ee" stroke-width="0.6" fill-opacity="0"/>
<circle cx="648.4" cy="463.7" r="1.75" fill="white" stroke="#7474ee" stroke-width="0.6" fill-opacity="0"/>
<circle cx="651.4" cy="463.0" r="1.75" fill="white" stroke="#7474ee" stroke-width="0.6" fill-opacity="0"/>
<circle cx="646.9" cy="461.3" r="1.75" fill="white" stroke="#7474ee" stroke-width="0.6" fill-opacity="0"/>
<line x1="648.4" y1="481.3" x2="648.4" y2="485.9" stroke="#7474ee" stroke-width="0.65" />
<line x1="645.4" y1="481.3" x2="651.4" y2="481.3" stroke="#7474ee" stroke-width="0.65" />
<line x1="645.4" y1="485.9" x2="651.4" y2="485.9" stroke="#7474ee" stroke-width="0.65" />
<circle cx="664.1" cy="558.8" r="1.75" fill="white" stroke="#f57a45" stroke-width="0.6" fill-opacity="0"/>
<circle cx="664.1" cy="554.4" r="1.75" fill="white" stroke="#f57a45" stroke-width="0.6" fill-opacity="0"/>
<circle cx="664.1" cy="549.3" r="1.75" fill="white" stroke="#f57a45" stroke-width="0.6" fill-opacity="0"/>
<circle cx="667.1" cy="548.5" r="1.75" fill="white" stroke="#f57a45" stroke-width="0.6" fill-opacity="0"/>
<circle cx="664.1" cy="545.7" r="1.75" fill="white" stroke="#f57a45" stroke-width="0.6" fill-opacity="0"/>
<circle cx="667.1" cy="545.5" r="1.75" fill="white" stroke="#f57a45" stroke-width="0.6" fill-opacity="0"/>
<circle cx="661.1" cy="544.7" r="1.75" fill="white" stroke="#f57a45" stroke-width="0.6" fill-opacity="0"/>
<circle cx="664.1" cy="542.1" r="1.75" fill="white" stroke="#f57a45" stroke-width="0.6" fill-opacity="0"/>
<circle cx="666.6" cy="540.5" r="1.75" fill="white" stroke="#f57a45" stroke-width="0.6" fill-opacity="0"/>
<circle cx="661.6" cy="540.5" r="1.75" fill="white" stroke="#f57a45" stroke-width="0.6" fill-opacity="0"/>
<circle cx="664.1" cy="538.2" r="1.75" fill="white" stroke="#f57a45" stroke-width="0.6" fill-opacity="0"/>
<circle cx="668.1" cy="538.2" r="1.75" fill="white" stroke="#f57a45" stroke-width="0.6" fill-opacity="0"/>
<circle cx="661.1" cy="537.6" r="1.75" fill="white" stroke="#f57a45" stroke-width="0.6" fill-opacity="0"/>
<circle cx="664.1" cy="533.4" r="1.75" fill="white" stroke="#f57a45" stroke-width="0.6" fill-opacity="0"/>
<circle cx="667.1" cy="532.7" r="1.75" fill="white" stroke="#f57a45" stroke-width="0.6" fill-opacity="0"/>
<circle cx="664.1" cy="527.4" r="1.75" fill="white" stroke="#f57a45" stroke-width="0.6" fill-opacity="0"/>
<circle cx="666.6" cy="526.3" r="1.75" fill="white" stroke="#f57a45" stroke-width="0.6" fill-opacity="0"/>
<circle cx="664.1" cy="518.6" r="1.75" fill="white" stroke="#f57a45" stroke-width="0.6" fill-opacity="0"/>
<circle cx="664.1" cy="515.1" r="1.75" fill="white" stroke="#f57a45" stroke-width="0.6" fill-opacity="0"/>
<circle cx="666.6" cy="513.3" r="1.75" fill="white" stroke="#f57a45" stroke-width="0.6" fill-opacity="0"/>
<line x1="664.1" y1="535.1" x2="664.1" y2="539.8" stroke="#f57a45" stroke-width="0.65" />
<line x1="661.1" y1="535.1" x2="667.1" y2="535.1" stroke="#f57a45" stroke-width="0.65" />
<line x1="661.1" y1="539.8" x2="667.1" y2="539.8" stroke="#f57a45" stroke-width="0.65" />
<line x1="537.3" y1="560.7" x2="537.3" y2="564.7" stroke="#666" stroke-width="0.9" />
<line x1="553.0" y1="560.7" x2="553.0" y2="564.7" stroke="#666" stroke-width="0.9" />
<line x1="569.8" y1="560.7" x2="569.8" y2="564.7" stroke="#666" stroke-width="0.9" />
<line x1="585.3" y1="560.7" x2="585.3" y2="564.7" stroke="#666" stroke-width="0.9" />
<line x1="615.5" y1="560.7" x2="615.5" y2="564.7" stroke="#666" stroke-width="0.9" />
<line x1="631.3" y1="560.7" x2="631.3" y2="564.7" stroke="#666" stroke-width="0.9" />
<line x1="647.1" y1="560.7" x2="647.1" y2="564.7" stroke="#666" stroke-width="0.9" />
<line x1="663.2" y1="560.7" x2="663.2" y2="564.7" stroke="#666" stroke-width="0.9" />
<path d="M535.50 439.10 L535.50 432.50 L572.30 432.50 L572.30 439.10" stroke="#3a3a3a" stroke-width="0.8" fill="none" />
<polygon points="546.65,424.40 547.33,426.07 549.12,426.20 547.74,427.36 548.18,429.10 546.65,428.15 545.12,429.10 545.56,427.36 544.18,426.20 545.97,426.07" fill="#1a1a1a"/>
<polygon points="552.55,424.40 553.23,426.07 555.02,426.20 553.64,427.36 554.08,429.10 552.55,428.15 551.02,429.10 551.46,427.36 550.08,426.20 551.87,426.07" fill="#1a1a1a"/>
<polygon points="558.45,424.40 559.13,426.07 560.92,426.20 559.54,427.36 559.98,429.10 558.45,428.15 556.92,429.10 557.36,427.36 555.98,426.20 557.77,426.07" fill="#1a1a1a"/>
<polygon points="564.35,424.40 565.03,426.07 566.82,426.20 565.44,427.36 565.88,429.10 564.35,428.15 562.82,429.10 563.26,427.36 561.88,426.20 563.67,426.07" fill="#1a1a1a"/>
<path d="M534.60 457.70 L534.60 451.60 L556.20 451.60 L556.20 457.70" stroke="#3a3a3a" stroke-width="0.8" fill="none" />
<text x="545.4" y="448.5" font-size="8.4" text-anchor="middle" fill="#231f20" >NS</text>
<path d="M567.50 504.80 L567.50 498.00 L589.30 498.00 L589.30 504.80" stroke="#3a3a3a" stroke-width="0.8" fill="none" />
<text x="578.4" y="495.7" font-size="8.4" text-anchor="middle" fill="#231f20" >NS</text>
<path d="M612.50 459.90 L612.50 453.30 L633.60 453.30 L633.60 459.90" stroke="#3a3a3a" stroke-width="0.8" fill="none" />
<polygon points="614.65,444.80 615.33,446.47 617.12,446.60 615.74,447.76 616.18,449.50 614.65,448.55 613.12,449.50 613.56,447.76 612.18,446.60 613.97,446.47" fill="#1a1a1a"/>
<polygon points="620.55,444.80 621.23,446.47 623.02,446.60 621.64,447.76 622.08,449.50 620.55,448.55 619.02,449.50 619.46,447.76 618.08,446.60 619.87,446.47" fill="#1a1a1a"/>
<polygon points="626.45,444.80 627.13,446.47 628.92,446.60 627.54,447.76 627.98,449.50 626.45,448.55 624.92,449.50 625.36,447.76 623.98,446.60 625.77,446.47" fill="#1a1a1a"/>
<polygon points="632.35,444.80 633.03,446.47 634.82,446.60 633.44,447.76 633.88,449.50 632.35,448.55 630.82,449.50 631.26,447.76 629.88,446.60 631.67,446.47" fill="#1a1a1a"/>
<path d="M645.40 453.30 L645.40 446.70 L666.40 446.70 L666.40 453.30" stroke="#3a3a3a" stroke-width="0.8" fill="none" />
<polygon points="647.15,438.20 647.83,439.87 649.62,440.00 648.24,441.16 648.68,442.90 647.15,441.95 645.62,442.90 646.06,441.16 644.68,440.00 646.47,439.87" fill="#1a1a1a"/>
<polygon points="653.05,438.20 653.73,439.87 655.52,440.00 654.14,441.16 654.58,442.90 653.05,441.95 651.52,442.90 651.96,441.16 650.58,440.00 652.37,439.87" fill="#1a1a1a"/>
<polygon points="658.95,438.20 659.63,439.87 661.42,440.00 660.04,441.16 660.48,442.90 658.95,441.95 657.42,442.90 657.86,441.16 656.48,440.00 658.27,439.87" fill="#1a1a1a"/>
<polygon points="664.85,438.20 665.53,439.87 667.32,440.00 665.94,441.16 666.38,442.90 664.85,441.95 663.32,442.90 663.76,441.16 662.38,440.00 664.17,439.87" fill="#1a1a1a"/>
<text transform="translate(546.60,574.80) rotate(-45)" font-size="9.6" text-anchor="end" fill="#231f20">C57/PAMA<tspan font-size="5.5" dy="-4.03">GPR120+/+</tspan></text>
<text transform="translate(562.30,574.80) rotate(-45)" font-size="9.6" text-anchor="end" fill="#231f20">C57/PAMA<tspan font-size="5.5" dy="-4.03">GPR120–/–</tspan></text>
<text transform="translate(579.10,574.80) rotate(-45)" font-size="9.6" text-anchor="end" fill="#231f20">PS1/PAMA<tspan font-size="5.5" dy="-4.03">GPR120+/+</tspan></text>
<text transform="translate(594.60,574.80) rotate(-45)" font-size="9.6" text-anchor="end" fill="#231f20">PS1/PAMA<tspan font-size="5.5" dy="-4.03">GPR120–/–</tspan></text>
<text transform="translate(624.80,574.80) rotate(-45)" font-size="9.6" text-anchor="end" fill="#231f20">PS1/PAMA<tspan font-size="5.5" dy="-4.03">GPR120+/+</tspan></text>
<text transform="translate(640.60,574.80) rotate(-45)" font-size="9.6" text-anchor="end" fill="#231f20">PS1/PAMA<tspan font-size="5.5" dy="-4.03">GPR120–/–</tspan></text>
<text transform="translate(656.40,574.80) rotate(-45)" font-size="9.6" text-anchor="end" fill="#231f20">PS1/PAMA<tspan font-size="5.5" dy="-4.03">Gαi1+/+</tspan></text>
<text transform="translate(672.50,574.80) rotate(-45)" font-size="9.6" text-anchor="end" fill="#231f20">PS1/PAMA<tspan font-size="5.5" dy="-4.03">Gαi1–/–</tspan></text>
<line x1="485.9" y1="631.6" x2="547.3" y2="631.6" stroke="#555" stroke-width="0.9" />
<line x1="567.5" y1="631.6" x2="629.0" y2="631.6" stroke="#555" stroke-width="0.9" />
<text x="516.8" y="645.7" font-size="10.6" text-anchor="middle" fill="#231f20"  letter-spacing="0.3">Vehicle</text>
<text x="597.7" y="645.7" font-size="10.3" text-anchor="middle" fill="#231f20" >A-E</text>
<text x="3.7" y="696.8" font-size="16" font-weight="bold" fill="#000" stroke="#000" stroke-width="0.45">h</text>
<text x="47.3" y="696.8" font-size="8.7" fill="#ee46d2" >C57/PAMA<tspan font-size="5.20" dy="-3.60">GPR120+/+</tspan></text>
<text x="47.3" y="710.7" font-size="8.7" fill="#ee46d2" >(<tspan font-style="italic">n</tspan> = 72, MLE = 812)</text>
<text x="47.3" y="727.3" font-size="8.7" fill="#2fa8e4" >C57/PAMA<tspan font-size="5.20" dy="-3.60">GPR120–/–</tspan></text>
<text x="47.3" y="741.0" font-size="8.7" fill="#2fa8e4" >(<tspan font-style="italic">n</tspan> = 78, MLE = 810)</text>
<line x1="68.7" y1="779.0" x2="68.7" y2="859.4" stroke="#666" stroke-width="1.0" />
<line x1="68.2" y1="859.4" x2="147.4" y2="859.4" stroke="#666" stroke-width="1.0" />
<line x1="63.0" y1="859.4" x2="68.7" y2="859.4" stroke="#666" stroke-width="1.0" />
<text x="60.5" y="863.3" font-size="9.0" text-anchor="end" fill="#231f20"  letter-spacing="0.5">0</text>
<line x1="63.0" y1="839.3" x2="68.7" y2="839.3" stroke="#666" stroke-width="1.0" />
<text x="60.5" y="843.2" font-size="9.0" text-anchor="end" fill="#231f20"  letter-spacing="0.5">30</text>
<line x1="63.0" y1="819.2" x2="68.7" y2="819.2" stroke="#666" stroke-width="1.0" />
<text x="60.5" y="823.1" font-size="9.0" text-anchor="end" fill="#231f20"  letter-spacing="0.5">60</text>
<line x1="63.0" y1="799.1" x2="68.7" y2="799.1" stroke="#666" stroke-width="1.0" />
<text x="60.5" y="803.0" font-size="9.0" text-anchor="end" fill="#231f20"  letter-spacing="0.5">90</text>
<line x1="63.0" y1="779.0" x2="68.7" y2="779.0" stroke="#666" stroke-width="1.0" />
<text x="60.5" y="782.9" font-size="9.0" text-anchor="end" fill="#231f20"  letter-spacing="0.5">120</text>
<line x1="68.7" y1="859.4" x2="68.7" y2="864.1" stroke="#666" stroke-width="1.0" />
<text x="68.7" y="876.0" font-size="9.0" text-anchor="middle" fill="#231f20"  letter-spacing="0.1">0</text>
<line x1="94.9" y1="859.4" x2="94.9" y2="864.1" stroke="#666" stroke-width="1.0" />
<text x="95.0" y="876.0" font-size="9.0" text-anchor="middle" fill="#231f20"  letter-spacing="0.1">400</text>
<line x1="121.2" y1="859.4" x2="121.2" y2="864.1" stroke="#666" stroke-width="1.0" />
<text x="121.2" y="876.0" font-size="9.0" text-anchor="middle" fill="#231f20"  letter-spacing="0.1">800</text>
<line x1="147.4" y1="859.4" x2="147.4" y2="864.1" stroke="#666" stroke-width="1.0" />
<text x="147.5" y="876.0" font-size="9.0" text-anchor="middle" fill="#231f20"  letter-spacing="0.1">1,200</text>
<text x="108.2" y="890.5" font-size="10.4" text-anchor="middle" fill="#231f20"  letter-spacing="0.35">Time (days)</text>
<text transform="translate(36.20,819.20) rotate(-90)" font-size="10.4" text-anchor="middle" fill="#231f20" letter-spacing="0.15">Survival (%)</text>
<text x="91.2" y="773.8" font-size="10.6" text-anchor="middle" fill="#231f20"  letter-spacing="0.3">Vehicle</text>
<path d="M68.7 792.4 H85.8 V793.1 H93.4 V794.4 H102.1 V801.8 H107.8 V806.5 H110.7 V808.5 H114.5 V812.5 H118.3 V824.6 H122.1 V827.2 H127.8 V840.6 H131.7 V852.0 H134.3 V854.0 H136.9 V856.0 H139.5 V857.4 H144.1 V858.7 H147.4 V859.4" stroke="#f07cf0" stroke-width="1.0" fill="none" />
<path d="M68.7 792.4 H86.2 V795.8 H97.3 V798.4 H103.4 V800.4 H106.8 V805.8 H112.5 V811.2 H117.6 V819.9 H119.6 V827.2 H124.4 V827.9 H127.8 V840.6 H132.9 V857.4 H140.8 V858.7 H147.4 V859.4" stroke="#3d8ee8" stroke-width="1.0" fill="none" />
<text x="183.6" y="696.6" font-size="16" font-weight="bold" fill="#000" stroke="#000" stroke-width="0.45">i</text>
<text x="203.9" y="696.8" font-size="8.7" fill="#ee46d2" >PS1/PAMA<tspan font-size="5.20" dy="-3.60">GPR120+/+</tspan></text>
<text x="203.9" y="710.7" font-size="8.7" fill="#ee46d2" >(<tspan font-style="italic">n</tspan> = 60, MLE = 721)</text>
<text x="203.9" y="727.3" font-size="8.7" fill="#2fa8e4" >PS1/PAMA<tspan font-size="5.2" dy="-6.5">GPR120–/–</tspan></text>
<text x="203.9" y="741.0" font-size="8.7" fill="#2fa8e4" >(<tspan font-style="italic">n</tspan> = 56, MLE = 716)</text>
<line x1="224.9" y1="779.6" x2="224.9" y2="859.2" stroke="#666" stroke-width="1.0" />
<line x1="224.4" y1="859.2" x2="305.5" y2="859.2" stroke="#666" stroke-width="1.0" />
<line x1="219.2" y1="859.2" x2="224.9" y2="859.2" stroke="#666" stroke-width="1.0" />
<text x="216.7" y="863.1" font-size="9.0" text-anchor="end" fill="#231f20"  letter-spacing="0.5">0</text>
<line x1="219.2" y1="839.3" x2="224.9" y2="839.3" stroke="#666" stroke-width="1.0" />
<text x="216.7" y="843.2" font-size="9.0" text-anchor="end" fill="#231f20"  letter-spacing="0.5">30</text>
<line x1="219.2" y1="819.4" x2="224.9" y2="819.4" stroke="#666" stroke-width="1.0" />
<text x="216.7" y="823.3" font-size="9.0" text-anchor="end" fill="#231f20"  letter-spacing="0.5">60</text>
<line x1="219.2" y1="799.5" x2="224.9" y2="799.5" stroke="#666" stroke-width="1.0" />
<text x="216.7" y="803.4" font-size="9.0" text-anchor="end" fill="#231f20"  letter-spacing="0.5">90</text>
<line x1="219.2" y1="779.6" x2="224.9" y2="779.6" stroke="#666" stroke-width="1.0" />
<text x="216.7" y="783.5" font-size="9.0" text-anchor="end" fill="#231f20"  letter-spacing="0.5">120</text>
<line x1="224.9" y1="859.2" x2="224.9" y2="863.9" stroke="#666" stroke-width="1.0" />
<text x="225.0" y="875.8" font-size="9.0" text-anchor="middle" fill="#231f20"  letter-spacing="0.1">0</text>
<line x1="265.2" y1="859.2" x2="265.2" y2="863.9" stroke="#666" stroke-width="1.0" />
<text x="265.2" y="875.8" font-size="9.0" text-anchor="middle" fill="#231f20"  letter-spacing="0.1">500</text>
<line x1="305.5" y1="859.2" x2="305.5" y2="863.9" stroke="#666" stroke-width="1.0" />
<text x="305.6" y="875.8" font-size="9.0" text-anchor="middle" fill="#231f20"  letter-spacing="0.1">1,000</text>
<text x="265.4" y="890.5" font-size="10.4" text-anchor="middle" fill="#231f20"  letter-spacing="0.35">Time (days)</text>
<text transform="translate(191.20,819.40) rotate(-90)" font-size="10.4" text-anchor="middle" fill="#231f20" letter-spacing="0.15">Survival (%)</text>
<text x="248.0" y="773.8" font-size="10.6" text-anchor="middle" fill="#231f20"  letter-spacing="0.3">Vehicle</text>
<path d="M224.9 792.9 H241.0 V794.9 H246.7 V796.2 H251.4 V799.5 H262.8 V800.2 H263.8 V806.8 H271.4 V817.4 H278.0 V819.4 H280.8 V826.0 H283.7 V833.3 H292.2 V842.6 H296.0 V852.6 H299.8 V855.9 H303.6 V859.2" stroke="#f07cf0" stroke-width="1.0" fill="none" />
<path d="M224.9 792.9 H241.6 V793.5 H245.4 V798.2 H262.4 V809.5 H271.4 V817.4 H278.0 V821.4 H281.8 V824.0 H284.6 V828.7 H286.5 V834.0 H291.3 V843.9 H295.1 V851.9 H297.9 V854.6 H301.7 V857.2 H304.6 V859.2" stroke="#3d8ee8" stroke-width="1.0" fill="none" />
<text x="347.4" y="696.6" font-size="16" font-weight="bold" fill="#000" stroke="#000" stroke-width="0.45">j</text>
<text x="367.8" y="696.8" font-size="8.7" fill="#ee46d2" >PS1/PAMA<tspan font-size="5.20" dy="-3.60">GPR120+/+</tspan></text>
<text x="367.8" y="710.7" font-size="8.7" fill="#ee46d2" >(<tspan font-style="italic">n</tspan> = 53, MLE = 807)</text>
<text x="367.8" y="727.3" font-size="8.7" fill="#2fa8e4" >PS1/PAMA<tspan font-size="5.20" dy="-3.60">GPR120–/–</tspan></text>
<text x="367.8" y="741.0" font-size="8.7" fill="#2fa8e4" >(<tspan font-style="italic">n</tspan> = 59, MLE = 719)</text>
<line x1="389.5" y1="779.5" x2="389.5" y2="859.2" stroke="#666" stroke-width="1.0" />
<line x1="389.0" y1="859.2" x2="469.3" y2="859.2" stroke="#666" stroke-width="1.0" />
<line x1="383.8" y1="859.2" x2="389.5" y2="859.2" stroke="#666" stroke-width="1.0" />
<text x="381.3" y="863.1" font-size="9.0" text-anchor="end" fill="#231f20"  letter-spacing="0.5">0</text>
<line x1="383.8" y1="839.3" x2="389.5" y2="839.3" stroke="#666" stroke-width="1.0" />
<text x="381.3" y="843.2" font-size="9.0" text-anchor="end" fill="#231f20"  letter-spacing="0.5">30</text>
<line x1="383.8" y1="819.4" x2="389.5" y2="819.4" stroke="#666" stroke-width="1.0" />
<text x="381.3" y="823.2" font-size="9.0" text-anchor="end" fill="#231f20"  letter-spacing="0.5">60</text>
<line x1="383.8" y1="799.4" x2="389.5" y2="799.4" stroke="#666" stroke-width="1.0" />
<text x="381.3" y="803.3" font-size="9.0" text-anchor="end" fill="#231f20"  letter-spacing="0.5">90</text>
<line x1="383.8" y1="779.5" x2="389.5" y2="779.5" stroke="#666" stroke-width="1.0" />
<text x="381.3" y="783.4" font-size="9.0" text-anchor="end" fill="#231f20"  letter-spacing="0.5">120</text>
<line x1="389.5" y1="859.2" x2="389.5" y2="863.9" stroke="#666" stroke-width="1.0" />
<text x="389.6" y="875.8" font-size="9.0" text-anchor="middle" fill="#231f20"  letter-spacing="0.1">0</text>
<line x1="422.8" y1="859.2" x2="422.8" y2="863.9" stroke="#666" stroke-width="1.0" />
<text x="422.8" y="875.8" font-size="9.0" text-anchor="middle" fill="#231f20"  letter-spacing="0.1">500</text>
<line x1="456.0" y1="859.2" x2="456.0" y2="863.9" stroke="#666" stroke-width="1.0" />
<text x="456.1" y="875.8" font-size="9.0" text-anchor="middle" fill="#231f20"  letter-spacing="0.1">1,000</text>
<text x="429.6" y="890.5" font-size="10.4" text-anchor="middle" fill="#231f20"  letter-spacing="0.35">Time (days)</text>
<text transform="translate(351.00,819.35) rotate(-90)" font-size="10.4" text-anchor="middle" fill="#231f20" letter-spacing="0.15">Survival (%)</text>
<text x="392.8" y="773.8" font-size="10.6" fill="#231f20"  letter-spacing="0.3">A-E</text>
<path d="M389.5 792.8 H400.5 V793.4 H406.2 V794.8 H420.5 V799.4 H431.9 V808.1 H439.4 V824.7 H443.2 V830.6 H446.9 V836.0 H451.7 V847.2 H454.5 V855.9 H463.1 V857.9 H468.8 V859.2 H469.3" stroke="#f07cf0" stroke-width="1.0" fill="none" />
<path d="M389.5 792.8 H400.1 V795.4 H418.6 V804.1 H429.5 V807.4 H431.4 V821.3 H436.5 V830.0 H441.3 V840.6 H445.0 V849.2 H447.9 V855.9 H450.7 V859.2 H469.3" stroke="#3d8ee8" stroke-width="1.0" fill="none" />
<text x="396.4" y="853.5" font-size="9.2" fill="#231f20" ><tspan font-style="italic">P</tspan> &lt; 0.0001</text>
<text x="512.0" y="696.6" font-size="16" font-weight="bold" fill="#000" stroke="#000" stroke-width="0.45">k</text>
<text x="532.6" y="696.8" font-size="8.7" fill="#ee46d2" >5 × FAD/PAMA<tspan font-size="5.20" dy="-3.60">GPR120+/+</tspan></text>
<text x="532.6" y="710.7" font-size="8.7" fill="#ee46d2" >(<tspan font-style="italic">n</tspan> = 55, MLE = 636)</text>
<text x="532.6" y="727.3" font-size="8.7" fill="#5252d6" >5 × FAD/PAMA<tspan font-size="5.20" dy="-3.60">GPR120+/+</tspan></text>
<text x="532.6" y="741.0" font-size="8.7" fill="#5252d6" >(<tspan font-style="italic">n</tspan> = 52, MLE = 781)</text>
<text x="532.6" y="756.7" font-size="8.7" fill="#2fa8e4" >5×FAD/PAMA<tspan font-size="5.20" dy="-3.60">GPR120–/–</tspan></text>
<text x="532.6" y="771.2" font-size="8.7" fill="#2fa8e4" >(<tspan font-style="italic">n</tspan> = 61, MLE = 639)</text>
<line x1="580.4" y1="782.9" x2="593.1" y2="782.9" stroke="#f07cf0" stroke-width="0.8" />
<text x="599.3" y="786.2" font-size="8.9" fill="#ee46d2" >GPR120<tspan font-size="5.8" dy="-3.8">+/+</tspan><tspan dy="3.8">-Vehicle</tspan></text>
<line x1="580.4" y1="793.2" x2="593.1" y2="793.2" stroke="#6c5ee4" stroke-width="0.8" />
<text x="599.3" y="796.5" font-size="8.9" fill="#5252d6" >GPR120<tspan font-size="5.8" dy="-3.8">+/+</tspan><tspan dy="3.8">-A-E</tspan></text>
<line x1="580.4" y1="803.8" x2="593.1" y2="803.8" stroke="#3ab8ee" stroke-width="0.8" />
<text x="599.3" y="807.1" font-size="8.9" fill="#2fa8e4" >GPR120<tspan font-size="5.8" dy="-3.8">–/–</tspan><tspan dy="3.8">-A-E</tspan></text>
<line x1="554.5" y1="801.3" x2="554.5" y2="858.3" stroke="#666" stroke-width="1.0" />
<line x1="554.0" y1="858.3" x2="633.9" y2="858.3" stroke="#666" stroke-width="1.0" />
<line x1="548.8" y1="858.3" x2="554.5" y2="858.3" stroke="#666" stroke-width="1.0" />
<text x="546.3" y="862.2" font-size="9.0" text-anchor="end" fill="#231f20"  letter-spacing="0.5">0</text>
<line x1="548.8" y1="844.0" x2="554.5" y2="844.0" stroke="#666" stroke-width="1.0" />
<text x="546.3" y="847.9" font-size="9.0" text-anchor="end" fill="#231f20"  letter-spacing="0.5">30</text>
<line x1="548.8" y1="829.8" x2="554.5" y2="829.8" stroke="#666" stroke-width="1.0" />
<text x="546.3" y="833.7" font-size="9.0" text-anchor="end" fill="#231f20"  letter-spacing="0.5">60</text>
<line x1="548.8" y1="815.5" x2="554.5" y2="815.5" stroke="#666" stroke-width="1.0" />
<text x="546.3" y="819.4" font-size="9.0" text-anchor="end" fill="#231f20"  letter-spacing="0.5">90</text>
<line x1="548.8" y1="801.3" x2="554.5" y2="801.3" stroke="#666" stroke-width="1.0" />
<text x="546.3" y="805.2" font-size="9.0" text-anchor="end" fill="#231f20"  letter-spacing="0.5">120</text>
<line x1="554.5" y1="858.3" x2="554.5" y2="863.0" stroke="#666" stroke-width="1.0" />
<text x="554.5" y="874.9" font-size="9.0" text-anchor="middle" fill="#231f20"  letter-spacing="0.1">0</text>
<line x1="581.0" y1="858.3" x2="581.0" y2="863.0" stroke="#666" stroke-width="1.0" />
<text x="581.0" y="874.9" font-size="9.0" text-anchor="middle" fill="#231f20"  letter-spacing="0.1">400</text>
<line x1="607.4" y1="858.3" x2="607.4" y2="863.0" stroke="#666" stroke-width="1.0" />
<text x="607.5" y="874.9" font-size="9.0" text-anchor="middle" fill="#231f20"  letter-spacing="0.1">800</text>
<line x1="633.9" y1="858.3" x2="633.9" y2="863.0" stroke="#666" stroke-width="1.0" />
<text x="633.9" y="874.9" font-size="9.0" text-anchor="middle" fill="#231f20"  letter-spacing="0.1">1,200</text>
<text x="594.4" y="890.5" font-size="10.4" text-anchor="middle" fill="#231f20"  letter-spacing="0.35">Time (days)</text>
<text transform="translate(520.60,829.80) rotate(-90)" font-size="10.4" text-anchor="middle" fill="#231f20" letter-spacing="0.15">Survival (%)</text>
<path d="M554.5 810.8 H568.4 V811.8 H576.9 V814.1 H580.7 V815.5 H585.6 V817.9 H588.3 V823.6 H590.2 V828.4 H594.2 V832.2 H596.8 V836.9 H600.8 V839.3 H603.5 V844.0 H608.3 V848.8 H610.7 V852.6 H613.0 V855.9 H614.9 V858.3 H633.9" stroke="#f07cf0" stroke-width="1.0" fill="none" />
<path d="M554.5 810.8 H569.3 V812.7 H576.3 V814.1 H580.7 V818.4 H588.3 V825.0 H594.0 V829.8 H596.8 V836.9 H602.6 V844.0 H606.4 V853.5 H609.2 V856.9 H613.9 V858.3 H633.9" stroke="#6c5ee4" stroke-width="1.0" fill="none" />
<path d="M554.5 810.8 H571.2 V811.8 H576.9 V813.2 H585.5 V816.0 H590.6 V818.4 H591.7 V822.7 H599.7 V828.8 H606.4 V836.9 H613.0 V840.7 H614.9 V844.0 H617.8 V851.2 H619.7 V856.9 H623.4 V857.8 H633.9 V858.3 H633.9" stroke="#3ab8ee" stroke-width="1.0" fill="none" />
<text x="556.2" y="853.4" font-size="9.2" fill="#231f20" ><tspan font-style="italic">P</tspan> &lt; 0.0001</text>
</svg></body></html>
